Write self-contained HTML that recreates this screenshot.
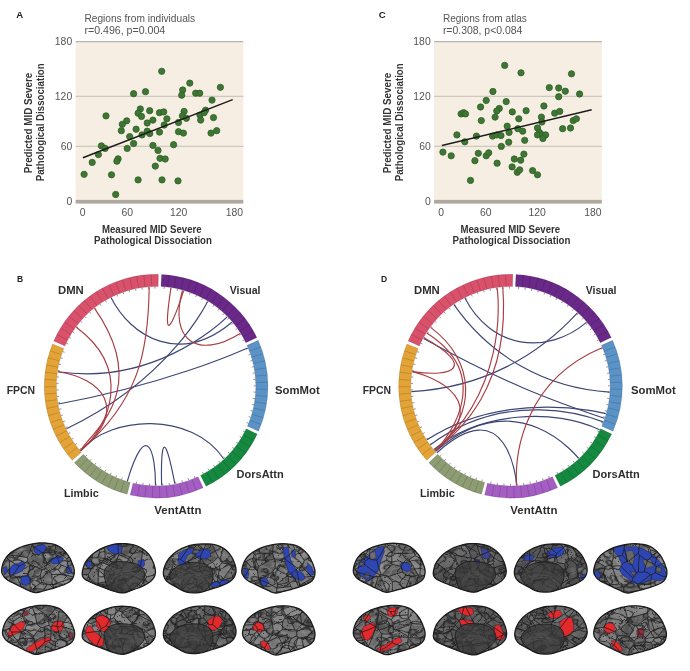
<!DOCTYPE html>
<html><head><meta charset="utf-8"><style>
html,body{margin:0;padding:0;background:#fff;}
svg{display:block;will-change:transform;}
</style></head><body>
<svg width="690" height="671" viewBox="0 0 690 671" font-family='"Liberation Sans", Arial, sans-serif'>
<rect width="690" height="671" fill="#ffffff"/>
<rect x="75.6" y="41.6" width="167.7" height="158.4" fill="#f6eee3"/>
<line x1="75.6" y1="41.6" x2="243.3" y2="41.6" stroke="#b9b3aa" stroke-width="1.2"/>
<line x1="75.6" y1="96.3" x2="243.3" y2="96.3" stroke="#c6bfb4" stroke-width="1"/>
<line x1="75.6" y1="146.3" x2="243.3" y2="146.3" stroke="#c6bfb4" stroke-width="1"/>
<rect x="75.6" y="199.9" width="167.7" height="3.7" fill="#aea89f"/>
<circle cx="161.7" cy="71.3" r="3.15" fill="#3e7733" stroke="#2f5f28" stroke-width="0.8"/>
<circle cx="189.8" cy="83.1" r="3.15" fill="#3e7733" stroke="#2f5f28" stroke-width="0.8"/>
<circle cx="220.4" cy="87.3" r="3.15" fill="#3e7733" stroke="#2f5f28" stroke-width="0.8"/>
<circle cx="182.7" cy="90.0" r="3.15" fill="#3e7733" stroke="#2f5f28" stroke-width="0.8"/>
<circle cx="181.7" cy="95.2" r="3.15" fill="#3e7733" stroke="#2f5f28" stroke-width="0.8"/>
<circle cx="195.7" cy="93.2" r="3.15" fill="#3e7733" stroke="#2f5f28" stroke-width="0.8"/>
<circle cx="199.7" cy="93.2" r="3.15" fill="#3e7733" stroke="#2f5f28" stroke-width="0.8"/>
<circle cx="133.6" cy="93.7" r="3.15" fill="#3e7733" stroke="#2f5f28" stroke-width="0.8"/>
<circle cx="145.5" cy="91.7" r="3.15" fill="#3e7733" stroke="#2f5f28" stroke-width="0.8"/>
<circle cx="212.0" cy="100.1" r="3.15" fill="#3e7733" stroke="#2f5f28" stroke-width="0.8"/>
<circle cx="106.0" cy="115.9" r="3.15" fill="#3e7733" stroke="#2f5f28" stroke-width="0.8"/>
<circle cx="140.3" cy="109.0" r="3.15" fill="#3e7733" stroke="#2f5f28" stroke-width="0.8"/>
<circle cx="138.1" cy="113.2" r="3.15" fill="#3e7733" stroke="#2f5f28" stroke-width="0.8"/>
<circle cx="141.5" cy="116.4" r="3.15" fill="#3e7733" stroke="#2f5f28" stroke-width="0.8"/>
<circle cx="149.7" cy="110.7" r="3.15" fill="#3e7733" stroke="#2f5f28" stroke-width="0.8"/>
<circle cx="159.5" cy="112.7" r="3.15" fill="#3e7733" stroke="#2f5f28" stroke-width="0.8"/>
<circle cx="163.7" cy="111.9" r="3.15" fill="#3e7733" stroke="#2f5f28" stroke-width="0.8"/>
<circle cx="166.9" cy="118.8" r="3.15" fill="#3e7733" stroke="#2f5f28" stroke-width="0.8"/>
<circle cx="152.9" cy="120.1" r="3.15" fill="#3e7733" stroke="#2f5f28" stroke-width="0.8"/>
<circle cx="147.2" cy="123.0" r="3.15" fill="#3e7733" stroke="#2f5f28" stroke-width="0.8"/>
<circle cx="126.7" cy="120.8" r="3.15" fill="#3e7733" stroke="#2f5f28" stroke-width="0.8"/>
<circle cx="122.3" cy="124.3" r="3.15" fill="#3e7733" stroke="#2f5f28" stroke-width="0.8"/>
<circle cx="121.3" cy="130.7" r="3.15" fill="#3e7733" stroke="#2f5f28" stroke-width="0.8"/>
<circle cx="136.1" cy="129.2" r="3.15" fill="#3e7733" stroke="#2f5f28" stroke-width="0.8"/>
<circle cx="129.7" cy="136.6" r="3.15" fill="#3e7733" stroke="#2f5f28" stroke-width="0.8"/>
<circle cx="133.6" cy="143.5" r="3.15" fill="#3e7733" stroke="#2f5f28" stroke-width="0.8"/>
<circle cx="142.0" cy="134.9" r="3.15" fill="#3e7733" stroke="#2f5f28" stroke-width="0.8"/>
<circle cx="147.2" cy="131.2" r="3.15" fill="#3e7733" stroke="#2f5f28" stroke-width="0.8"/>
<circle cx="149.7" cy="133.6" r="3.15" fill="#3e7733" stroke="#2f5f28" stroke-width="0.8"/>
<circle cx="159.5" cy="132.1" r="3.15" fill="#3e7733" stroke="#2f5f28" stroke-width="0.8"/>
<circle cx="164.2" cy="125.0" r="3.15" fill="#3e7733" stroke="#2f5f28" stroke-width="0.8"/>
<circle cx="184.1" cy="111.4" r="3.15" fill="#3e7733" stroke="#2f5f28" stroke-width="0.8"/>
<circle cx="182.4" cy="115.9" r="3.15" fill="#3e7733" stroke="#2f5f28" stroke-width="0.8"/>
<circle cx="186.4" cy="118.3" r="3.15" fill="#3e7733" stroke="#2f5f28" stroke-width="0.8"/>
<circle cx="178.5" cy="122.5" r="3.15" fill="#3e7733" stroke="#2f5f28" stroke-width="0.8"/>
<circle cx="178.5" cy="131.7" r="3.15" fill="#3e7733" stroke="#2f5f28" stroke-width="0.8"/>
<circle cx="183.4" cy="133.1" r="3.15" fill="#3e7733" stroke="#2f5f28" stroke-width="0.8"/>
<circle cx="199.9" cy="115.1" r="3.15" fill="#3e7733" stroke="#2f5f28" stroke-width="0.8"/>
<circle cx="200.7" cy="120.1" r="3.15" fill="#3e7733" stroke="#2f5f28" stroke-width="0.8"/>
<circle cx="205.6" cy="110.2" r="3.15" fill="#3e7733" stroke="#2f5f28" stroke-width="0.8"/>
<circle cx="204.1" cy="112.7" r="3.15" fill="#3e7733" stroke="#2f5f28" stroke-width="0.8"/>
<circle cx="213.5" cy="117.6" r="3.15" fill="#3e7733" stroke="#2f5f28" stroke-width="0.8"/>
<circle cx="211.0" cy="133.1" r="3.15" fill="#3e7733" stroke="#2f5f28" stroke-width="0.8"/>
<circle cx="216.7" cy="130.7" r="3.15" fill="#3e7733" stroke="#2f5f28" stroke-width="0.8"/>
<circle cx="101.4" cy="145.9" r="3.15" fill="#3e7733" stroke="#2f5f28" stroke-width="0.8"/>
<circle cx="105.1" cy="148.4" r="3.15" fill="#3e7733" stroke="#2f5f28" stroke-width="0.8"/>
<circle cx="98.4" cy="154.6" r="3.15" fill="#3e7733" stroke="#2f5f28" stroke-width="0.8"/>
<circle cx="92.2" cy="162.4" r="3.15" fill="#3e7733" stroke="#2f5f28" stroke-width="0.8"/>
<circle cx="84.1" cy="174.3" r="3.15" fill="#3e7733" stroke="#2f5f28" stroke-width="0.8"/>
<circle cx="111.5" cy="174.8" r="3.15" fill="#3e7733" stroke="#2f5f28" stroke-width="0.8"/>
<circle cx="118.1" cy="158.8" r="3.15" fill="#3e7733" stroke="#2f5f28" stroke-width="0.8"/>
<circle cx="116.9" cy="161.2" r="3.15" fill="#3e7733" stroke="#2f5f28" stroke-width="0.8"/>
<circle cx="127.2" cy="148.4" r="3.15" fill="#3e7733" stroke="#2f5f28" stroke-width="0.8"/>
<circle cx="152.9" cy="145.4" r="3.15" fill="#3e7733" stroke="#2f5f28" stroke-width="0.8"/>
<circle cx="158.0" cy="150.4" r="3.15" fill="#3e7733" stroke="#2f5f28" stroke-width="0.8"/>
<circle cx="173.6" cy="144.7" r="3.15" fill="#3e7733" stroke="#2f5f28" stroke-width="0.8"/>
<circle cx="160.0" cy="158.3" r="3.15" fill="#3e7733" stroke="#2f5f28" stroke-width="0.8"/>
<circle cx="165.2" cy="159.0" r="3.15" fill="#3e7733" stroke="#2f5f28" stroke-width="0.8"/>
<circle cx="155.3" cy="166.1" r="3.15" fill="#3e7733" stroke="#2f5f28" stroke-width="0.8"/>
<circle cx="138.1" cy="179.9" r="3.15" fill="#3e7733" stroke="#2f5f28" stroke-width="0.8"/>
<circle cx="162.0" cy="179.9" r="3.15" fill="#3e7733" stroke="#2f5f28" stroke-width="0.8"/>
<circle cx="178.0" cy="180.9" r="3.15" fill="#3e7733" stroke="#2f5f28" stroke-width="0.8"/>
<circle cx="115.7" cy="194.5" r="3.15" fill="#3e7733" stroke="#2f5f28" stroke-width="0.8"/>
<line x1="82.9" y1="157.8" x2="232.7" y2="99.6" stroke="#1c1c1c" stroke-width="1.5"/>
<text x="72.2" y="45.4" text-anchor="end" font-size="10.4" fill="#555">180</text>
<text x="72.2" y="99.8" text-anchor="end" font-size="10.4" fill="#555">120</text>
<text x="72.2" y="150.1" text-anchor="end" font-size="10.4" fill="#555">60</text>
<text x="72.2" y="205.2" text-anchor="end" font-size="10.4" fill="#555">0</text>
<text x="82.6" y="215.6" text-anchor="middle" font-size="10.4" fill="#555">0</text>
<text x="127.3" y="215.6" text-anchor="middle" font-size="10.4" fill="#555">60</text>
<text x="178.7" y="215.6" text-anchor="middle" font-size="10.4" fill="#555">120</text>
<text x="234.3" y="215.6" text-anchor="middle" font-size="10.4" fill="#555">180</text>
<text transform="translate(151.8,233.3) scale(1,1.1)" text-anchor="middle" font-size="9.7" font-weight="bold" fill="#333" textLength="99.7" lengthAdjust="spacingAndGlyphs">Measured MID Severe</text>
<text transform="translate(153.0,244.1) scale(1,1.1)" text-anchor="middle" font-size="9.7" font-weight="bold" fill="#333" textLength="117.9" lengthAdjust="spacingAndGlyphs">Pathological Dissociation</text>
<text transform="translate(32.2,123) rotate(-90) scale(1,1.1)" text-anchor="middle" font-size="9.7" font-weight="bold" fill="#333" textLength="100.5" lengthAdjust="spacingAndGlyphs">Predicted MID Severe</text>
<text transform="translate(44.1,122.3) rotate(-90) scale(1,1.1)" text-anchor="middle" font-size="9.7" font-weight="bold" fill="#333" textLength="118" lengthAdjust="spacingAndGlyphs">Pathological Dissociation</text>
<text x="84.4" y="21.6" font-size="10.1" textLength="110.8" lengthAdjust="spacingAndGlyphs" fill="#555">Regions from individuals</text>
<text x="84.4" y="34.2" font-size="10.1" textLength="80.9" lengthAdjust="spacingAndGlyphs" fill="#555">r=0.496, p=0.004</text>
<rect x="434.1" y="41.6" width="167.7" height="158.4" fill="#f6eee3"/>
<line x1="434.1" y1="41.6" x2="601.8" y2="41.6" stroke="#b9b3aa" stroke-width="1.2"/>
<line x1="434.1" y1="96.3" x2="601.8" y2="96.3" stroke="#c6bfb4" stroke-width="1"/>
<line x1="434.1" y1="146.3" x2="601.8" y2="146.3" stroke="#c6bfb4" stroke-width="1"/>
<rect x="434.1" y="199.9" width="167.7" height="3.7" fill="#aea89f"/>
<circle cx="504.7" cy="65.4" r="3.15" fill="#3e7733" stroke="#2f5f28" stroke-width="0.8"/>
<circle cx="521.0" cy="72.8" r="3.15" fill="#3e7733" stroke="#2f5f28" stroke-width="0.8"/>
<circle cx="571.5" cy="73.8" r="3.15" fill="#3e7733" stroke="#2f5f28" stroke-width="0.8"/>
<circle cx="549.3" cy="87.6" r="3.15" fill="#3e7733" stroke="#2f5f28" stroke-width="0.8"/>
<circle cx="558.7" cy="88.0" r="3.15" fill="#3e7733" stroke="#2f5f28" stroke-width="0.8"/>
<circle cx="565.3" cy="91.2" r="3.15" fill="#3e7733" stroke="#2f5f28" stroke-width="0.8"/>
<circle cx="558.7" cy="96.7" r="3.15" fill="#3e7733" stroke="#2f5f28" stroke-width="0.8"/>
<circle cx="579.6" cy="94.0" r="3.15" fill="#3e7733" stroke="#2f5f28" stroke-width="0.8"/>
<circle cx="492.9" cy="91.5" r="3.15" fill="#3e7733" stroke="#2f5f28" stroke-width="0.8"/>
<circle cx="486.2" cy="100.4" r="3.15" fill="#3e7733" stroke="#2f5f28" stroke-width="0.8"/>
<circle cx="506.2" cy="101.6" r="3.15" fill="#3e7733" stroke="#2f5f28" stroke-width="0.8"/>
<circle cx="480.6" cy="107.0" r="3.15" fill="#3e7733" stroke="#2f5f28" stroke-width="0.8"/>
<circle cx="461.1" cy="113.9" r="3.15" fill="#3e7733" stroke="#2f5f28" stroke-width="0.8"/>
<circle cx="463.6" cy="112.7" r="3.15" fill="#3e7733" stroke="#2f5f28" stroke-width="0.8"/>
<circle cx="465.5" cy="113.9" r="3.15" fill="#3e7733" stroke="#2f5f28" stroke-width="0.8"/>
<circle cx="499.3" cy="108.5" r="3.15" fill="#3e7733" stroke="#2f5f28" stroke-width="0.8"/>
<circle cx="496.8" cy="111.0" r="3.15" fill="#3e7733" stroke="#2f5f28" stroke-width="0.8"/>
<circle cx="495.1" cy="117.1" r="3.15" fill="#3e7733" stroke="#2f5f28" stroke-width="0.8"/>
<circle cx="512.3" cy="111.9" r="3.15" fill="#3e7733" stroke="#2f5f28" stroke-width="0.8"/>
<circle cx="526.1" cy="110.7" r="3.15" fill="#3e7733" stroke="#2f5f28" stroke-width="0.8"/>
<circle cx="518.8" cy="118.8" r="3.15" fill="#3e7733" stroke="#2f5f28" stroke-width="0.8"/>
<circle cx="543.9" cy="106.0" r="3.15" fill="#3e7733" stroke="#2f5f28" stroke-width="0.8"/>
<circle cx="554.7" cy="113.2" r="3.15" fill="#3e7733" stroke="#2f5f28" stroke-width="0.8"/>
<circle cx="559.7" cy="111.4" r="3.15" fill="#3e7733" stroke="#2f5f28" stroke-width="0.8"/>
<circle cx="541.4" cy="117.1" r="3.15" fill="#3e7733" stroke="#2f5f28" stroke-width="0.8"/>
<circle cx="541.9" cy="122.0" r="3.15" fill="#3e7733" stroke="#2f5f28" stroke-width="0.8"/>
<circle cx="481.3" cy="120.6" r="3.15" fill="#3e7733" stroke="#2f5f28" stroke-width="0.8"/>
<circle cx="507.2" cy="126.2" r="3.15" fill="#3e7733" stroke="#2f5f28" stroke-width="0.8"/>
<circle cx="509.1" cy="132.4" r="3.15" fill="#3e7733" stroke="#2f5f28" stroke-width="0.8"/>
<circle cx="517.8" cy="128.7" r="3.15" fill="#3e7733" stroke="#2f5f28" stroke-width="0.8"/>
<circle cx="522.7" cy="131.2" r="3.15" fill="#3e7733" stroke="#2f5f28" stroke-width="0.8"/>
<circle cx="537.5" cy="128.0" r="3.15" fill="#3e7733" stroke="#2f5f28" stroke-width="0.8"/>
<circle cx="539.4" cy="132.4" r="3.15" fill="#3e7733" stroke="#2f5f28" stroke-width="0.8"/>
<circle cx="537.5" cy="134.9" r="3.15" fill="#3e7733" stroke="#2f5f28" stroke-width="0.8"/>
<circle cx="542.4" cy="134.9" r="3.15" fill="#3e7733" stroke="#2f5f28" stroke-width="0.8"/>
<circle cx="545.6" cy="134.9" r="3.15" fill="#3e7733" stroke="#2f5f28" stroke-width="0.8"/>
<circle cx="542.9" cy="138.6" r="3.15" fill="#3e7733" stroke="#2f5f28" stroke-width="0.8"/>
<circle cx="562.6" cy="128.7" r="3.15" fill="#3e7733" stroke="#2f5f28" stroke-width="0.8"/>
<circle cx="570.5" cy="128.0" r="3.15" fill="#3e7733" stroke="#2f5f28" stroke-width="0.8"/>
<circle cx="573.2" cy="120.6" r="3.15" fill="#3e7733" stroke="#2f5f28" stroke-width="0.8"/>
<circle cx="576.4" cy="118.8" r="3.15" fill="#3e7733" stroke="#2f5f28" stroke-width="0.8"/>
<circle cx="456.9" cy="134.9" r="3.15" fill="#3e7733" stroke="#2f5f28" stroke-width="0.8"/>
<circle cx="464.8" cy="141.8" r="3.15" fill="#3e7733" stroke="#2f5f28" stroke-width="0.8"/>
<circle cx="476.4" cy="136.1" r="3.15" fill="#3e7733" stroke="#2f5f28" stroke-width="0.8"/>
<circle cx="492.6" cy="136.1" r="3.15" fill="#3e7733" stroke="#2f5f28" stroke-width="0.8"/>
<circle cx="496.8" cy="134.9" r="3.15" fill="#3e7733" stroke="#2f5f28" stroke-width="0.8"/>
<circle cx="501.0" cy="135.6" r="3.15" fill="#3e7733" stroke="#2f5f28" stroke-width="0.8"/>
<circle cx="524.7" cy="140.3" r="3.15" fill="#3e7733" stroke="#2f5f28" stroke-width="0.8"/>
<circle cx="508.7" cy="142.2" r="3.15" fill="#3e7733" stroke="#2f5f28" stroke-width="0.8"/>
<circle cx="501.3" cy="146.4" r="3.15" fill="#3e7733" stroke="#2f5f28" stroke-width="0.8"/>
<circle cx="442.9" cy="152.1" r="3.15" fill="#3e7733" stroke="#2f5f28" stroke-width="0.8"/>
<circle cx="451.2" cy="155.8" r="3.15" fill="#3e7733" stroke="#2f5f28" stroke-width="0.8"/>
<circle cx="478.3" cy="153.3" r="3.15" fill="#3e7733" stroke="#2f5f28" stroke-width="0.8"/>
<circle cx="486.2" cy="155.8" r="3.15" fill="#3e7733" stroke="#2f5f28" stroke-width="0.8"/>
<circle cx="488.7" cy="152.8" r="3.15" fill="#3e7733" stroke="#2f5f28" stroke-width="0.8"/>
<circle cx="474.9" cy="160.7" r="3.15" fill="#3e7733" stroke="#2f5f28" stroke-width="0.8"/>
<circle cx="497.1" cy="163.2" r="3.15" fill="#3e7733" stroke="#2f5f28" stroke-width="0.8"/>
<circle cx="514.3" cy="159.0" r="3.15" fill="#3e7733" stroke="#2f5f28" stroke-width="0.8"/>
<circle cx="520.7" cy="160.2" r="3.15" fill="#3e7733" stroke="#2f5f28" stroke-width="0.8"/>
<circle cx="523.9" cy="154.1" r="3.15" fill="#3e7733" stroke="#2f5f28" stroke-width="0.8"/>
<circle cx="512.1" cy="166.9" r="3.15" fill="#3e7733" stroke="#2f5f28" stroke-width="0.8"/>
<circle cx="517.3" cy="172.3" r="3.15" fill="#3e7733" stroke="#2f5f28" stroke-width="0.8"/>
<circle cx="519.7" cy="169.8" r="3.15" fill="#3e7733" stroke="#2f5f28" stroke-width="0.8"/>
<circle cx="532.6" cy="170.6" r="3.15" fill="#3e7733" stroke="#2f5f28" stroke-width="0.8"/>
<circle cx="537.5" cy="174.8" r="3.15" fill="#3e7733" stroke="#2f5f28" stroke-width="0.8"/>
<circle cx="470.5" cy="180.4" r="3.15" fill="#3e7733" stroke="#2f5f28" stroke-width="0.8"/>
<line x1="441.9" y1="145.4" x2="591.7" y2="109.7" stroke="#1c1c1c" stroke-width="1.5"/>
<text x="430.7" y="45.4" text-anchor="end" font-size="10.4" fill="#555">180</text>
<text x="430.7" y="99.8" text-anchor="end" font-size="10.4" fill="#555">120</text>
<text x="430.7" y="150.1" text-anchor="end" font-size="10.4" fill="#555">60</text>
<text x="430.7" y="205.2" text-anchor="end" font-size="10.4" fill="#555">0</text>
<text x="441.1" y="215.6" text-anchor="middle" font-size="10.4" fill="#555">0</text>
<text x="485.8" y="215.6" text-anchor="middle" font-size="10.4" fill="#555">60</text>
<text x="537.2" y="215.6" text-anchor="middle" font-size="10.4" fill="#555">120</text>
<text x="592.8" y="215.6" text-anchor="middle" font-size="10.4" fill="#555">180</text>
<text transform="translate(510.3,233.3) scale(1,1.1)" text-anchor="middle" font-size="9.7" font-weight="bold" fill="#333" textLength="99.7" lengthAdjust="spacingAndGlyphs">Measured MID Severe</text>
<text transform="translate(511.5,244.1) scale(1,1.1)" text-anchor="middle" font-size="9.7" font-weight="bold" fill="#333" textLength="117.9" lengthAdjust="spacingAndGlyphs">Pathological Dissociation</text>
<text transform="translate(390.7,123) rotate(-90) scale(1,1.1)" text-anchor="middle" font-size="9.7" font-weight="bold" fill="#333" textLength="100.5" lengthAdjust="spacingAndGlyphs">Predicted MID Severe</text>
<text transform="translate(402.6,122.3) rotate(-90) scale(1,1.1)" text-anchor="middle" font-size="9.7" font-weight="bold" fill="#333" textLength="118" lengthAdjust="spacingAndGlyphs">Pathological Dissociation</text>
<text x="442.9" y="21.6" font-size="10.1" textLength="83.9" lengthAdjust="spacingAndGlyphs" fill="#555">Regions from atlas</text>
<text x="442.9" y="34.2" font-size="10.1" textLength="79.5" lengthAdjust="spacingAndGlyphs" fill="#555">r=0.308, p&lt;0.084</text>
<text x="16.3" y="17.6" font-size="9.6" font-weight="bold" fill="#222">A</text>
<text x="378.8" y="17.7" font-size="9.6" font-weight="bold" fill="#222">C</text>
<path d="M161.57,274.43 A111.9,111.9 0 0 1 256.85,337.50 L245.86,342.81 A99.7,99.7 0 0 0 160.97,286.62 Z" fill="#6a2989" stroke="#000" stroke-opacity="0.18" stroke-width="0.6"/>
<line x1="167.66" y1="286.87" x2="169.00" y2="275.35" stroke="#000" stroke-opacity="0.24" stroke-width="0.6"/>
<line x1="174.28" y1="287.87" x2="176.39" y2="276.46" stroke="#000" stroke-opacity="0.24" stroke-width="0.6"/>
<line x1="180.82" y1="289.30" x2="183.69" y2="278.06" stroke="#000" stroke-opacity="0.24" stroke-width="0.6"/>
<line x1="187.25" y1="291.18" x2="190.86" y2="280.15" stroke="#000" stroke-opacity="0.24" stroke-width="0.6"/>
<line x1="193.54" y1="293.47" x2="197.88" y2="282.72" stroke="#000" stroke-opacity="0.24" stroke-width="0.6"/>
<line x1="199.66" y1="296.19" x2="204.72" y2="285.75" stroke="#000" stroke-opacity="0.24" stroke-width="0.6"/>
<line x1="205.59" y1="299.30" x2="211.33" y2="289.22" stroke="#000" stroke-opacity="0.24" stroke-width="0.6"/>
<line x1="211.29" y1="302.81" x2="217.70" y2="293.14" stroke="#000" stroke-opacity="0.24" stroke-width="0.6"/>
<line x1="216.75" y1="306.69" x2="223.79" y2="297.47" stroke="#000" stroke-opacity="0.24" stroke-width="0.6"/>
<line x1="221.94" y1="310.93" x2="229.57" y2="302.20" stroke="#000" stroke-opacity="0.24" stroke-width="0.6"/>
<line x1="226.83" y1="315.50" x2="235.03" y2="307.30" stroke="#000" stroke-opacity="0.24" stroke-width="0.6"/>
<line x1="231.40" y1="320.40" x2="240.13" y2="312.76" stroke="#000" stroke-opacity="0.24" stroke-width="0.6"/>
<line x1="235.63" y1="325.58" x2="244.86" y2="318.55" stroke="#000" stroke-opacity="0.24" stroke-width="0.6"/>
<line x1="239.51" y1="331.04" x2="249.19" y2="324.64" stroke="#000" stroke-opacity="0.24" stroke-width="0.6"/>
<line x1="243.02" y1="336.75" x2="253.10" y2="331.01" stroke="#000" stroke-opacity="0.24" stroke-width="0.6"/>
<line x1="164.1" y1="289.0" x2="164.3" y2="286.8" stroke="#6a6a6a" stroke-width="0.7"/>
<line x1="170.6" y1="289.8" x2="170.9" y2="287.6" stroke="#6a6a6a" stroke-width="0.7"/>
<line x1="177.0" y1="291.0" x2="177.5" y2="288.8" stroke="#6a6a6a" stroke-width="0.7"/>
<line x1="183.4" y1="292.6" x2="184.0" y2="290.5" stroke="#6a6a6a" stroke-width="0.7"/>
<line x1="189.6" y1="294.6" x2="190.3" y2="292.6" stroke="#6a6a6a" stroke-width="0.7"/>
<line x1="195.6" y1="297.1" x2="196.5" y2="295.1" stroke="#6a6a6a" stroke-width="0.7"/>
<line x1="201.5" y1="299.9" x2="202.5" y2="298.0" stroke="#6a6a6a" stroke-width="0.7"/>
<line x1="207.2" y1="303.1" x2="208.3" y2="301.3" stroke="#6a6a6a" stroke-width="0.7"/>
<line x1="212.6" y1="306.7" x2="213.9" y2="305.0" stroke="#6a6a6a" stroke-width="0.7"/>
<line x1="217.8" y1="310.7" x2="219.2" y2="309.0" stroke="#6a6a6a" stroke-width="0.7"/>
<line x1="222.7" y1="315.0" x2="224.2" y2="313.4" stroke="#6a6a6a" stroke-width="0.7"/>
<line x1="227.3" y1="319.6" x2="228.9" y2="318.1" stroke="#6a6a6a" stroke-width="0.7"/>
<line x1="231.6" y1="324.5" x2="233.3" y2="323.1" stroke="#6a6a6a" stroke-width="0.7"/>
<line x1="235.6" y1="329.7" x2="237.4" y2="328.5" stroke="#6a6a6a" stroke-width="0.7"/>
<line x1="239.2" y1="335.2" x2="241.1" y2="334.0" stroke="#6a6a6a" stroke-width="0.7"/>
<line x1="242.4" y1="340.8" x2="244.4" y2="339.8" stroke="#6a6a6a" stroke-width="0.7"/>
<path d="M258.17,340.33 A111.9,111.9 0 0 1 258.56,431.18 L247.39,426.27 A99.7,99.7 0 0 0 247.04,345.33 Z" fill="#5b93c7" stroke="#000" stroke-opacity="0.18" stroke-width="0.6"/>
<line x1="249.76" y1="351.15" x2="260.62" y2="347.09" stroke="#000" stroke-opacity="0.24" stroke-width="0.6"/>
<line x1="251.82" y1="357.25" x2="262.92" y2="353.89" stroke="#000" stroke-opacity="0.24" stroke-width="0.6"/>
<line x1="253.48" y1="363.46" x2="264.78" y2="360.82" stroke="#000" stroke-opacity="0.24" stroke-width="0.6"/>
<line x1="254.74" y1="369.76" x2="266.18" y2="367.85" stroke="#000" stroke-opacity="0.24" stroke-width="0.6"/>
<line x1="255.59" y1="376.13" x2="267.13" y2="374.97" stroke="#000" stroke-opacity="0.24" stroke-width="0.6"/>
<line x1="256.03" y1="382.55" x2="267.63" y2="382.13" stroke="#000" stroke-opacity="0.24" stroke-width="0.6"/>
<line x1="256.06" y1="388.98" x2="267.66" y2="389.30" stroke="#000" stroke-opacity="0.24" stroke-width="0.6"/>
<line x1="255.68" y1="395.40" x2="267.23" y2="396.46" stroke="#000" stroke-opacity="0.24" stroke-width="0.6"/>
<line x1="254.88" y1="401.78" x2="266.34" y2="403.58" stroke="#000" stroke-opacity="0.24" stroke-width="0.6"/>
<line x1="253.67" y1="408.09" x2="264.99" y2="410.63" stroke="#000" stroke-opacity="0.24" stroke-width="0.6"/>
<line x1="252.07" y1="414.32" x2="263.20" y2="417.58" stroke="#000" stroke-opacity="0.24" stroke-width="0.6"/>
<line x1="250.06" y1="420.43" x2="260.96" y2="424.40" stroke="#000" stroke-opacity="0.24" stroke-width="0.6"/>
<line x1="246.3" y1="349.1" x2="248.3" y2="348.3" stroke="#6a6a6a" stroke-width="0.7"/>
<line x1="248.5" y1="355.0" x2="250.6" y2="354.3" stroke="#6a6a6a" stroke-width="0.7"/>
<line x1="250.3" y1="361.0" x2="252.4" y2="360.4" stroke="#6a6a6a" stroke-width="0.7"/>
<line x1="251.7" y1="367.1" x2="253.9" y2="366.7" stroke="#6a6a6a" stroke-width="0.7"/>
<line x1="252.7" y1="373.3" x2="254.9" y2="373.0" stroke="#6a6a6a" stroke-width="0.7"/>
<line x1="253.4" y1="379.5" x2="255.6" y2="379.4" stroke="#6a6a6a" stroke-width="0.7"/>
<line x1="253.6" y1="385.8" x2="255.8" y2="385.8" stroke="#6a6a6a" stroke-width="0.7"/>
<line x1="253.4" y1="392.0" x2="255.6" y2="392.2" stroke="#6a6a6a" stroke-width="0.7"/>
<line x1="252.8" y1="398.3" x2="255.0" y2="398.6" stroke="#6a6a6a" stroke-width="0.7"/>
<line x1="251.9" y1="404.5" x2="254.0" y2="404.9" stroke="#6a6a6a" stroke-width="0.7"/>
<line x1="250.5" y1="410.6" x2="252.6" y2="411.1" stroke="#6a6a6a" stroke-width="0.7"/>
<line x1="248.7" y1="416.6" x2="250.8" y2="417.3" stroke="#6a6a6a" stroke-width="0.7"/>
<line x1="246.6" y1="422.5" x2="248.6" y2="423.3" stroke="#6a6a6a" stroke-width="0.7"/>
<path d="M257.27,434.02 A111.9,111.9 0 0 1 206.03,486.34 L200.59,475.42 A99.7,99.7 0 0 0 246.24,428.81 Z" fill="#15893f" stroke="#000" stroke-opacity="0.18" stroke-width="0.6"/>
<line x1="243.46" y1="434.86" x2="253.59" y2="440.51" stroke="#000" stroke-opacity="0.24" stroke-width="0.6"/>
<line x1="240.02" y1="440.58" x2="249.76" y2="446.88" stroke="#000" stroke-opacity="0.24" stroke-width="0.6"/>
<line x1="236.21" y1="446.05" x2="245.51" y2="452.99" stroke="#000" stroke-opacity="0.24" stroke-width="0.6"/>
<line x1="232.05" y1="451.25" x2="240.86" y2="458.80" stroke="#000" stroke-opacity="0.24" stroke-width="0.6"/>
<line x1="227.55" y1="456.17" x2="235.84" y2="464.28" stroke="#000" stroke-opacity="0.24" stroke-width="0.6"/>
<line x1="222.73" y1="460.77" x2="230.46" y2="469.42" stroke="#000" stroke-opacity="0.24" stroke-width="0.6"/>
<line x1="217.61" y1="465.04" x2="224.75" y2="474.19" stroke="#000" stroke-opacity="0.24" stroke-width="0.6"/>
<line x1="212.22" y1="468.97" x2="218.73" y2="478.57" stroke="#000" stroke-opacity="0.24" stroke-width="0.6"/>
<line x1="206.58" y1="472.52" x2="212.44" y2="482.54" stroke="#000" stroke-opacity="0.24" stroke-width="0.6"/>
<line x1="242.8" y1="430.8" x2="244.8" y2="431.8" stroke="#6a6a6a" stroke-width="0.7"/>
<line x1="239.6" y1="436.5" x2="241.5" y2="437.6" stroke="#6a6a6a" stroke-width="0.7"/>
<line x1="236.1" y1="441.9" x2="237.9" y2="443.2" stroke="#6a6a6a" stroke-width="0.7"/>
<line x1="232.2" y1="447.1" x2="233.9" y2="448.5" stroke="#6a6a6a" stroke-width="0.7"/>
<line x1="228.0" y1="452.1" x2="229.6" y2="453.5" stroke="#6a6a6a" stroke-width="0.7"/>
<line x1="223.4" y1="456.7" x2="225.0" y2="458.3" stroke="#6a6a6a" stroke-width="0.7"/>
<line x1="218.6" y1="461.0" x2="220.0" y2="462.7" stroke="#6a6a6a" stroke-width="0.7"/>
<line x1="213.5" y1="465.0" x2="214.8" y2="466.8" stroke="#6a6a6a" stroke-width="0.7"/>
<line x1="208.1" y1="468.7" x2="209.3" y2="470.5" stroke="#6a6a6a" stroke-width="0.7"/>
<line x1="202.5" y1="472.0" x2="203.5" y2="473.9" stroke="#6a6a6a" stroke-width="0.7"/>
<path d="M203.21,487.70 A111.9,111.9 0 0 1 130.17,495.05 L132.99,483.19 A99.7,99.7 0 0 0 198.08,476.63 Z" fill="#a35dc3" stroke="#000" stroke-opacity="0.18" stroke-width="0.6"/>
<line x1="192.05" y1="479.51" x2="196.22" y2="490.34" stroke="#000" stroke-opacity="0.24" stroke-width="0.6"/>
<line x1="185.74" y1="481.71" x2="189.18" y2="492.79" stroke="#000" stroke-opacity="0.24" stroke-width="0.6"/>
<line x1="179.29" y1="483.47" x2="181.98" y2="494.76" stroke="#000" stroke-opacity="0.24" stroke-width="0.6"/>
<line x1="172.74" y1="484.81" x2="174.67" y2="496.24" stroke="#000" stroke-opacity="0.24" stroke-width="0.6"/>
<line x1="166.12" y1="485.70" x2="167.28" y2="497.24" stroke="#000" stroke-opacity="0.24" stroke-width="0.6"/>
<line x1="159.45" y1="486.14" x2="159.84" y2="497.74" stroke="#000" stroke-opacity="0.24" stroke-width="0.6"/>
<line x1="152.77" y1="486.14" x2="152.38" y2="497.74" stroke="#000" stroke-opacity="0.24" stroke-width="0.6"/>
<line x1="146.10" y1="485.70" x2="144.94" y2="497.24" stroke="#000" stroke-opacity="0.24" stroke-width="0.6"/>
<line x1="139.47" y1="484.81" x2="137.55" y2="496.25" stroke="#000" stroke-opacity="0.24" stroke-width="0.6"/>
<line x1="194.2" y1="476.0" x2="195.0" y2="478.0" stroke="#6a6a6a" stroke-width="0.7"/>
<line x1="188.1" y1="478.3" x2="188.8" y2="480.4" stroke="#6a6a6a" stroke-width="0.7"/>
<line x1="181.9" y1="480.2" x2="182.5" y2="482.4" stroke="#6a6a6a" stroke-width="0.7"/>
<line x1="175.5" y1="481.7" x2="176.0" y2="483.9" stroke="#6a6a6a" stroke-width="0.7"/>
<line x1="169.1" y1="482.8" x2="169.4" y2="485.0" stroke="#6a6a6a" stroke-width="0.7"/>
<line x1="162.6" y1="483.5" x2="162.8" y2="485.7" stroke="#6a6a6a" stroke-width="0.7"/>
<line x1="156.1" y1="483.7" x2="156.1" y2="485.9" stroke="#6a6a6a" stroke-width="0.7"/>
<line x1="149.6" y1="483.5" x2="149.4" y2="485.7" stroke="#6a6a6a" stroke-width="0.7"/>
<line x1="143.1" y1="482.8" x2="142.8" y2="485.0" stroke="#6a6a6a" stroke-width="0.7"/>
<line x1="136.7" y1="481.7" x2="136.2" y2="483.9" stroke="#6a6a6a" stroke-width="0.7"/>
<path d="M127.14,494.29 A111.9,111.9 0 0 1 74.39,462.66 L83.30,454.32 A99.7,99.7 0 0 0 130.30,482.50 Z" fill="#8d9c72" stroke="#000" stroke-opacity="0.18" stroke-width="0.6"/>
<line x1="124.30" y1="481.01" x2="120.61" y2="492.01" stroke="#000" stroke-opacity="0.24" stroke-width="0.6"/>
<line x1="118.50" y1="478.86" x2="114.13" y2="489.61" stroke="#000" stroke-opacity="0.24" stroke-width="0.6"/>
<line x1="112.84" y1="476.36" x2="107.82" y2="486.82" stroke="#000" stroke-opacity="0.24" stroke-width="0.6"/>
<line x1="107.35" y1="473.51" x2="101.69" y2="483.64" stroke="#000" stroke-opacity="0.24" stroke-width="0.6"/>
<line x1="102.04" y1="470.33" x2="95.77" y2="480.09" stroke="#000" stroke-opacity="0.24" stroke-width="0.6"/>
<line x1="96.95" y1="466.83" x2="90.08" y2="476.18" stroke="#000" stroke-opacity="0.24" stroke-width="0.6"/>
<line x1="92.07" y1="463.02" x2="84.65" y2="471.93" stroke="#000" stroke-opacity="0.24" stroke-width="0.6"/>
<line x1="87.45" y1="458.91" x2="79.48" y2="467.35" stroke="#000" stroke-opacity="0.24" stroke-width="0.6"/>
<line x1="128.0" y1="479.6" x2="127.3" y2="481.7" stroke="#6a6a6a" stroke-width="0.7"/>
<line x1="122.2" y1="477.6" x2="121.5" y2="479.7" stroke="#6a6a6a" stroke-width="0.7"/>
<line x1="116.7" y1="475.4" x2="115.8" y2="477.4" stroke="#6a6a6a" stroke-width="0.7"/>
<line x1="111.2" y1="472.8" x2="110.2" y2="474.7" stroke="#6a6a6a" stroke-width="0.7"/>
<line x1="106.0" y1="469.8" x2="104.8" y2="471.7" stroke="#6a6a6a" stroke-width="0.7"/>
<line x1="100.9" y1="466.6" x2="99.6" y2="468.4" stroke="#6a6a6a" stroke-width="0.7"/>
<line x1="96.0" y1="463.0" x2="94.7" y2="464.7" stroke="#6a6a6a" stroke-width="0.7"/>
<line x1="91.4" y1="459.1" x2="89.9" y2="460.8" stroke="#6a6a6a" stroke-width="0.7"/>
<line x1="87.0" y1="455.0" x2="85.4" y2="456.5" stroke="#6a6a6a" stroke-width="0.7"/>
<path d="M72.29,460.35 A111.9,111.9 0 0 1 52.50,343.92 L63.79,348.53 A99.7,99.7 0 0 0 81.43,452.26 Z" fill="#e3a337" stroke="#000" stroke-opacity="0.18" stroke-width="0.6"/>
<line x1="77.03" y1="447.43" x2="67.86" y2="454.53" stroke="#000" stroke-opacity="0.24" stroke-width="0.6"/>
<line x1="73.20" y1="442.13" x2="63.59" y2="448.62" stroke="#000" stroke-opacity="0.24" stroke-width="0.6"/>
<line x1="69.72" y1="436.59" x2="59.70" y2="442.44" stroke="#000" stroke-opacity="0.24" stroke-width="0.6"/>
<line x1="66.62" y1="430.84" x2="56.24" y2="436.02" stroke="#000" stroke-opacity="0.24" stroke-width="0.6"/>
<line x1="63.89" y1="424.89" x2="53.19" y2="429.38" stroke="#000" stroke-opacity="0.24" stroke-width="0.6"/>
<line x1="61.56" y1="418.79" x2="50.59" y2="422.57" stroke="#000" stroke-opacity="0.24" stroke-width="0.6"/>
<line x1="59.63" y1="412.54" x2="48.44" y2="415.59" stroke="#000" stroke-opacity="0.24" stroke-width="0.6"/>
<line x1="58.12" y1="406.18" x2="46.75" y2="408.49" stroke="#000" stroke-opacity="0.24" stroke-width="0.6"/>
<line x1="57.02" y1="399.73" x2="45.53" y2="401.30" stroke="#000" stroke-opacity="0.24" stroke-width="0.6"/>
<line x1="56.35" y1="393.23" x2="44.78" y2="394.04" stroke="#000" stroke-opacity="0.24" stroke-width="0.6"/>
<line x1="56.10" y1="386.69" x2="44.50" y2="386.75" stroke="#000" stroke-opacity="0.24" stroke-width="0.6"/>
<line x1="56.28" y1="380.16" x2="44.70" y2="379.46" stroke="#000" stroke-opacity="0.24" stroke-width="0.6"/>
<line x1="56.89" y1="373.65" x2="45.38" y2="372.19" stroke="#000" stroke-opacity="0.24" stroke-width="0.6"/>
<line x1="57.92" y1="367.19" x2="46.54" y2="364.98" stroke="#000" stroke-opacity="0.24" stroke-width="0.6"/>
<line x1="59.38" y1="360.81" x2="48.16" y2="357.87" stroke="#000" stroke-opacity="0.24" stroke-width="0.6"/>
<line x1="61.24" y1="354.55" x2="50.24" y2="350.88" stroke="#000" stroke-opacity="0.24" stroke-width="0.6"/>
<line x1="81.0" y1="448.4" x2="79.3" y2="449.8" stroke="#6a6a6a" stroke-width="0.7"/>
<line x1="77.1" y1="443.3" x2="75.3" y2="444.6" stroke="#6a6a6a" stroke-width="0.7"/>
<line x1="73.5" y1="438.1" x2="71.7" y2="439.2" stroke="#6a6a6a" stroke-width="0.7"/>
<line x1="70.3" y1="432.6" x2="68.4" y2="433.6" stroke="#6a6a6a" stroke-width="0.7"/>
<line x1="67.5" y1="426.8" x2="65.5" y2="427.8" stroke="#6a6a6a" stroke-width="0.7"/>
<line x1="65.0" y1="421.0" x2="63.0" y2="421.8" stroke="#6a6a6a" stroke-width="0.7"/>
<line x1="62.9" y1="414.9" x2="60.8" y2="415.6" stroke="#6a6a6a" stroke-width="0.7"/>
<line x1="61.3" y1="408.8" x2="59.1" y2="409.3" stroke="#6a6a6a" stroke-width="0.7"/>
<line x1="60.0" y1="402.5" x2="57.8" y2="402.9" stroke="#6a6a6a" stroke-width="0.7"/>
<line x1="59.1" y1="396.2" x2="56.9" y2="396.5" stroke="#6a6a6a" stroke-width="0.7"/>
<line x1="58.7" y1="389.9" x2="56.5" y2="390.0" stroke="#6a6a6a" stroke-width="0.7"/>
<line x1="58.6" y1="383.5" x2="56.4" y2="383.4" stroke="#6a6a6a" stroke-width="0.7"/>
<line x1="59.0" y1="377.1" x2="56.8" y2="376.9" stroke="#6a6a6a" stroke-width="0.7"/>
<line x1="59.8" y1="370.8" x2="57.7" y2="370.5" stroke="#6a6a6a" stroke-width="0.7"/>
<line x1="61.0" y1="364.5" x2="58.9" y2="364.1" stroke="#6a6a6a" stroke-width="0.7"/>
<line x1="62.7" y1="358.4" x2="60.5" y2="357.8" stroke="#6a6a6a" stroke-width="0.7"/>
<line x1="64.7" y1="352.3" x2="62.6" y2="351.6" stroke="#6a6a6a" stroke-width="0.7"/>
<path d="M53.72,341.04 A111.9,111.9 0 0 1 158.44,274.32 L158.19,286.52 A99.7,99.7 0 0 0 64.88,345.97 Z" fill="#d9516b" stroke="#000" stroke-opacity="0.18" stroke-width="0.6"/>
<line x1="67.43" y1="339.96" x2="57.15" y2="334.59" stroke="#000" stroke-opacity="0.24" stroke-width="0.6"/>
<line x1="70.64" y1="334.26" x2="60.73" y2="328.24" stroke="#000" stroke-opacity="0.24" stroke-width="0.6"/>
<line x1="74.22" y1="328.79" x2="64.72" y2="322.14" stroke="#000" stroke-opacity="0.24" stroke-width="0.6"/>
<line x1="78.14" y1="323.57" x2="69.10" y2="316.30" stroke="#000" stroke-opacity="0.24" stroke-width="0.6"/>
<line x1="82.40" y1="318.61" x2="73.85" y2="310.77" stroke="#000" stroke-opacity="0.24" stroke-width="0.6"/>
<line x1="86.97" y1="313.94" x2="78.95" y2="305.56" stroke="#000" stroke-opacity="0.24" stroke-width="0.6"/>
<line x1="91.84" y1="309.58" x2="84.38" y2="300.70" stroke="#000" stroke-opacity="0.24" stroke-width="0.6"/>
<line x1="96.98" y1="305.55" x2="90.12" y2="296.19" stroke="#000" stroke-opacity="0.24" stroke-width="0.6"/>
<line x1="102.37" y1="301.86" x2="96.14" y2="292.08" stroke="#000" stroke-opacity="0.24" stroke-width="0.6"/>
<line x1="107.99" y1="298.53" x2="102.41" y2="288.36" stroke="#000" stroke-opacity="0.24" stroke-width="0.6"/>
<line x1="113.82" y1="295.58" x2="108.92" y2="285.07" stroke="#000" stroke-opacity="0.24" stroke-width="0.6"/>
<line x1="119.83" y1="293.01" x2="115.62" y2="282.20" stroke="#000" stroke-opacity="0.24" stroke-width="0.6"/>
<line x1="125.99" y1="290.84" x2="122.50" y2="279.78" stroke="#000" stroke-opacity="0.24" stroke-width="0.6"/>
<line x1="132.28" y1="289.08" x2="129.52" y2="277.81" stroke="#000" stroke-opacity="0.24" stroke-width="0.6"/>
<line x1="138.68" y1="287.73" x2="136.66" y2="276.31" stroke="#000" stroke-opacity="0.24" stroke-width="0.6"/>
<line x1="145.15" y1="286.80" x2="143.88" y2="275.27" stroke="#000" stroke-opacity="0.24" stroke-width="0.6"/>
<line x1="151.66" y1="286.30" x2="151.15" y2="274.71" stroke="#000" stroke-opacity="0.24" stroke-width="0.6"/>
<line x1="68.2" y1="344.0" x2="66.2" y2="343.0" stroke="#6a6a6a" stroke-width="0.7"/>
<line x1="71.2" y1="338.3" x2="69.3" y2="337.2" stroke="#6a6a6a" stroke-width="0.7"/>
<line x1="74.5" y1="332.9" x2="72.6" y2="331.7" stroke="#6a6a6a" stroke-width="0.7"/>
<line x1="78.1" y1="327.7" x2="76.4" y2="326.3" stroke="#6a6a6a" stroke-width="0.7"/>
<line x1="82.1" y1="322.7" x2="80.5" y2="321.3" stroke="#6a6a6a" stroke-width="0.7"/>
<line x1="86.4" y1="318.0" x2="84.9" y2="316.5" stroke="#6a6a6a" stroke-width="0.7"/>
<line x1="91.0" y1="313.6" x2="89.6" y2="311.9" stroke="#6a6a6a" stroke-width="0.7"/>
<line x1="95.9" y1="309.5" x2="94.6" y2="307.8" stroke="#6a6a6a" stroke-width="0.7"/>
<line x1="101.1" y1="305.7" x2="99.8" y2="303.9" stroke="#6a6a6a" stroke-width="0.7"/>
<line x1="106.4" y1="302.3" x2="105.3" y2="300.4" stroke="#6a6a6a" stroke-width="0.7"/>
<line x1="112.0" y1="299.2" x2="111.0" y2="297.3" stroke="#6a6a6a" stroke-width="0.7"/>
<line x1="117.8" y1="296.5" x2="116.9" y2="294.5" stroke="#6a6a6a" stroke-width="0.7"/>
<line x1="123.7" y1="294.2" x2="123.0" y2="292.2" stroke="#6a6a6a" stroke-width="0.7"/>
<line x1="129.8" y1="292.3" x2="129.2" y2="290.2" stroke="#6a6a6a" stroke-width="0.7"/>
<line x1="136.0" y1="290.8" x2="135.5" y2="288.6" stroke="#6a6a6a" stroke-width="0.7"/>
<line x1="142.3" y1="289.7" x2="141.9" y2="287.5" stroke="#6a6a6a" stroke-width="0.7"/>
<line x1="148.6" y1="289.0" x2="148.4" y2="286.8" stroke="#6a6a6a" stroke-width="0.7"/>
<line x1="155.0" y1="288.7" x2="154.9" y2="286.5" stroke="#6a6a6a" stroke-width="0.7"/>
<path d="M111.1,297.8 C131.3,337.6 180.7,365.4 231.9,322.2" fill="none" stroke="#3d4675" stroke-width="1.15"/>
<path d="M207.5,301.4 C208.4,300.0 171.8,378.5 66.5,428.8" fill="none" stroke="#3d4675" stroke-width="1.15"/>
<path d="M227.1,316.9 C216.5,327.3 151.2,385.5 58.0,371.7" fill="none" stroke="#3d4675" stroke-width="1.15"/>
<path d="M247.6,348.0 C243.1,349.9 168.3,384.0 58.5,404.0" fill="none" stroke="#3d4675" stroke-width="1.15"/>
<path d="M80.6,450.6 C110.8,415.1 191.8,411.5 223.7,458.8" fill="none" stroke="#3d4675" stroke-width="1.15"/>
<path d="M127.3,481.1 C146.7,417.0 155.7,453.2 155.5,485.4" fill="none" stroke="#3d4675" stroke-width="1.15"/>
<path d="M161.7,485.2 C161.4,480.3 159.4,403.2 174.8,483.6" fill="none" stroke="#3d4675" stroke-width="1.15"/>
<path d="M170.9,288.1 C158.7,369.0 182.8,293.2 183.5,290.9" fill="none" stroke="#a83c42" stroke-width="1.15"/>
<path d="M182.4,290.5 C168.6,340.8 198.1,359.8 240.1,333.4" fill="none" stroke="#a83c42" stroke-width="1.15"/>
<path d="M94.6,308.3 C153.9,393.1 87.5,435.5 80.7,450.6" fill="none" stroke="#a83c42" stroke-width="1.15"/>
<path d="M76.3,327.3 C132.2,368.5 110.8,424.9 80.7,450.6" fill="none" stroke="#a83c42" stroke-width="1.15"/>
<path d="M149.2,287.2 C148.3,352.8 138.8,400.2 80.7,450.6" fill="none" stroke="#a83c42" stroke-width="1.15"/>
<path d="M58.0,371.7 C102.1,378.2 129.7,408.8 80.7,450.6" fill="none" stroke="#a83c42" stroke-width="1.15"/>
<text x="58.0" y="293.8" font-size="11" font-weight="bold" fill="#2e2e2e" textLength="25.8" lengthAdjust="spacingAndGlyphs">DMN</text>
<text x="229.7" y="293.6" font-size="11" font-weight="bold" fill="#2e2e2e" textLength="30.8" lengthAdjust="spacingAndGlyphs">Visual</text>
<text x="6.7" y="393.6" font-size="11" font-weight="bold" fill="#2e2e2e" textLength="28.3" lengthAdjust="spacingAndGlyphs">FPCN</text>
<text x="275.0" y="393.6" font-size="11" font-weight="bold" fill="#2e2e2e" textLength="44.7" lengthAdjust="spacingAndGlyphs">SomMot</text>
<text x="63.9" y="497.2" font-size="11" font-weight="bold" fill="#2e2e2e" textLength="34.8" lengthAdjust="spacingAndGlyphs">Limbic</text>
<text x="236.5" y="477.9" font-size="11" font-weight="bold" fill="#2e2e2e" textLength="47.2" lengthAdjust="spacingAndGlyphs">DorsAttn</text>
<text x="154.3" y="514.4" font-size="11" font-weight="bold" fill="#2e2e2e" textLength="47.1" lengthAdjust="spacingAndGlyphs">VentAttn</text>
<path d="M515.97,274.43 A111.9,111.9 0 0 1 611.25,337.50 L600.26,342.81 A99.7,99.7 0 0 0 515.37,286.62 Z" fill="#6a2989" stroke="#000" stroke-opacity="0.18" stroke-width="0.6"/>
<line x1="522.06" y1="286.87" x2="523.40" y2="275.35" stroke="#000" stroke-opacity="0.24" stroke-width="0.6"/>
<line x1="528.68" y1="287.87" x2="530.79" y2="276.46" stroke="#000" stroke-opacity="0.24" stroke-width="0.6"/>
<line x1="535.22" y1="289.30" x2="538.09" y2="278.06" stroke="#000" stroke-opacity="0.24" stroke-width="0.6"/>
<line x1="541.65" y1="291.18" x2="545.26" y2="280.15" stroke="#000" stroke-opacity="0.24" stroke-width="0.6"/>
<line x1="547.94" y1="293.47" x2="552.28" y2="282.72" stroke="#000" stroke-opacity="0.24" stroke-width="0.6"/>
<line x1="554.06" y1="296.19" x2="559.12" y2="285.75" stroke="#000" stroke-opacity="0.24" stroke-width="0.6"/>
<line x1="559.99" y1="299.30" x2="565.73" y2="289.22" stroke="#000" stroke-opacity="0.24" stroke-width="0.6"/>
<line x1="565.69" y1="302.81" x2="572.10" y2="293.14" stroke="#000" stroke-opacity="0.24" stroke-width="0.6"/>
<line x1="571.15" y1="306.69" x2="578.19" y2="297.47" stroke="#000" stroke-opacity="0.24" stroke-width="0.6"/>
<line x1="576.34" y1="310.93" x2="583.97" y2="302.20" stroke="#000" stroke-opacity="0.24" stroke-width="0.6"/>
<line x1="581.23" y1="315.50" x2="589.43" y2="307.30" stroke="#000" stroke-opacity="0.24" stroke-width="0.6"/>
<line x1="585.80" y1="320.40" x2="594.53" y2="312.76" stroke="#000" stroke-opacity="0.24" stroke-width="0.6"/>
<line x1="590.03" y1="325.58" x2="599.26" y2="318.55" stroke="#000" stroke-opacity="0.24" stroke-width="0.6"/>
<line x1="593.91" y1="331.04" x2="603.59" y2="324.64" stroke="#000" stroke-opacity="0.24" stroke-width="0.6"/>
<line x1="597.42" y1="336.75" x2="607.50" y2="331.01" stroke="#000" stroke-opacity="0.24" stroke-width="0.6"/>
<line x1="518.5" y1="289.0" x2="518.7" y2="286.8" stroke="#6a6a6a" stroke-width="0.7"/>
<line x1="525.0" y1="289.8" x2="525.3" y2="287.6" stroke="#6a6a6a" stroke-width="0.7"/>
<line x1="531.4" y1="291.0" x2="531.9" y2="288.8" stroke="#6a6a6a" stroke-width="0.7"/>
<line x1="537.8" y1="292.6" x2="538.4" y2="290.5" stroke="#6a6a6a" stroke-width="0.7"/>
<line x1="544.0" y1="294.6" x2="544.7" y2="292.6" stroke="#6a6a6a" stroke-width="0.7"/>
<line x1="550.0" y1="297.1" x2="550.9" y2="295.1" stroke="#6a6a6a" stroke-width="0.7"/>
<line x1="555.9" y1="299.9" x2="556.9" y2="298.0" stroke="#6a6a6a" stroke-width="0.7"/>
<line x1="561.6" y1="303.1" x2="562.7" y2="301.3" stroke="#6a6a6a" stroke-width="0.7"/>
<line x1="567.0" y1="306.7" x2="568.3" y2="305.0" stroke="#6a6a6a" stroke-width="0.7"/>
<line x1="572.2" y1="310.7" x2="573.6" y2="309.0" stroke="#6a6a6a" stroke-width="0.7"/>
<line x1="577.1" y1="315.0" x2="578.6" y2="313.4" stroke="#6a6a6a" stroke-width="0.7"/>
<line x1="581.7" y1="319.6" x2="583.3" y2="318.1" stroke="#6a6a6a" stroke-width="0.7"/>
<line x1="586.0" y1="324.5" x2="587.7" y2="323.1" stroke="#6a6a6a" stroke-width="0.7"/>
<line x1="590.0" y1="329.7" x2="591.8" y2="328.5" stroke="#6a6a6a" stroke-width="0.7"/>
<line x1="593.6" y1="335.2" x2="595.5" y2="334.0" stroke="#6a6a6a" stroke-width="0.7"/>
<line x1="596.8" y1="340.8" x2="598.8" y2="339.8" stroke="#6a6a6a" stroke-width="0.7"/>
<path d="M612.57,340.33 A111.9,111.9 0 0 1 612.96,431.18 L601.79,426.27 A99.7,99.7 0 0 0 601.44,345.33 Z" fill="#5b93c7" stroke="#000" stroke-opacity="0.18" stroke-width="0.6"/>
<line x1="604.16" y1="351.15" x2="615.02" y2="347.09" stroke="#000" stroke-opacity="0.24" stroke-width="0.6"/>
<line x1="606.22" y1="357.25" x2="617.32" y2="353.89" stroke="#000" stroke-opacity="0.24" stroke-width="0.6"/>
<line x1="607.88" y1="363.46" x2="619.18" y2="360.82" stroke="#000" stroke-opacity="0.24" stroke-width="0.6"/>
<line x1="609.14" y1="369.76" x2="620.58" y2="367.85" stroke="#000" stroke-opacity="0.24" stroke-width="0.6"/>
<line x1="609.99" y1="376.13" x2="621.53" y2="374.97" stroke="#000" stroke-opacity="0.24" stroke-width="0.6"/>
<line x1="610.43" y1="382.55" x2="622.03" y2="382.13" stroke="#000" stroke-opacity="0.24" stroke-width="0.6"/>
<line x1="610.46" y1="388.98" x2="622.06" y2="389.30" stroke="#000" stroke-opacity="0.24" stroke-width="0.6"/>
<line x1="610.08" y1="395.40" x2="621.63" y2="396.46" stroke="#000" stroke-opacity="0.24" stroke-width="0.6"/>
<line x1="609.28" y1="401.78" x2="620.74" y2="403.58" stroke="#000" stroke-opacity="0.24" stroke-width="0.6"/>
<line x1="608.07" y1="408.09" x2="619.39" y2="410.63" stroke="#000" stroke-opacity="0.24" stroke-width="0.6"/>
<line x1="606.47" y1="414.32" x2="617.60" y2="417.58" stroke="#000" stroke-opacity="0.24" stroke-width="0.6"/>
<line x1="604.46" y1="420.43" x2="615.36" y2="424.40" stroke="#000" stroke-opacity="0.24" stroke-width="0.6"/>
<line x1="600.7" y1="349.1" x2="602.7" y2="348.3" stroke="#6a6a6a" stroke-width="0.7"/>
<line x1="602.9" y1="355.0" x2="605.0" y2="354.3" stroke="#6a6a6a" stroke-width="0.7"/>
<line x1="604.7" y1="361.0" x2="606.8" y2="360.4" stroke="#6a6a6a" stroke-width="0.7"/>
<line x1="606.1" y1="367.1" x2="608.3" y2="366.7" stroke="#6a6a6a" stroke-width="0.7"/>
<line x1="607.1" y1="373.3" x2="609.3" y2="373.0" stroke="#6a6a6a" stroke-width="0.7"/>
<line x1="607.8" y1="379.5" x2="610.0" y2="379.4" stroke="#6a6a6a" stroke-width="0.7"/>
<line x1="608.0" y1="385.8" x2="610.2" y2="385.8" stroke="#6a6a6a" stroke-width="0.7"/>
<line x1="607.8" y1="392.0" x2="610.0" y2="392.2" stroke="#6a6a6a" stroke-width="0.7"/>
<line x1="607.2" y1="398.3" x2="609.4" y2="398.6" stroke="#6a6a6a" stroke-width="0.7"/>
<line x1="606.3" y1="404.5" x2="608.4" y2="404.9" stroke="#6a6a6a" stroke-width="0.7"/>
<line x1="604.9" y1="410.6" x2="607.0" y2="411.1" stroke="#6a6a6a" stroke-width="0.7"/>
<line x1="603.1" y1="416.6" x2="605.2" y2="417.3" stroke="#6a6a6a" stroke-width="0.7"/>
<line x1="601.0" y1="422.5" x2="603.0" y2="423.3" stroke="#6a6a6a" stroke-width="0.7"/>
<path d="M611.67,434.02 A111.9,111.9 0 0 1 560.43,486.34 L554.99,475.42 A99.7,99.7 0 0 0 600.64,428.81 Z" fill="#15893f" stroke="#000" stroke-opacity="0.18" stroke-width="0.6"/>
<line x1="597.86" y1="434.86" x2="607.99" y2="440.51" stroke="#000" stroke-opacity="0.24" stroke-width="0.6"/>
<line x1="594.42" y1="440.58" x2="604.16" y2="446.88" stroke="#000" stroke-opacity="0.24" stroke-width="0.6"/>
<line x1="590.61" y1="446.05" x2="599.91" y2="452.99" stroke="#000" stroke-opacity="0.24" stroke-width="0.6"/>
<line x1="586.45" y1="451.25" x2="595.26" y2="458.80" stroke="#000" stroke-opacity="0.24" stroke-width="0.6"/>
<line x1="581.95" y1="456.17" x2="590.24" y2="464.28" stroke="#000" stroke-opacity="0.24" stroke-width="0.6"/>
<line x1="577.13" y1="460.77" x2="584.86" y2="469.42" stroke="#000" stroke-opacity="0.24" stroke-width="0.6"/>
<line x1="572.01" y1="465.04" x2="579.15" y2="474.19" stroke="#000" stroke-opacity="0.24" stroke-width="0.6"/>
<line x1="566.62" y1="468.97" x2="573.13" y2="478.57" stroke="#000" stroke-opacity="0.24" stroke-width="0.6"/>
<line x1="560.98" y1="472.52" x2="566.84" y2="482.54" stroke="#000" stroke-opacity="0.24" stroke-width="0.6"/>
<line x1="597.2" y1="430.8" x2="599.2" y2="431.8" stroke="#6a6a6a" stroke-width="0.7"/>
<line x1="594.0" y1="436.5" x2="595.9" y2="437.6" stroke="#6a6a6a" stroke-width="0.7"/>
<line x1="590.5" y1="441.9" x2="592.3" y2="443.2" stroke="#6a6a6a" stroke-width="0.7"/>
<line x1="586.6" y1="447.1" x2="588.3" y2="448.5" stroke="#6a6a6a" stroke-width="0.7"/>
<line x1="582.4" y1="452.1" x2="584.0" y2="453.5" stroke="#6a6a6a" stroke-width="0.7"/>
<line x1="577.8" y1="456.7" x2="579.4" y2="458.3" stroke="#6a6a6a" stroke-width="0.7"/>
<line x1="573.0" y1="461.0" x2="574.4" y2="462.7" stroke="#6a6a6a" stroke-width="0.7"/>
<line x1="567.9" y1="465.0" x2="569.2" y2="466.8" stroke="#6a6a6a" stroke-width="0.7"/>
<line x1="562.5" y1="468.7" x2="563.7" y2="470.5" stroke="#6a6a6a" stroke-width="0.7"/>
<line x1="556.9" y1="472.0" x2="557.9" y2="473.9" stroke="#6a6a6a" stroke-width="0.7"/>
<path d="M557.61,487.70 A111.9,111.9 0 0 1 484.57,495.05 L487.39,483.19 A99.7,99.7 0 0 0 552.48,476.63 Z" fill="#a35dc3" stroke="#000" stroke-opacity="0.18" stroke-width="0.6"/>
<line x1="546.45" y1="479.51" x2="550.62" y2="490.34" stroke="#000" stroke-opacity="0.24" stroke-width="0.6"/>
<line x1="540.14" y1="481.71" x2="543.58" y2="492.79" stroke="#000" stroke-opacity="0.24" stroke-width="0.6"/>
<line x1="533.69" y1="483.47" x2="536.38" y2="494.76" stroke="#000" stroke-opacity="0.24" stroke-width="0.6"/>
<line x1="527.14" y1="484.81" x2="529.07" y2="496.24" stroke="#000" stroke-opacity="0.24" stroke-width="0.6"/>
<line x1="520.52" y1="485.70" x2="521.68" y2="497.24" stroke="#000" stroke-opacity="0.24" stroke-width="0.6"/>
<line x1="513.85" y1="486.14" x2="514.24" y2="497.74" stroke="#000" stroke-opacity="0.24" stroke-width="0.6"/>
<line x1="507.17" y1="486.14" x2="506.78" y2="497.74" stroke="#000" stroke-opacity="0.24" stroke-width="0.6"/>
<line x1="500.50" y1="485.70" x2="499.34" y2="497.24" stroke="#000" stroke-opacity="0.24" stroke-width="0.6"/>
<line x1="493.87" y1="484.81" x2="491.95" y2="496.25" stroke="#000" stroke-opacity="0.24" stroke-width="0.6"/>
<line x1="548.6" y1="476.0" x2="549.4" y2="478.0" stroke="#6a6a6a" stroke-width="0.7"/>
<line x1="542.5" y1="478.3" x2="543.2" y2="480.4" stroke="#6a6a6a" stroke-width="0.7"/>
<line x1="536.3" y1="480.2" x2="536.9" y2="482.4" stroke="#6a6a6a" stroke-width="0.7"/>
<line x1="529.9" y1="481.7" x2="530.4" y2="483.9" stroke="#6a6a6a" stroke-width="0.7"/>
<line x1="523.5" y1="482.8" x2="523.8" y2="485.0" stroke="#6a6a6a" stroke-width="0.7"/>
<line x1="517.0" y1="483.5" x2="517.2" y2="485.7" stroke="#6a6a6a" stroke-width="0.7"/>
<line x1="510.5" y1="483.7" x2="510.5" y2="485.9" stroke="#6a6a6a" stroke-width="0.7"/>
<line x1="504.0" y1="483.5" x2="503.8" y2="485.7" stroke="#6a6a6a" stroke-width="0.7"/>
<line x1="497.5" y1="482.8" x2="497.2" y2="485.0" stroke="#6a6a6a" stroke-width="0.7"/>
<line x1="491.1" y1="481.7" x2="490.6" y2="483.9" stroke="#6a6a6a" stroke-width="0.7"/>
<path d="M481.54,494.29 A111.9,111.9 0 0 1 428.79,462.66 L437.70,454.32 A99.7,99.7 0 0 0 484.70,482.50 Z" fill="#8d9c72" stroke="#000" stroke-opacity="0.18" stroke-width="0.6"/>
<line x1="478.70" y1="481.01" x2="475.01" y2="492.01" stroke="#000" stroke-opacity="0.24" stroke-width="0.6"/>
<line x1="472.90" y1="478.86" x2="468.53" y2="489.61" stroke="#000" stroke-opacity="0.24" stroke-width="0.6"/>
<line x1="467.24" y1="476.36" x2="462.22" y2="486.82" stroke="#000" stroke-opacity="0.24" stroke-width="0.6"/>
<line x1="461.75" y1="473.51" x2="456.09" y2="483.64" stroke="#000" stroke-opacity="0.24" stroke-width="0.6"/>
<line x1="456.44" y1="470.33" x2="450.17" y2="480.09" stroke="#000" stroke-opacity="0.24" stroke-width="0.6"/>
<line x1="451.35" y1="466.83" x2="444.48" y2="476.18" stroke="#000" stroke-opacity="0.24" stroke-width="0.6"/>
<line x1="446.47" y1="463.02" x2="439.05" y2="471.93" stroke="#000" stroke-opacity="0.24" stroke-width="0.6"/>
<line x1="441.85" y1="458.91" x2="433.88" y2="467.35" stroke="#000" stroke-opacity="0.24" stroke-width="0.6"/>
<line x1="482.4" y1="479.6" x2="481.7" y2="481.7" stroke="#6a6a6a" stroke-width="0.7"/>
<line x1="476.6" y1="477.6" x2="475.9" y2="479.7" stroke="#6a6a6a" stroke-width="0.7"/>
<line x1="471.1" y1="475.4" x2="470.2" y2="477.4" stroke="#6a6a6a" stroke-width="0.7"/>
<line x1="465.6" y1="472.8" x2="464.6" y2="474.7" stroke="#6a6a6a" stroke-width="0.7"/>
<line x1="460.4" y1="469.8" x2="459.2" y2="471.7" stroke="#6a6a6a" stroke-width="0.7"/>
<line x1="455.3" y1="466.6" x2="454.0" y2="468.4" stroke="#6a6a6a" stroke-width="0.7"/>
<line x1="450.4" y1="463.0" x2="449.1" y2="464.7" stroke="#6a6a6a" stroke-width="0.7"/>
<line x1="445.8" y1="459.1" x2="444.3" y2="460.8" stroke="#6a6a6a" stroke-width="0.7"/>
<line x1="441.4" y1="455.0" x2="439.8" y2="456.5" stroke="#6a6a6a" stroke-width="0.7"/>
<path d="M426.69,460.35 A111.9,111.9 0 0 1 406.90,343.92 L418.19,348.53 A99.7,99.7 0 0 0 435.83,452.26 Z" fill="#e3a337" stroke="#000" stroke-opacity="0.18" stroke-width="0.6"/>
<line x1="431.43" y1="447.43" x2="422.26" y2="454.53" stroke="#000" stroke-opacity="0.24" stroke-width="0.6"/>
<line x1="427.60" y1="442.13" x2="417.99" y2="448.62" stroke="#000" stroke-opacity="0.24" stroke-width="0.6"/>
<line x1="424.12" y1="436.59" x2="414.10" y2="442.44" stroke="#000" stroke-opacity="0.24" stroke-width="0.6"/>
<line x1="421.02" y1="430.84" x2="410.64" y2="436.02" stroke="#000" stroke-opacity="0.24" stroke-width="0.6"/>
<line x1="418.29" y1="424.89" x2="407.59" y2="429.38" stroke="#000" stroke-opacity="0.24" stroke-width="0.6"/>
<line x1="415.96" y1="418.79" x2="404.99" y2="422.57" stroke="#000" stroke-opacity="0.24" stroke-width="0.6"/>
<line x1="414.03" y1="412.54" x2="402.84" y2="415.59" stroke="#000" stroke-opacity="0.24" stroke-width="0.6"/>
<line x1="412.52" y1="406.18" x2="401.15" y2="408.49" stroke="#000" stroke-opacity="0.24" stroke-width="0.6"/>
<line x1="411.42" y1="399.73" x2="399.93" y2="401.30" stroke="#000" stroke-opacity="0.24" stroke-width="0.6"/>
<line x1="410.75" y1="393.23" x2="399.18" y2="394.04" stroke="#000" stroke-opacity="0.24" stroke-width="0.6"/>
<line x1="410.50" y1="386.69" x2="398.90" y2="386.75" stroke="#000" stroke-opacity="0.24" stroke-width="0.6"/>
<line x1="410.68" y1="380.16" x2="399.10" y2="379.46" stroke="#000" stroke-opacity="0.24" stroke-width="0.6"/>
<line x1="411.29" y1="373.65" x2="399.78" y2="372.19" stroke="#000" stroke-opacity="0.24" stroke-width="0.6"/>
<line x1="412.32" y1="367.19" x2="400.94" y2="364.98" stroke="#000" stroke-opacity="0.24" stroke-width="0.6"/>
<line x1="413.78" y1="360.81" x2="402.56" y2="357.87" stroke="#000" stroke-opacity="0.24" stroke-width="0.6"/>
<line x1="415.64" y1="354.55" x2="404.64" y2="350.88" stroke="#000" stroke-opacity="0.24" stroke-width="0.6"/>
<line x1="435.4" y1="448.4" x2="433.7" y2="449.8" stroke="#6a6a6a" stroke-width="0.7"/>
<line x1="431.5" y1="443.3" x2="429.7" y2="444.6" stroke="#6a6a6a" stroke-width="0.7"/>
<line x1="427.9" y1="438.1" x2="426.1" y2="439.2" stroke="#6a6a6a" stroke-width="0.7"/>
<line x1="424.7" y1="432.6" x2="422.8" y2="433.6" stroke="#6a6a6a" stroke-width="0.7"/>
<line x1="421.9" y1="426.8" x2="419.9" y2="427.8" stroke="#6a6a6a" stroke-width="0.7"/>
<line x1="419.4" y1="421.0" x2="417.4" y2="421.8" stroke="#6a6a6a" stroke-width="0.7"/>
<line x1="417.3" y1="414.9" x2="415.2" y2="415.6" stroke="#6a6a6a" stroke-width="0.7"/>
<line x1="415.7" y1="408.8" x2="413.5" y2="409.3" stroke="#6a6a6a" stroke-width="0.7"/>
<line x1="414.4" y1="402.5" x2="412.2" y2="402.9" stroke="#6a6a6a" stroke-width="0.7"/>
<line x1="413.5" y1="396.2" x2="411.3" y2="396.5" stroke="#6a6a6a" stroke-width="0.7"/>
<line x1="413.1" y1="389.9" x2="410.9" y2="390.0" stroke="#6a6a6a" stroke-width="0.7"/>
<line x1="413.0" y1="383.5" x2="410.8" y2="383.4" stroke="#6a6a6a" stroke-width="0.7"/>
<line x1="413.4" y1="377.1" x2="411.2" y2="376.9" stroke="#6a6a6a" stroke-width="0.7"/>
<line x1="414.2" y1="370.8" x2="412.1" y2="370.5" stroke="#6a6a6a" stroke-width="0.7"/>
<line x1="415.4" y1="364.5" x2="413.3" y2="364.1" stroke="#6a6a6a" stroke-width="0.7"/>
<line x1="417.1" y1="358.4" x2="414.9" y2="357.8" stroke="#6a6a6a" stroke-width="0.7"/>
<line x1="419.1" y1="352.3" x2="417.0" y2="351.6" stroke="#6a6a6a" stroke-width="0.7"/>
<path d="M408.12,341.04 A111.9,111.9 0 0 1 512.84,274.32 L512.59,286.52 A99.7,99.7 0 0 0 419.28,345.97 Z" fill="#d9516b" stroke="#000" stroke-opacity="0.18" stroke-width="0.6"/>
<line x1="421.83" y1="339.96" x2="411.55" y2="334.59" stroke="#000" stroke-opacity="0.24" stroke-width="0.6"/>
<line x1="425.04" y1="334.26" x2="415.13" y2="328.24" stroke="#000" stroke-opacity="0.24" stroke-width="0.6"/>
<line x1="428.62" y1="328.79" x2="419.12" y2="322.14" stroke="#000" stroke-opacity="0.24" stroke-width="0.6"/>
<line x1="432.54" y1="323.57" x2="423.50" y2="316.30" stroke="#000" stroke-opacity="0.24" stroke-width="0.6"/>
<line x1="436.80" y1="318.61" x2="428.25" y2="310.77" stroke="#000" stroke-opacity="0.24" stroke-width="0.6"/>
<line x1="441.37" y1="313.94" x2="433.35" y2="305.56" stroke="#000" stroke-opacity="0.24" stroke-width="0.6"/>
<line x1="446.24" y1="309.58" x2="438.78" y2="300.70" stroke="#000" stroke-opacity="0.24" stroke-width="0.6"/>
<line x1="451.38" y1="305.55" x2="444.52" y2="296.19" stroke="#000" stroke-opacity="0.24" stroke-width="0.6"/>
<line x1="456.77" y1="301.86" x2="450.54" y2="292.08" stroke="#000" stroke-opacity="0.24" stroke-width="0.6"/>
<line x1="462.39" y1="298.53" x2="456.81" y2="288.36" stroke="#000" stroke-opacity="0.24" stroke-width="0.6"/>
<line x1="468.22" y1="295.58" x2="463.32" y2="285.07" stroke="#000" stroke-opacity="0.24" stroke-width="0.6"/>
<line x1="474.23" y1="293.01" x2="470.02" y2="282.20" stroke="#000" stroke-opacity="0.24" stroke-width="0.6"/>
<line x1="480.39" y1="290.84" x2="476.90" y2="279.78" stroke="#000" stroke-opacity="0.24" stroke-width="0.6"/>
<line x1="486.68" y1="289.08" x2="483.92" y2="277.81" stroke="#000" stroke-opacity="0.24" stroke-width="0.6"/>
<line x1="493.08" y1="287.73" x2="491.06" y2="276.31" stroke="#000" stroke-opacity="0.24" stroke-width="0.6"/>
<line x1="499.55" y1="286.80" x2="498.28" y2="275.27" stroke="#000" stroke-opacity="0.24" stroke-width="0.6"/>
<line x1="506.06" y1="286.30" x2="505.55" y2="274.71" stroke="#000" stroke-opacity="0.24" stroke-width="0.6"/>
<line x1="422.6" y1="344.0" x2="420.6" y2="343.0" stroke="#6a6a6a" stroke-width="0.7"/>
<line x1="425.6" y1="338.3" x2="423.7" y2="337.2" stroke="#6a6a6a" stroke-width="0.7"/>
<line x1="428.9" y1="332.9" x2="427.0" y2="331.7" stroke="#6a6a6a" stroke-width="0.7"/>
<line x1="432.5" y1="327.7" x2="430.8" y2="326.3" stroke="#6a6a6a" stroke-width="0.7"/>
<line x1="436.5" y1="322.7" x2="434.9" y2="321.3" stroke="#6a6a6a" stroke-width="0.7"/>
<line x1="440.8" y1="318.0" x2="439.3" y2="316.5" stroke="#6a6a6a" stroke-width="0.7"/>
<line x1="445.4" y1="313.6" x2="444.0" y2="311.9" stroke="#6a6a6a" stroke-width="0.7"/>
<line x1="450.3" y1="309.5" x2="449.0" y2="307.8" stroke="#6a6a6a" stroke-width="0.7"/>
<line x1="455.5" y1="305.7" x2="454.2" y2="303.9" stroke="#6a6a6a" stroke-width="0.7"/>
<line x1="460.8" y1="302.3" x2="459.7" y2="300.4" stroke="#6a6a6a" stroke-width="0.7"/>
<line x1="466.4" y1="299.2" x2="465.4" y2="297.3" stroke="#6a6a6a" stroke-width="0.7"/>
<line x1="472.2" y1="296.5" x2="471.3" y2="294.5" stroke="#6a6a6a" stroke-width="0.7"/>
<line x1="478.1" y1="294.2" x2="477.4" y2="292.2" stroke="#6a6a6a" stroke-width="0.7"/>
<line x1="484.2" y1="292.3" x2="483.6" y2="290.2" stroke="#6a6a6a" stroke-width="0.7"/>
<line x1="490.4" y1="290.8" x2="489.9" y2="288.6" stroke="#6a6a6a" stroke-width="0.7"/>
<line x1="496.7" y1="289.7" x2="496.3" y2="287.5" stroke="#6a6a6a" stroke-width="0.7"/>
<line x1="503.0" y1="289.0" x2="502.8" y2="286.8" stroke="#6a6a6a" stroke-width="0.7"/>
<line x1="509.4" y1="288.7" x2="509.3" y2="286.5" stroke="#6a6a6a" stroke-width="0.7"/>
<path d="M464.9,298.1 C491.1,348.8 546.6,355.9 586.5,322.4" fill="none" stroke="#3d4675" stroke-width="1.15"/>
<path d="M411.4,391.6 C483.3,387.7 538.9,355.1 577.4,312.9" fill="none" stroke="#3d4675" stroke-width="1.15"/>
<path d="M454.0,304.7 C489.3,355.6 545.2,388.3 609.5,392.1" fill="none" stroke="#3d4675" stroke-width="1.15"/>
<path d="M423.6,338.4 C504.8,383.3 551.3,400.3 604.4,418.3" fill="none" stroke="#3d4675" stroke-width="1.15"/>
<path d="M427.0,439.8 C508.4,387.5 605.8,413.6 605.8,413.6" fill="none" stroke="#3d4675" stroke-width="1.15"/>
<path d="M430.4,444.7 C508.5,387.7 589.2,416.5 603.1,421.9" fill="none" stroke="#3d4675" stroke-width="1.15"/>
<path d="M434.0,449.4 C479.9,411.5 555.1,408.0 599.6,429.8" fill="none" stroke="#3d4675" stroke-width="1.15"/>
<path d="M435.7,451.3 C518.0,379.7 578.5,458.4 578.5,458.4" fill="none" stroke="#3d4675" stroke-width="1.15"/>
<path d="M436.9,452.7 C506.8,389.5 516.2,477.8 516.6,485.2" fill="none" stroke="#3d4675" stroke-width="1.15"/>
<path d="M497.1,287.9 C499.4,305.1 504.8,391.0 435.1,450.7" fill="none" stroke="#a83c42" stroke-width="1.15"/>
<path d="M502.8,287.3 C511.1,393.6 452.1,436.2 435.1,450.7" fill="none" stroke="#a83c42" stroke-width="1.15"/>
<path d="M430.6,327.4 C476.5,361.2 476.6,415.2 435.1,450.7" fill="none" stroke="#a83c42" stroke-width="1.15"/>
<path d="M426.7,333.1 C500.0,379.6 440.8,445.9 435.1,450.7" fill="none" stroke="#a83c42" stroke-width="1.15"/>
<path d="M423.9,337.8 C475.9,366.8 454.1,377.8 412.4,371.6" fill="none" stroke="#a83c42" stroke-width="1.15"/>
<path d="M412.4,371.6 C412.4,371.6 503.0,392.7 435.1,450.7" fill="none" stroke="#a83c42" stroke-width="1.15"/>
<path d="M516.6,485.2 C514.6,453.0 524.2,380.4 602.0,347.8" fill="none" stroke="#a83c42" stroke-width="1.15"/>
<text x="414.0" y="293.8" font-size="11" font-weight="bold" fill="#2e2e2e" textLength="25.8" lengthAdjust="spacingAndGlyphs">DMN</text>
<text x="585.7" y="293.6" font-size="11" font-weight="bold" fill="#2e2e2e" textLength="30.8" lengthAdjust="spacingAndGlyphs">Visual</text>
<text x="362.7" y="393.6" font-size="11" font-weight="bold" fill="#2e2e2e" textLength="28.3" lengthAdjust="spacingAndGlyphs">FPCN</text>
<text x="631.0" y="393.6" font-size="11" font-weight="bold" fill="#2e2e2e" textLength="44.7" lengthAdjust="spacingAndGlyphs">SomMot</text>
<text x="419.9" y="497.2" font-size="11" font-weight="bold" fill="#2e2e2e" textLength="34.8" lengthAdjust="spacingAndGlyphs">Limbic</text>
<text x="592.5" y="477.9" font-size="11" font-weight="bold" fill="#2e2e2e" textLength="47.2" lengthAdjust="spacingAndGlyphs">DorsAttn</text>
<text x="510.3" y="514.4" font-size="11" font-weight="bold" fill="#2e2e2e" textLength="47.1" lengthAdjust="spacingAndGlyphs">VentAttn</text>
<text x="17" y="282" font-size="8.5" font-weight="bold" fill="#222">B</text>
<text x="381" y="282" font-size="8.5" font-weight="bold" fill="#222">D</text>
<defs><filter id="tx1" x="0" y="0" width="100%" height="100%" color-interpolation-filters="sRGB">
<feTurbulence type="fractalNoise" baseFrequency="0.13 0.19" numOctaves="2" seed="7"/>
<feColorMatrix type="matrix" values="0 0 0 0 0.62  0 0 0 0 0.62  0 0 0 0 0.62  3.2 0 0 0 -1.4"/>
</filter>
<filter id="tx2" x="0" y="0" width="100%" height="100%" color-interpolation-filters="sRGB">
<feTurbulence type="turbulence" baseFrequency="0.09 0.13" numOctaves="1" seed="21"/>
<feColorMatrix type="matrix" values="0 0 0 0 0.13  0 0 0 0 0.13  0 0 0 0 0.13  -9 0 0 0 1.05"/>
</filter></defs>
<clipPath id="bc0"><path id="bo0" d="M1.6,570.4L1.8,568.3L2.3,566.0L3.0,563.5L3.9,561.3L5.0,559.3L6.2,557.5L7.6,555.7L9.1,554.1L10.9,552.6L12.8,551.3L14.9,550.0L17.0,548.9L19.1,547.9L21.2,547.0L23.5,546.1L26.1,545.4L29.1,544.6L32.5,543.9L35.9,543.4L39.1,543.0L42.2,542.9L45.2,543.0L48.1,543.3L50.9,543.7L53.4,544.2L55.7,544.9L57.9,545.8L60.0,547.0L62.1,548.6L64.2,550.6L66.1,552.7L67.8,554.8L69.2,557.0L70.5,559.3L71.5,561.7L72.4,563.9L73.2,565.9L73.8,567.9L74.2,569.8L74.3,571.7L74.2,573.6L73.8,575.5L73.2,577.3L72.4,578.9L71.3,580.3L70.0,581.4L68.4,582.5L66.5,583.5L64.2,584.6L61.7,585.5L58.9,586.5L56.1,587.4L53.2,588.3L50.1,589.1L47.1,589.9L44.3,590.6L41.8,591.3L39.6,592.0L37.4,592.5L35.2,592.6L32.9,592.2L30.6,591.3L28.4,590.3L26.1,589.3L23.8,588.2L21.6,587.1L19.3,586.0L17.0,584.8L14.6,583.7L12.1,582.5L9.8,581.3L7.8,580.2L6.3,579.1L5.1,578.0L4.1,576.9L3.3,575.7L2.6,574.5L2.0,573.3L1.7,572.0Z"/></clipPath>
<g clip-path="url(#bc0)">
<rect x="0.3" y="542.0" width="75.0" height="51.6" fill="#585858"/>
<path d="M19.0,566.1L13.2,575.2L9.7,575.9L9.5,560.5Z" fill="#838383"/>
<path d="M62.5,574.7L73.9,577.5L52.8,584.8L52.0,584.1L51.5,574.4Z" fill="#838383"/>
<path d="M52.7,569.4L59.5,563.6L57.1,557.4L56.4,557.0L47.0,563.1L45.4,568.5L49.4,571.0Z" fill="#707070"/>
<path d="M58.2,569.6L61.4,565.1L68.7,568.5L76.8,577.4L73.9,577.5L62.5,574.7Z" fill="#797979"/>
<path d="M9.5,560.5L7.8,558.0L-2.5,576.6L6.0,577.4L9.7,575.9Z" fill="#707070"/>
<path d="M-279.2,608.6L-16.4,871.5L10.8,588.8L6.0,577.4L-2.5,576.6Z" fill="#797979"/>
<path d="M68.7,568.5L66.7,558.5L84.8,549.4L304.5,480.1L395.8,567.8L299.2,656.0L76.8,577.4Z" fill="#676767"/>
<path d="M27.7,575.9L30.2,579.8L30.5,590.3L29.2,592.6L21.1,586.4L17.4,577.6Z" fill="#5e5e5e"/>
<path d="M31.9,544.6L7.1,246.1L-123.5,379.3L7.2,554.9L27.4,557.6Z" fill="#555555"/>
<path d="M19.0,566.1L27.5,560.9L27.4,557.6L7.2,554.9L7.8,558.0L9.5,560.5Z" fill="#838383"/>
<path d="M52.0,584.1L47.2,584.6L44.3,589.4L59.8,905.3L120.1,839.9L52.8,584.8Z" fill="#797979"/>
<path d="M21.1,586.4L29.2,592.6L21.3,911.0L-16.4,871.5L10.8,588.8Z" fill="#676767"/>
<path d="M47.2,584.6L41.8,582.3L32.8,589.1L44.3,589.4Z" fill="#5e5e5e"/>
<path d="M57.1,557.4L62.9,555.8L64.7,552.5L58.1,527.9L54.5,552.1L56.4,557.0Z" fill="#555555"/>
<path d="M41.8,552.6L54.5,552.1L58.1,527.9L60.0,235.0L37.8,211.3L7.1,246.1L31.9,544.6Z" fill="#676767"/>
<path d="M7.8,558.0L-2.5,576.6L-279.2,608.6L-324.0,567.8L-123.5,379.3L7.2,554.9Z" fill="#838383"/>
<path d="M58.2,569.6L52.7,569.4L49.4,571.0L51.5,574.4L62.5,574.7Z" fill="#838383"/>
<path d="M13.2,575.2L17.4,577.6L21.1,586.4L10.8,588.8L6.0,577.4L9.7,575.9Z" fill="#555555"/>
<path d="M62.9,555.8L66.7,558.5L84.8,549.4L64.7,552.5Z" fill="#838383"/>
<path d="M30.0,564.6L42.3,569.5L40.2,575.6L30.2,579.8L27.7,575.9Z" fill="#555555"/>
<path d="M64.7,552.5L84.8,549.4L304.5,480.1L60.0,235.0L58.1,527.9Z" fill="#797979"/>
<path d="M44.3,589.4L59.8,905.3L37.8,929.5L21.3,911.0L29.2,592.6L30.5,590.3L32.8,589.1Z" fill="#5e5e5e"/>
<path d="M49.4,571.0L45.4,568.5L42.3,569.5L40.2,575.6L41.8,582.3L47.2,584.6L52.0,584.1L51.5,574.4Z" fill="#676767"/>
<path d="M58.2,569.6L61.4,565.1L59.5,563.6L52.7,569.4Z" fill="#797979"/>
<path d="M19.0,566.1L27.5,560.9L30.0,564.6L27.7,575.9L17.4,577.6L13.2,575.2Z" fill="#797979"/>
<path d="M47.0,563.1L41.8,552.6L31.9,544.6L27.4,557.6L27.5,560.9L30.0,564.6L42.3,569.5L45.4,568.5Z" fill="#5e5e5e"/>
<path d="M57.1,557.4L62.9,555.8L66.7,558.5L68.7,568.5L61.4,565.1L59.5,563.6Z" fill="#838383"/>
<path d="M41.8,582.3L40.2,575.6L30.2,579.8L30.5,590.3L32.8,589.1Z" fill="#838383"/>
<path d="M52.8,584.8L120.1,839.9L299.2,656.0L76.8,577.4L73.9,577.5Z" fill="#838383"/>
<path d="M56.4,557.0L54.5,552.1L41.8,552.6L47.0,563.1Z" fill="#797979"/>
<rect x="0.3" y="542.0" width="75.0" height="51.6" filter="url(#tx1)" opacity="0.60"/>
<rect x="0.3" y="542.0" width="75.0" height="51.6" filter="url(#tx2)" opacity="0.75"/>
<path d="M25.6,572.3Q27.3,566.9 31.2,561.0M7.3,581.6Q8.4,577.2 8.3,574.9M64.9,573.2Q68.1,574.7 74.0,576.3M47.9,589.0Q53.5,588.5 61.2,590.9M15.2,555.5Q17.5,550.6 22.5,546.2M29.5,577.7Q34.9,578.0 39.6,576.3M27.5,587.7Q31.7,584.1 37.2,577.6M57.3,583.2Q59.9,581.9 64.1,583.4M64.6,546.4Q68.6,546.5 70.7,547.8M29.4,578.5Q31.8,575.9 33.4,571.8M4.6,557.0Q5.1,551.5 8.3,544.4M58.6,550.7Q65.4,551.6 70.1,550.4M40.1,556.6Q40.8,553.5 42.6,551.0M30.1,582.2Q31.2,578.7 29.8,574.6M37.3,589.2Q42.6,587.9 48.3,584.5M35.3,577.2Q36.9,575.4 40.9,572.9M6.3,588.3Q6.8,582.9 9.7,575.0M28.5,574.6Q32.9,570.8 36.1,568.2M42.7,568.6Q49.3,569.9 55.6,573.2M61.4,562.6Q67.3,563.1 71.9,562.2M40.9,568.7Q47.3,568.9 53.9,567.0M13.3,581.7Q19.0,581.4 26.4,578.6M13.8,554.5Q20.4,551.4 25.7,549.2M30.7,572.1Q36.8,568.2 41.9,564.4M22.6,576.4Q20.8,574.4 21.0,569.7M45.7,566.6Q50.3,566.5 57.2,567.3" fill="none" stroke="#8c8c8c" stroke-width="1.5" stroke-linecap="round" opacity="0.45"/>
<path d="M35.2,546.2L43.6,544.6L46.8,547.3L43.6,552.6L38.3,554.7L34.1,551.5Z" fill="#2e46b4" stroke="#1c1c3a" stroke-width="0.6" stroke-opacity="0.7"/>
<path d="M51.0,559.0L58.5,555.8L63.7,557.9L60.6,563.2L54.2,564.3L51.0,562.7Z" fill="#2e46b4" stroke="#1c1c3a" stroke-width="0.6" stroke-opacity="0.7"/>
<path d="M11.9,565.3L18.2,563.2L23.5,561.1L25.6,565.3L22.5,570.7L16.1,573.9L10.8,574.9L8.7,570.7Z" fill="#2e46b4" stroke="#1c1c3a" stroke-width="0.6" stroke-opacity="0.7"/>
<path d="M21.4,577.1L27.7,574.9L30.9,578.1L29.8,583.4L24.6,585.6L20.4,582.4Z" fill="#2e46b4" stroke="#1c1c3a" stroke-width="0.6" stroke-opacity="0.7"/>
<path d="M3.4,567.5L6.6,566.4L7.7,571.8L4.4,574.9Z" fill="#2e46b4" stroke="#1c1c3a" stroke-width="0.6" stroke-opacity="0.7"/>
<path d="M66.9,564.3L71.2,567.5L72.2,572.8L67.9,573.9Z" fill="#2e46b4" stroke="#1c1c3a" stroke-width="0.6" stroke-opacity="0.7"/>
<path d="M29.2,592.6Q24.8,752.1 21.3,911.0M-16.4,871.5Q-3.7,729.7 10.8,588.8M29.2,592.6Q26.0,589.3 21.1,586.4M10.8,588.8Q16.3,587.2 21.1,586.4M6.0,577.4Q7.6,583.3 10.8,588.8M6.0,577.4Q2.1,576.2 -2.5,576.6M-2.5,576.6Q1.9,567.1 7.8,558.0M-123.5,379.3Q-59.1,467.3 7.2,554.9M7.2,554.9Q7.1,555.6 7.8,558.0M84.8,549.4Q73.9,552.0 64.7,552.5M58.1,527.9Q62.4,539.5 64.7,552.5M84.8,549.4Q75.8,553.9 66.7,558.5M66.7,558.5Q65.0,557.5 62.9,555.8M64.7,552.5Q64.6,554.0 62.9,555.8M66.7,558.5Q67.3,562.5 68.7,568.5M76.8,577.4Q71.7,574.1 68.7,568.5M7.1,246.1Q18.7,395.2 31.9,544.6M7.2,554.9Q16.6,555.7 27.4,557.6M27.4,557.6Q30.8,550.9 31.9,544.6M58.1,527.9Q57.3,539.8 54.5,552.1M54.5,552.1Q47.7,552.9 41.8,552.6M31.9,544.6Q36.2,548.6 41.8,552.6M32.8,589.1Q36.2,585.5 41.8,582.3M32.8,589.1Q39.1,588.4 44.3,589.4M41.8,582.3Q45.2,583.4 47.2,584.6M44.3,589.4Q45.1,587.4 47.2,584.6M30.2,579.8Q29.7,586.1 30.5,590.3M30.2,579.8Q35.1,577.4 40.2,575.6M30.5,590.3Q31.1,589.9 32.8,589.1M40.2,575.6Q39.9,577.9 41.8,582.3M29.2,592.6Q28.7,591.8 30.5,590.3M59.8,905.3Q52.7,747.3 44.3,589.4M21.1,586.4Q19.5,582.8 17.4,577.6M30.2,579.8Q29.1,577.6 27.7,575.9M17.4,577.6Q21.7,575.9 27.7,575.9M42.3,569.5Q35.4,567.0 30.0,564.6M40.2,575.6Q41.0,572.3 42.3,569.5M27.7,575.9Q29.5,570.9 30.0,564.6M120.1,839.9Q86.5,711.5 52.8,584.8M76.8,577.4Q74.7,576.3 73.9,577.5M73.9,577.5Q64.0,580.6 52.8,584.8M47.2,584.6Q49.5,585.4 52.0,584.1M52.8,584.8Q53.4,584.2 52.0,584.1M9.7,575.9Q10.3,575.0 13.2,575.2M9.7,575.9Q9.2,567.8 9.5,560.5M13.2,575.2Q16.6,569.6 19.0,566.1M9.5,560.5Q13.7,563.6 19.0,566.1M6.0,577.4Q7.0,576.2 9.7,575.9M17.4,577.6Q14.6,576.3 13.2,575.2M7.8,558.0Q7.4,558.7 9.5,560.5M30.0,564.6Q27.8,563.3 27.5,560.9M27.5,560.9Q24.4,564.4 19.0,566.1M27.4,557.6Q28.2,558.7 27.5,560.9M42.3,569.5Q43.7,570.0 45.4,568.5M41.8,552.6Q44.5,558.4 47.0,563.1M45.4,568.5Q46.5,566.2 47.0,563.1M54.5,552.1Q56.4,554.6 56.4,557.0M47.0,563.1Q52.0,559.6 56.4,557.0M62.9,555.8Q59.0,557.2 57.1,557.4M61.4,565.1Q60.7,565.3 59.5,563.6M68.7,568.5Q64.3,565.8 61.4,565.1M59.5,563.6Q58.6,559.6 57.1,557.4M56.4,557.0Q56.5,556.1 57.1,557.4M51.5,574.4Q56.6,574.3 62.5,574.7M51.5,574.4Q51.2,572.5 49.4,571.0M49.4,571.0Q50.4,570.6 52.7,569.4M52.7,569.4Q55.7,568.5 58.2,569.6M62.5,574.7Q60.0,573.1 58.2,569.6M73.9,577.5Q67.7,574.9 62.5,574.7M52.0,584.1Q52.5,579.5 51.5,574.4M45.4,568.5Q48.1,570.4 49.4,571.0M59.5,563.6Q56.1,567.0 52.7,569.4M61.4,565.1Q60.6,566.5 58.2,569.6" fill="none" stroke="#1e1e1e" stroke-width="0.8"/>
</g>
<use href="#bo0" fill="none" stroke="#1b1b1b" stroke-width="1.3"/>
<clipPath id="bc1"><path id="bo1" d="M82.2,573.0L82.5,570.8L83.1,568.2L84.0,565.4L85.1,562.9L86.7,560.5L88.5,558.2L90.6,556.0L92.8,554.0L95.1,552.2L97.6,550.6L100.2,549.1L102.9,547.8L105.9,546.6L109.1,545.5L112.3,544.6L115.6,544.0L118.8,543.7L122.1,543.6L125.3,543.7L128.3,544.0L131.1,544.4L133.6,544.8L136.0,545.5L138.4,546.5L140.8,547.8L143.2,549.3L145.4,551.0L147.3,552.8L148.9,554.5L150.2,556.4L151.4,558.3L152.4,560.4L153.4,562.8L154.3,565.5L155.0,568.2L155.4,570.6L155.4,572.7L155.1,574.6L154.5,576.4L153.6,578.1L152.2,579.8L150.5,581.5L148.4,583.0L146.0,584.5L143.2,585.9L139.9,587.3L136.5,588.5L133.4,589.6L130.7,590.7L128.2,591.7L125.7,592.5L123.3,592.9L120.7,592.8L118.2,592.4L115.6,591.7L113.0,590.9L110.5,590.1L108.0,589.2L105.5,588.2L102.8,587.1L99.6,585.9L96.1,584.6L92.8,583.2L90.0,582.0L87.9,581.0L86.3,580.1L85.0,579.2L83.9,578.2L83.0,577.1L82.5,576.0L82.2,574.7Z"/></clipPath>
<g clip-path="url(#bc1)">
<rect x="81.2" y="542.3" width="75.2" height="51.7" fill="#585858"/>
<path d="M118.3,553.8L116.5,520.3L117.5,515.8L177.9,278.4L234.5,338.8L144.4,538.7L128.5,559.2L118.8,554.8Z" fill="#555555"/>
<path d="M146.7,576.8L416.6,514.6L477.8,568.1L138.7,905.9L129.2,682.1L135.2,596.0Z" fill="#797979"/>
<path d="M114.4,582.2L124.2,580.1L124.2,573.1L121.5,569.2L117.5,568.0L116.8,568.4L113.8,570.7Z" fill="#676767"/>
<path d="M97.2,566.2L94.5,565.6L91.5,561.9L92.9,551.6L104.5,547.9L105.0,558.0L101.4,562.4Z" fill="#797979"/>
<path d="M98.1,583.3L98.6,570.2L107.9,579.6L108.1,581.4Z" fill="#838383"/>
<path d="M97.9,584.0L-59.2,743.1L118.8,929.5L138.7,905.9L129.2,682.1L111.5,603.6Z" fill="#707070"/>
<path d="M91.4,549.7L92.9,551.6L91.5,561.9L77.2,556.9L88.3,547.3Z" fill="#555555"/>
<path d="M92.5,581.1L88.4,576.7L80.8,588.1Z" fill="#838383"/>
<path d="M110.0,571.8L98.0,567.4L97.2,566.2L101.4,562.4L116.8,568.4L113.8,570.7Z" fill="#838383"/>
<path d="M107.9,579.6L98.6,570.2L98.0,567.4L110.0,571.8Z" fill="#797979"/>
<path d="M118.3,553.8L116.5,520.3L104.5,547.9L105.0,558.0L107.0,558.3Z" fill="#797979"/>
<path d="M118.3,553.8L107.0,558.3L116.3,564.2L118.8,554.8Z" fill="#707070"/>
<path d="M98.0,583.4L92.5,581.1L80.8,588.1L-59.5,742.9L-59.2,743.1L97.9,584.0Z" fill="#838383"/>
<path d="M139.9,570.3L125.9,582.4L124.2,580.1L124.2,573.1L138.6,570.0Z" fill="#5e5e5e"/>
<path d="M140.0,570.3L144.4,538.7L234.5,338.8L416.6,514.6L146.7,576.8Z" fill="#838383"/>
<path d="M101.4,562.4L105.0,558.0L107.0,558.3L116.3,564.2L117.5,568.0L116.8,568.4Z" fill="#5e5e5e"/>
<path d="M108.1,581.4L107.9,579.6L110.0,571.8L113.8,570.7L114.4,582.2L111.9,583.9Z" fill="#5e5e5e"/>
<path d="M94.5,565.6L91.5,561.9L77.2,556.9L-231.8,557.6L-243.2,568.1L-227.9,582.2L91.5,568.5Z" fill="#838383"/>
<path d="M117.5,568.0L116.3,564.2L118.8,554.8L128.5,559.2L128.5,559.9L121.5,569.2Z" fill="#797979"/>
<path d="M80.8,588.1L-59.5,742.9L-196.7,611.4L88.1,574.2L88.4,576.7Z" fill="#707070"/>
<path d="M91.5,568.5L-227.9,582.2L-196.7,611.4L88.1,574.2Z" fill="#5e5e5e"/>
<path d="M91.4,549.7L117.5,515.8L177.9,278.4L118.8,207.5L31.4,297.6L88.3,547.3Z" fill="#555555"/>
<path d="M91.4,549.7L117.5,515.8L116.5,520.3L104.5,547.9L92.9,551.6Z" fill="#5e5e5e"/>
<path d="M98.1,583.3L98.6,570.2L98.0,567.4L97.2,566.2L94.5,565.6L91.5,568.5L88.1,574.2L88.4,576.7L92.5,581.1L98.0,583.4Z" fill="#676767"/>
<path d="M139.9,570.3L140.0,570.3L144.4,538.7L128.5,559.2L128.5,559.9L138.6,570.0Z" fill="#676767"/>
<path d="M138.6,570.0L128.5,559.9L121.5,569.2L124.2,573.1Z" fill="#707070"/>
<path d="M111.5,603.6L129.2,682.1L135.2,596.0L125.9,582.4L124.2,580.1L114.4,582.2L111.9,583.9Z" fill="#555555"/>
<path d="M98.1,583.3L108.1,581.4L111.9,583.9L111.5,603.6L97.9,584.0L98.0,583.4Z" fill="#555555"/>
<path d="M139.9,570.3L140.0,570.3L146.7,576.8L135.2,596.0L125.9,582.4Z" fill="#797979"/>
<path d="M88.3,547.3L31.4,297.6L-231.8,557.6L77.2,556.9Z" fill="#797979"/>
<rect x="81.2" y="542.3" width="75.2" height="51.7" filter="url(#tx1)" opacity="0.42"/>
<rect x="81.2" y="542.3" width="75.2" height="51.7" filter="url(#tx2)" opacity="0.75"/>
<path d="M126.0,559.0Q130.0,563.7 136.5,565.9M99.8,558.5Q103.8,557.3 104.8,553.7M106.7,554.5Q107.3,552.5 107.1,548.4M117.2,578.0Q115.3,571.2 114.9,565.8M122.8,572.8Q128.7,571.7 135.9,569.6M141.6,564.3Q143.9,563.3 148.0,564.9M93.7,556.9Q96.1,553.0 97.5,548.1M126.5,559.8Q131.3,561.9 135.8,566.2M120.6,564.8Q121.6,560.9 123.0,557.3M105.6,552.2Q106.9,549.7 105.2,545.8M111.1,581.8Q115.6,576.0 118.5,570.4M148.9,584.5Q150.4,587.0 152.5,589.8M98.0,576.3Q102.6,574.5 109.9,571.5M97.8,576.3Q104.8,575.8 109.0,573.4M103.9,580.8Q107.5,578.1 112.4,576.9M96.9,582.6Q99.3,580.8 103.4,580.8M96.0,585.4Q96.1,577.5 96.5,572.2M96.7,575.2Q99.6,569.6 100.0,564.0M94.9,576.1Q102.0,573.1 106.7,569.8M115.9,555.9Q116.2,553.2 119.2,549.8M130.6,594.3Q131.7,588.9 135.0,586.2M106.8,576.9Q104.2,569.4 102.9,563.6M127.1,564.5Q134.8,564.8 139.9,563.6M144.4,561.4Q146.9,562.8 150.6,562.0M113.2,559.1Q118.1,557.1 120.3,552.8M132.4,578.4Q136.6,579.1 139.2,581.6" fill="none" stroke="#8c8c8c" stroke-width="1.5" stroke-linecap="round" opacity="0.34"/>
<path d="M106.6,545.4L117.2,544.3L122.5,547.6L121.4,552.9L114.0,554.0L108.7,550.8Z" fill="#2e46b4" stroke="#1c1c3a" stroke-width="0.6" stroke-opacity="0.7"/>
<path d="M138.4,560.3L143.8,559.3L144.8,564.6L141.6,568.9L137.4,566.8Z" fill="#2e46b4" stroke="#1c1c3a" stroke-width="0.6" stroke-opacity="0.7"/>
<path d="M87.5,560.3L90.7,559.3L91.7,564.6L88.6,567.9L86.4,565.7Z" fill="#2e46b4" stroke="#1c1c3a" stroke-width="0.6" stroke-opacity="0.7"/>
<path d="M477.8,568.1Q308.3,735.9 138.7,905.9M92.9,551.6Q93.1,549.8 91.4,549.7M92.9,551.6Q92.4,557.2 91.5,561.9M77.2,556.9Q83.1,552.6 88.3,547.3M77.2,556.9Q84.1,560.1 91.5,561.9M88.3,547.3Q90.9,548.8 91.4,549.7M104.5,547.9Q99.9,550.6 92.9,551.6M104.5,547.9Q109.5,534.5 116.5,520.3M117.5,515.8Q103.5,533.2 91.4,549.7M31.4,297.6Q59.5,423.3 88.3,547.3M116.3,564.2Q110.5,562.3 107.0,558.3M116.3,564.2Q116.4,558.4 118.8,554.8M107.0,558.3Q111.5,555.2 118.3,553.8M118.8,554.8Q119.7,555.1 118.3,553.8M116.5,520.3Q118.4,536.3 118.3,553.8M105.0,558.0Q106.5,558.9 107.0,558.3M104.5,547.9Q105.3,552.4 105.0,558.0M144.4,538.7Q137.6,549.5 128.5,559.2M128.5,559.2Q124.1,556.5 118.8,554.8M-227.9,582.2Q-68.5,576.0 91.5,568.5M-196.7,611.4Q-54.2,592.8 88.1,574.2M88.1,574.2Q90.8,571.2 91.5,568.5M91.5,561.9Q93.8,562.7 94.5,565.6M91.5,568.5Q93.0,567.6 94.5,565.6M416.6,514.6Q280.4,546.2 146.7,576.8M135.2,596.0Q140.4,586.7 146.7,576.8M144.4,538.7Q142.5,553.6 140.0,570.3M146.7,576.8Q144.4,572.9 140.0,570.3M128.5,559.9Q127.6,559.4 128.5,559.2M128.5,559.9Q124.0,563.6 121.5,569.2M116.3,564.2Q117.5,565.1 117.5,568.0M121.5,569.2Q119.6,569.5 117.5,568.0M125.9,582.4Q132.8,577.1 139.9,570.3M125.9,582.4Q125.9,580.4 124.2,580.1M124.2,580.1Q123.2,577.3 124.2,573.1M124.2,573.1Q132.3,572.4 138.6,570.0M138.6,570.0Q139.8,570.2 139.9,570.3M135.2,596.0Q131.7,589.8 125.9,582.4M140.0,570.3Q140.6,571.3 139.9,570.3M121.5,569.2Q121.8,571.7 124.2,573.1M128.5,559.9Q133.8,563.8 138.6,570.0M88.4,576.7Q89.9,579.4 92.5,581.1M88.4,576.7Q84.7,582.6 80.8,588.1M80.8,588.1Q86.2,584.8 92.5,581.1M88.1,574.2Q89.2,576.6 88.4,576.7M-59.5,742.9Q10.8,666.0 80.8,588.1M117.5,568.0Q116.2,567.3 116.8,568.4M105.0,558.0Q103.3,561.0 101.4,562.4M116.8,568.4Q108.2,564.5 101.4,562.4M94.5,565.6Q95.8,565.4 97.2,566.2M101.4,562.4Q98.4,563.5 97.2,566.2M116.8,568.4Q115.1,570.2 113.8,570.7M98.0,567.4Q103.3,570.3 110.0,571.8M97.2,566.2Q96.6,566.2 98.0,567.4M113.8,570.7Q112.3,570.0 110.0,571.8M124.2,580.1Q118.9,580.3 114.4,582.2M113.8,570.7Q113.5,577.4 114.4,582.2M98.0,567.4Q97.5,569.3 98.6,570.2M98.6,570.2Q104.2,574.3 107.9,579.6M110.0,571.8Q109.8,575.2 107.9,579.6M111.9,583.9Q110.7,582.8 108.1,581.4M111.9,583.9Q111.3,594.7 111.5,603.6M108.1,581.4Q103.6,581.9 98.1,583.3M111.5,603.6Q104.8,593.3 97.9,584.0M97.9,584.0Q97.4,584.8 98.0,583.4M98.0,583.4Q99.2,582.5 98.1,583.3M107.9,579.6Q109.0,581.0 108.1,581.4M114.4,582.2Q112.0,582.1 111.9,583.9M98.6,570.2Q98.2,577.7 98.1,583.3M-59.2,743.1Q20.2,663.0 97.9,584.0M92.5,581.1Q95.1,583.3 98.0,583.4" fill="none" stroke="#1e1e1e" stroke-width="0.8"/>
<path d="M105.6,568.1L107.7,566.1L110.5,564.0L113.7,562.4L117.1,561.7L120.9,561.6L124.7,561.7L128.5,562.1L132.3,562.7L135.6,563.7L138.3,564.9L140.5,566.3L142.2,568.1L143.6,570.4L144.6,573.0L144.8,575.6L144.2,577.9L142.8,580.2L140.8,582.6L137.9,585.1L134.4,587.8L130.5,590.0L126.2,591.9L121.5,593.5L117.3,594.0L113.9,593.2L110.9,591.4L108.6,589.0L106.8,585.9L105.7,582.3L104.9,579.1L104.3,576.8L104.1,574.9L104.2,573.1L104.2,571.4L104.6,569.8Z" fill="#383838" fill-opacity="0.72" stroke="#1f1f1f" stroke-width="0.9"/>
<path d="M115.6,581.5A8.2,4.6 0 0 1 132.0,581.5M105.6,578.0A15.0,9.0 0 0 1 135.5,578.0M116.3,583.2A7.4,7.4 0 0 1 131.1,583.2M113.6,578.2A12.4,7.5 0 0 1 138.3,578.2M111.8,582.2A15.2,8.9 0 0 1 142.2,582.2" fill="none" stroke="#575757" stroke-width="1.1" stroke-opacity="0.5"/>
</g>
<use href="#bo1" fill="none" stroke="#1b1b1b" stroke-width="1.3"/>
<clipPath id="bc2"><path id="bo2" d="M163.4,571.8L163.8,569.1L164.8,566.1L166.1,563.1L167.6,560.4L169.4,557.9L171.5,555.7L173.8,553.5L176.4,551.6L179.3,549.8L182.5,548.2L185.9,546.8L189.1,545.7L192.3,544.9L195.5,544.4L198.6,544.2L201.8,544.0L205.0,543.9L208.3,544.0L211.5,544.2L214.5,544.7L217.2,545.4L219.8,546.3L222.3,547.5L224.6,549.0L226.7,550.8L228.8,553.0L230.6,555.4L232.2,557.9L233.5,560.6L234.7,563.6L235.6,566.6L236.0,569.3L236.0,571.8L235.5,574.1L234.7,576.2L233.5,578.2L231.8,580.0L229.7,581.6L227.2,583.1L224.6,584.5L221.7,585.7L218.5,586.8L215.2,587.8L212.0,588.8L208.8,589.9L205.6,591.0L202.4,591.9L199.2,592.5L196.0,592.8L192.7,592.9L189.6,592.6L186.6,592.1L183.8,591.2L181.3,590.0L178.9,588.6L176.4,587.1L173.7,585.7L170.9,584.1L168.3,582.5L166.3,580.7L164.9,578.7L163.9,576.6L163.4,574.3Z"/></clipPath>
<g clip-path="url(#bc2)">
<rect x="162.0" y="542.8" width="75.2" height="52.0" fill="#585858"/>
<path d="M176.8,576.3L174.9,570.4L172.7,567.6L170.3,571.9L176.0,576.6Z" fill="#676767"/>
<path d="M176.8,576.3L181.4,578.4L182.3,587.1L169.5,579.1L176.0,576.6Z" fill="#797979"/>
<path d="M218.3,557.2L208.8,538.1L200.6,555.7L200.7,558.0L206.5,565.5Z" fill="#555555"/>
<path d="M203.2,575.7L202.3,574.9L201.6,572.0L203.6,570.6L206.5,570.8L211.3,572.0L210.3,574.4Z" fill="#707070"/>
<path d="M170.3,571.9L166.2,578.7L-47.8,673.6L-159.6,568.8L-13.0,432.6L172.7,558.8L172.7,567.6Z" fill="#555555"/>
<path d="M213.1,568.5L206.6,567.2L203.6,570.6L206.5,570.8Z" fill="#707070"/>
<path d="M324.0,794.2L532.7,588.4L261.0,568.7L222.3,580.7L219.1,583.3Z" fill="#5e5e5e"/>
<path d="M185.1,562.9L200.6,555.7L208.8,538.1L207.5,521.0L180.5,559.4Z" fill="#676767"/>
<path d="M116.3,837.7L-47.8,673.6L166.2,578.7L169.5,579.1L182.3,587.1L183.1,589.3L183.7,592.2Z" fill="#555555"/>
<path d="M215.3,581.5L217.4,581.8L219.8,565.7L214.0,568.6L211.3,572.0L210.3,574.4Z" fill="#797979"/>
<path d="M190.0,572.3L187.3,570.1L187.1,567.5L199.0,565.7L201.1,571.6Z" fill="#707070"/>
<path d="M172.7,567.6L172.7,558.8L180.5,559.4L185.1,562.9L187.1,567.5L187.3,570.1L183.9,573.7L174.9,570.4Z" fill="#838383"/>
<path d="M176.0,576.6L170.3,571.9L166.2,578.7L169.5,579.1Z" fill="#676767"/>
<path d="M206.4,583.1L203.2,575.7L210.3,574.4L215.3,581.5L208.0,583.4Z" fill="#707070"/>
<path d="M180.5,559.4L172.7,558.8L-13.0,432.6L199.6,210.7L228.9,244.9L207.5,521.0Z" fill="#838383"/>
<path d="M191.5,576.5L183.1,589.3L182.3,587.1L181.4,578.4L183.9,573.7L187.3,570.1L190.0,572.3Z" fill="#5e5e5e"/>
<path d="M206.4,583.1L201.6,587.0L195.9,585.3L196.0,579.7L202.3,574.9L203.2,575.7Z" fill="#5e5e5e"/>
<path d="M200.7,558.0L200.6,555.7L185.1,562.9L187.1,567.5L199.0,565.7Z" fill="#676767"/>
<path d="M222.0,562.8L232.8,565.6L261.0,568.7L532.7,588.4L554.5,568.8L228.9,244.9L207.5,521.0L208.8,538.1L218.3,557.2Z" fill="#707070"/>
<path d="M176.8,576.3L174.9,570.4L183.9,573.7L181.4,578.4Z" fill="#5e5e5e"/>
<path d="M213.1,568.5L206.6,567.2L206.5,565.5L218.3,557.2L222.0,562.8L219.8,565.7L214.0,568.6Z" fill="#838383"/>
<path d="M201.6,572.0L201.1,571.6L199.0,565.7L200.7,558.0L206.5,565.5L206.6,567.2L203.6,570.6Z" fill="#5e5e5e"/>
<path d="M208.0,583.4L276.3,844.7L324.0,794.2L219.1,583.3L217.4,581.8L215.3,581.5Z" fill="#5e5e5e"/>
<path d="M222.0,562.8L232.8,565.6L222.3,580.7L219.1,583.3L217.4,581.8L219.8,565.7Z" fill="#797979"/>
<path d="M250.4,872.8L199.6,929.7L116.3,837.7L183.7,592.2L195.9,585.3L201.6,587.0Z" fill="#707070"/>
<path d="M196.0,579.7L191.5,576.5L190.0,572.3L201.1,571.6L201.6,572.0L202.3,574.9Z" fill="#5e5e5e"/>
<path d="M222.3,580.7L261.0,568.7L232.8,565.6Z" fill="#5e5e5e"/>
<path d="M195.9,585.3L183.7,592.2L183.1,589.3L191.5,576.5L196.0,579.7Z" fill="#797979"/>
<path d="M206.4,583.1L201.6,587.0L250.4,872.8L276.3,844.7L208.0,583.4Z" fill="#707070"/>
<path d="M213.1,568.5L206.5,570.8L211.3,572.0L214.0,568.6Z" fill="#797979"/>
<rect x="162.0" y="542.8" width="75.2" height="52.0" filter="url(#tx1)" opacity="0.42"/>
<rect x="162.0" y="542.8" width="75.2" height="52.0" filter="url(#tx2)" opacity="0.75"/>
<path d="M180.3,554.4Q180.8,551.1 183.3,548.2M184.1,582.5Q186.8,578.5 191.1,576.4M181.6,584.3Q187.2,580.0 190.9,576.0M219.3,573.1Q221.0,574.8 225.1,578.4M214.5,559.6Q218.6,563.3 222.9,569.9M187.3,562.4Q185.5,558.6 182.5,552.3M206.9,590.6Q212.4,590.4 219.4,588.5M211.4,586.3Q213.7,586.9 217.7,584.8M174.7,573.8Q177.4,567.0 177.4,561.1M174.0,592.1Q174.8,586.5 177.1,583.0M163.8,578.9Q167.2,574.5 170.7,567.4M165.3,582.4Q172.4,579.4 176.9,579.1M199.2,576.0Q201.2,573.1 200.9,568.0M207.7,590.2Q211.6,590.1 218.0,588.9M171.9,583.7Q172.3,579.5 175.2,577.2M224.6,558.2Q230.0,557.2 237.6,557.2M193.5,565.9Q196.9,562.2 202.0,560.9M207.2,562.0Q212.7,561.3 217.1,563.1M166.9,581.2Q171.7,578.7 173.6,574.2M225.1,569.5Q230.5,570.7 238.6,572.2M218.2,566.2Q223.5,566.2 226.8,563.4M177.1,565.8Q182.6,562.8 186.6,557.8M208.2,585.3Q210.3,588.7 215.0,589.9M219.4,588.1Q223.9,587.9 226.9,585.1M176.1,552.7Q181.2,549.8 184.5,545.0M206.1,587.0Q211.9,591.6 218.1,593.7" fill="none" stroke="#8c8c8c" stroke-width="1.5" stroke-linecap="round" opacity="0.34"/>
<path d="M178.9,553.4L187.4,549.1L193.7,548.1L192.7,552.4L187.4,555.6L185.3,560.9L188.5,564.2L181.0,566.3L177.9,562.0Z" fill="#2e46b4" stroke="#1c1c3a" stroke-width="0.6" stroke-opacity="0.7"/>
<path d="M195.9,553.4L203.3,549.1L209.7,550.2L210.7,555.6L206.5,558.8L199.1,558.8L195.9,556.7Z" fill="#2e46b4" stroke="#1c1c3a" stroke-width="0.6" stroke-opacity="0.7"/>
<path d="M210.7,583.5L220.3,580.3L228.8,580.3L227.7,583.5L219.2,585.6L211.8,586.7Z" fill="#2e46b4" stroke="#1c1c3a" stroke-width="0.6" stroke-opacity="0.7"/>
<path d="M554.5,568.8Q392.2,406.2 228.9,244.9M207.5,521.0Q194.2,539.4 180.5,559.4M208.8,538.1Q204.5,547.7 200.6,555.7M200.6,555.7Q191.7,559.4 185.1,562.9M180.5,559.4Q182.6,560.6 185.1,562.9M172.7,558.8Q175.5,559.1 180.5,559.4M-13.0,432.6Q79.5,494.7 172.7,558.8M187.1,567.5Q185.9,565.6 185.1,562.9M187.1,567.5Q192.0,567.3 199.0,565.7M200.6,555.7Q199.7,556.8 200.7,558.0M199.0,565.7Q199.5,562.7 200.7,558.0M172.7,558.8Q173.7,563.8 172.7,567.6M183.9,573.7Q178.9,571.6 174.9,570.4M187.3,570.1Q186.4,571.9 183.9,573.7M187.1,567.5Q187.5,569.3 187.3,570.1M174.9,570.4Q173.1,568.7 172.7,567.6M-47.8,673.6Q60.3,625.7 166.2,578.7M166.2,578.7Q169.1,574.5 170.3,571.9M172.7,567.6Q170.3,569.8 170.3,571.9M169.5,579.1Q172.2,578.1 176.0,576.6M169.5,579.1Q176.5,582.0 182.3,587.1M182.3,587.1Q181.8,582.4 181.4,578.4M181.4,578.4Q180.0,578.2 176.8,576.3M176.0,576.6Q177.3,577.0 176.8,576.3M166.2,578.7Q167.5,579.2 169.5,579.1M170.3,571.9Q173.3,573.9 176.0,576.6M174.9,570.4Q175.3,573.7 176.8,576.3M183.9,573.7Q183.6,575.4 181.4,578.4M261.0,568.7Q241.3,573.9 222.3,580.7M261.0,568.7Q246.6,566.9 232.8,565.6M232.8,565.6Q226.6,573.5 222.3,580.7M222.3,580.7Q220.3,582.8 219.1,583.3M219.1,583.3Q271.0,689.3 324.0,794.2M219.1,583.3Q219.4,581.8 217.4,581.8M217.4,581.8Q218.3,574.9 219.8,565.7M232.8,565.6Q227.2,563.8 222.0,562.8M219.8,565.7Q220.1,565.1 222.0,562.8M200.7,558.0Q203.2,562.7 206.5,565.5M208.8,538.1Q213.7,546.9 218.3,557.2M206.5,565.5Q213.6,562.3 218.3,557.2M218.3,557.2Q220.7,560.2 222.0,562.8M187.3,570.1Q189.3,572.3 190.0,572.3M199.0,565.7Q199.3,568.0 201.1,571.6M201.1,571.6Q196.2,571.8 190.0,572.3M183.1,589.3Q188.5,583.7 191.5,576.5M183.1,589.3Q182.8,587.4 182.3,587.1M190.0,572.3Q191.0,574.7 191.5,576.5M183.1,589.3Q183.6,591.4 183.7,592.2M183.7,592.2Q150.0,715.9 116.3,837.7M206.5,565.5Q206.8,565.5 206.6,567.2M206.6,567.2Q205.9,568.1 203.6,570.6M201.1,571.6Q202.3,572.9 201.6,572.0M203.6,570.6Q201.9,570.6 201.6,572.0M201.6,572.0Q202.4,573.4 202.3,574.9M191.5,576.5Q193.4,578.7 196.0,579.7M202.3,574.9Q198.7,576.4 196.0,579.7M183.7,592.2Q189.9,589.7 195.9,585.3M196.0,579.7Q197.0,581.5 195.9,585.3M211.3,572.0Q209.5,571.0 206.5,570.8M211.3,572.0Q213.8,570.0 214.0,568.6M206.5,570.8Q208.9,569.2 213.1,568.5M214.0,568.6Q213.6,567.7 213.1,568.5M206.6,567.2Q210.5,567.4 213.1,568.5M203.6,570.6Q205.7,570.1 206.5,570.8M219.8,565.7Q216.9,567.5 214.0,568.6M195.9,585.3Q198.0,585.6 201.6,587.0M201.6,587.0Q226.8,729.6 250.4,872.8M210.3,574.4Q206.4,575.3 203.2,575.7M210.3,574.4Q213.3,578.9 215.3,581.5M203.2,575.7Q205.0,580.3 206.4,583.1M215.3,581.5Q212.6,583.5 208.0,583.4M208.0,583.4Q208.2,583.8 206.4,583.1M202.3,574.9Q203.2,575.0 203.2,575.7M211.3,572.0Q209.9,574.2 210.3,574.4M217.4,581.8Q216.2,581.3 215.3,581.5M201.6,587.0Q204.1,585.7 206.4,583.1M276.3,844.7Q243.0,713.2 208.0,583.4" fill="none" stroke="#1e1e1e" stroke-width="0.8"/>
<path d="M169.6,576.8L170.2,574.0L171.8,571.2L174.0,568.8L176.5,566.8L179.4,565.1L182.8,563.8L186.6,562.9L190.8,562.4L194.8,562.3L198.7,562.6L202.3,563.2L205.5,564.3L208.0,565.7L210.1,567.6L211.7,569.8L212.6,572.6L213.0,575.7L212.8,578.8L212.2,581.5L211.1,584.2L209.1,586.8L206.1,589.9L202.2,593.0L198.1,594.8L193.8,594.6L189.2,593.1L185.0,591.3L181.1,589.6L177.6,587.6L174.7,585.3L172.3,582.6L170.4,579.7Z" fill="#383838" fill-opacity="0.72" stroke="#1f1f1f" stroke-width="0.9"/>
<path d="M180.1,584.1A15.0,9.4 0 0 1 210.1,584.1M179.3,583.5A12.7,9.1 0 0 1 204.7,583.5M171.0,582.8A17.2,6.2 0 0 1 205.5,582.8M174.3,580.7A16.7,9.2 0 0 1 207.6,580.7M181.6,578.4A7.9,8.9 0 0 1 197.3,578.4" fill="none" stroke="#575757" stroke-width="1.1" stroke-opacity="0.5"/>
</g>
<use href="#bo2" fill="none" stroke="#1b1b1b" stroke-width="1.3"/>
<clipPath id="bc3"><path id="bo3" d="M241.8,571.0L242.0,568.9L242.5,566.6L243.3,564.2L244.1,562.0L245.2,560.0L246.4,558.1L247.8,556.4L249.4,554.8L251.1,553.4L253.1,552.0L255.2,550.8L257.3,549.7L259.4,548.6L261.6,547.7L263.9,546.9L266.5,546.2L269.5,545.4L272.9,544.7L276.3,544.1L279.6,543.8L282.7,543.7L285.7,543.8L288.7,544.1L291.4,544.5L293.9,545.0L296.2,545.7L298.5,546.6L300.6,547.8L302.7,549.4L304.8,551.3L306.8,553.4L308.5,555.5L309.9,557.7L311.1,560.0L312.2,562.3L313.1,564.5L313.8,566.6L314.5,568.5L314.9,570.4L315.0,572.3L314.9,574.2L314.5,576.1L313.9,577.8L313.1,579.4L312.0,580.8L310.6,581.9L309.0,583.0L307.1,584.0L304.9,585.0L302.3,586.0L299.5,586.9L296.7,587.8L293.8,588.7L290.7,589.5L287.6,590.3L284.8,591.0L282.3,591.7L280.0,592.4L277.8,592.9L275.6,593.0L273.3,592.6L271.0,591.8L268.8,590.7L266.5,589.7L264.2,588.7L261.9,587.6L259.6,586.4L257.3,585.3L254.9,584.1L252.4,583.0L250.0,581.8L248.0,580.7L246.5,579.6L245.3,578.5L244.3,577.4L243.5,576.2L242.8,575.0L242.2,573.9L241.9,572.6Z"/></clipPath>
<g clip-path="url(#bc3)">
<rect x="240.5" y="542.8" width="75.5" height="51.2" fill="#585858"/>
<path d="M310.0,557.7L561.0,495.6L634.4,564.1L316.8,579.2L312.9,577.9L301.8,566.5L304.2,560.4Z" fill="#797979"/>
<path d="M287.7,575.2L291.3,573.2L298.7,586.6L295.7,591.5L290.9,586.7L288.8,581.8Z" fill="#707070"/>
<path d="M261.3,227.5L122.0,372.2L252.4,551.1L258.9,547.7L274.7,506.9L276.3,485.8Z" fill="#797979"/>
<path d="M276.3,485.8L274.7,506.9L272.8,553.4L274.3,558.3L275.0,559.2L284.7,558.6L294.6,549.4Z" fill="#797979"/>
<path d="M277.0,588.0L259.5,579.7L259.5,579.7L272.4,612.8L277.0,588.1Z" fill="#707070"/>
<path d="M306.3,545.7L310.0,557.7L304.2,560.4L297.9,551.6Z" fill="#707070"/>
<path d="M254.2,554.4L253.4,557.6L252.5,558.4L246.4,561.3L-69.7,575.3L-77.3,568.4L122.0,372.2L252.4,551.1Z" fill="#838383"/>
<path d="M306.3,545.7L411.8,345.7L278.2,207.1L261.3,227.5L276.3,485.8L294.6,549.4L297.9,551.6Z" fill="#707070"/>
<path d="M254.2,554.4L259.8,553.2L258.9,547.7L252.4,551.1Z" fill="#676767"/>
<path d="M254.3,567.7L257.3,570.0L258.9,579.6L238.0,585.5L250.7,566.8Z" fill="#838383"/>
<path d="M254.3,567.7L257.3,570.0L258.8,566.4L256.0,559.7L253.4,557.6L252.5,558.4Z" fill="#555555"/>
<path d="M296.5,569.6L291.3,573.2L298.7,586.6L299.6,585.5Z" fill="#5e5e5e"/>
<path d="M277.6,584.5L277.0,588.0L259.5,579.7L272.4,572.2L277.5,583.6Z" fill="#707070"/>
<path d="M288.8,581.8L290.9,586.7L277.0,588.1L277.0,588.0L277.6,584.5Z" fill="#555555"/>
<path d="M256.0,559.7L258.8,566.4L268.8,560.1Z" fill="#676767"/>
<path d="M290.9,586.7L295.7,591.5L298.0,612.5L285.9,795.7L272.4,612.8L277.0,588.1Z" fill="#838383"/>
<path d="M287.7,575.2L291.3,573.2L296.5,569.6L297.6,568.1L284.7,558.6L275.0,559.2L275.1,568.0L287.7,575.2Z" fill="#676767"/>
<path d="M254.2,554.4L253.4,557.6L256.0,559.7L268.8,560.1L274.3,558.3L272.8,553.4L259.8,553.2Z" fill="#555555"/>
<path d="M272.4,612.8L285.9,795.7L285.9,921.4L278.2,930.5L25.6,665.1L238.0,585.5L258.9,579.6L259.5,579.7Z" fill="#797979"/>
<path d="M299.6,585.5L298.7,586.6L295.7,591.5L298.0,612.5L316.8,579.2L312.9,577.9Z" fill="#5e5e5e"/>
<path d="M287.7,575.2L275.1,568.0L272.4,572.2L277.5,583.6Z" fill="#797979"/>
<path d="M272.4,572.2L259.5,579.7L259.5,579.7L258.9,579.6L257.3,570.0L258.8,566.4L268.8,560.1L274.3,558.3L275.0,559.2L275.1,568.0Z" fill="#5e5e5e"/>
<path d="M254.3,567.7L252.5,558.4L246.4,561.3L250.7,566.8Z" fill="#797979"/>
<path d="M259.8,553.2L272.8,553.4L274.7,506.9L258.9,547.7Z" fill="#5e5e5e"/>
<path d="M306.3,545.7L411.8,345.7L561.0,495.6L310.0,557.7Z" fill="#5e5e5e"/>
<path d="M297.6,568.1L301.8,566.5L312.9,577.9L299.6,585.5L296.5,569.6Z" fill="#707070"/>
<path d="M250.7,566.8L238.0,585.5L25.6,665.1L-69.7,575.3L246.4,561.3Z" fill="#5e5e5e"/>
<path d="M316.8,579.2L634.4,564.1L639.3,568.4L285.9,921.4L285.9,795.7L298.0,612.5Z" fill="#797979"/>
<path d="M287.7,575.2L288.8,581.8L277.6,584.5L277.5,583.6L287.7,575.2Z" fill="#555555"/>
<path d="M297.9,551.6L294.6,549.4L284.7,558.6L297.6,568.1L301.8,566.5L304.2,560.4Z" fill="#838383"/>
<rect x="240.5" y="542.8" width="75.5" height="51.2" filter="url(#tx1)" opacity="0.60"/>
<rect x="240.5" y="542.8" width="75.5" height="51.2" filter="url(#tx2)" opacity="0.75"/>
<path d="M285.9,549.0Q288.1,548.3 293.1,548.9M284.8,556.8Q287.9,557.4 291.3,558.5M257.1,565.0Q257.6,559.7 257.2,553.4M285.2,568.3Q289.2,569.3 292.3,568.8M296.8,576.2Q302.0,575.2 305.3,572.5M294.0,568.8Q299.0,573.0 303.8,577.8M258.1,553.2Q263.7,548.1 267.6,545.2M274.4,573.6Q275.7,567.2 276.6,559.9M292.1,567.6Q294.4,573.3 298.7,578.4M290.0,561.0Q292.5,564.3 294.0,566.7M284.6,580.7Q283.5,576.7 284.6,573.6M291.6,549.7Q298.4,550.4 304.7,549.9M258.1,592.3Q262.8,589.4 265.8,587.6M268.2,590.8Q272.3,587.7 276.5,584.2M259.0,568.8Q260.5,560.7 261.9,555.1M270.7,566.7Q276.8,564.8 281.8,563.1M251.5,558.4Q253.4,555.8 256.6,552.3M265.5,556.0Q268.3,553.9 268.3,550.1M295.4,582.6Q300.5,586.7 304.3,592.1M278.1,585.3Q283.8,583.9 286.5,584.6M289.0,561.2Q293.8,561.4 298.4,562.9M288.1,569.6Q290.1,568.0 295.1,567.9M301.2,578.0Q305.6,580.0 307.2,584.5M266.7,584.0Q268.7,580.0 270.4,573.1M286.1,581.5Q289.2,582.4 293.3,585.7M266.2,552.3Q269.1,547.0 272.9,543.7" fill="none" stroke="#8c8c8c" stroke-width="1.5" stroke-linecap="round" opacity="0.45"/>
<path d="M283.0,548.0L288.4,546.9L289.4,554.4L291.6,562.8L296.9,570.2L303.3,573.4L305.4,578.6L301.2,580.7L293.7,577.6L289.4,573.4L286.3,564.9L284.1,556.5Z" fill="#2e46b4" stroke="#1c1c3a" stroke-width="0.6" stroke-opacity="0.7"/>
<path d="M243.6,570.2L246.8,568.1L248.9,573.3L247.9,578.6L244.7,577.6Z" fill="#2e46b4" stroke="#1c1c3a" stroke-width="0.6" stroke-opacity="0.7"/>
<path d="M260.7,578.6L266.0,577.6L269.2,582.9L264.9,586.0L260.7,583.9Z" fill="#2e46b4" stroke="#1c1c3a" stroke-width="0.6" stroke-opacity="0.7"/>
<path d="M307.6,562.8L311.8,567.0L313.9,574.4L309.7,575.5L306.5,569.1Z" fill="#2e46b4" stroke="#1c1c3a" stroke-width="0.6" stroke-opacity="0.7"/>
<path d="M291.6,550.1L295.8,551.2L294.8,557.5L291.6,556.5Z" fill="#2e46b4" stroke="#1c1c3a" stroke-width="0.6" stroke-opacity="0.7"/>
<path d="M639.3,568.4Q462.5,744.7 285.9,921.4M258.8,566.4Q256.7,563.5 256.0,559.7M258.8,566.4Q264.0,563.9 268.8,560.1M268.8,560.1Q263.6,560.5 256.0,559.7M634.4,564.1Q476.4,572.4 316.8,579.2M298.0,612.5Q307.0,594.8 316.8,579.2M246.4,561.3Q248.6,559.7 252.5,558.4M246.4,561.3Q248.2,563.3 250.7,566.8M252.5,558.4Q253.8,563.7 254.3,567.7M250.7,566.8Q253.4,566.8 254.3,567.7M-69.7,575.3Q89.1,568.9 246.4,561.3M238.0,585.5Q244.8,577.4 250.7,566.8M253.4,557.6Q253.9,558.1 256.0,559.7M258.8,566.4Q258.3,568.5 257.3,570.0M257.3,570.0Q256.1,569.5 254.3,567.7M253.4,557.6Q253.6,558.2 252.5,558.4M257.3,570.0Q257.7,574.1 258.9,579.6M238.0,585.5Q248.9,581.4 258.9,579.6M258.9,579.6Q259.3,579.4 259.5,579.7M259.5,579.7Q266.4,595.5 272.4,612.8M274.3,558.3Q272.7,560.1 268.8,560.1M259.5,579.7Q260.5,580.7 259.5,579.7M259.5,579.7Q265.8,575.1 272.4,572.2M275.0,559.2Q273.6,559.3 274.3,558.3M275.0,559.2Q275.6,563.4 275.1,568.0M275.1,568.0Q274.6,569.2 272.4,572.2M258.9,547.7Q259.8,550.3 259.8,553.2M258.9,547.7Q255.9,549.7 252.4,551.1M259.8,553.2Q257.3,554.7 254.2,554.4M252.4,551.1Q252.2,552.5 254.2,554.4M274.7,506.9Q274.1,530.3 272.8,553.4M274.7,506.9Q266.7,527.7 258.9,547.7M272.8,553.4Q265.4,553.2 259.8,553.2M274.3,558.3Q272.7,555.7 272.8,553.4M253.4,557.6Q253.2,556.5 254.2,554.4M122.0,372.2Q186.7,462.2 252.4,551.1M312.9,577.9Q305.4,581.9 299.6,585.5M312.9,577.9Q308.1,573.3 301.8,566.5M299.6,585.5Q298.5,576.4 296.5,569.6M301.8,566.5Q300.4,567.8 297.6,568.1M296.5,569.6Q297.1,567.7 297.6,568.1M298.0,612.5Q296.9,600.9 295.7,591.5M295.7,591.5Q297.8,589.3 298.7,586.6M298.7,586.6Q299.9,586.5 299.6,585.5M316.8,579.2Q313.8,578.2 312.9,577.9M298.7,586.6Q295.0,579.4 291.3,573.2M291.3,573.2Q294.7,571.1 296.5,569.6M284.7,558.6Q289.7,555.1 294.6,549.4M275.0,559.2Q279.9,559.1 284.7,558.6M294.6,549.4Q284.5,518.2 276.3,485.8M304.2,560.4Q300.9,555.1 297.9,551.6M304.2,560.4Q306.8,559.0 310.0,557.7M310.0,557.7Q308.1,550.6 306.3,545.7M297.9,551.6Q301.6,548.3 306.3,545.7M284.7,558.6Q290.3,563.7 297.6,568.1M294.6,549.4Q295.5,550.9 297.9,551.6M301.8,566.5Q303.5,564.4 304.2,560.4M561.0,495.6Q436.2,527.1 310.0,557.7M411.8,345.7Q359.5,446.8 306.3,545.7M259.5,579.7Q268.1,582.7 277.0,588.0M272.4,612.8Q275.6,600.8 277.0,588.1M277.0,588.1Q276.6,588.2 277.0,588.0M295.7,591.5Q294.2,590.1 290.9,586.7M277.0,588.1Q285.1,587.0 290.9,586.7M277.5,583.6Q282.9,579.7 287.7,575.2M277.5,583.6Q278.6,583.8 277.6,584.5M277.6,584.5Q284.1,583.9 288.8,581.8M288.8,581.8Q288.8,577.5 287.7,575.2M287.7,575.2Q288.2,576.2 287.7,575.2M275.1,568.0Q281.1,572.5 287.7,575.2M272.4,572.2Q275.4,578.7 277.5,583.6M277.0,588.0Q277.6,586.0 277.6,584.5M290.9,586.7Q290.9,585.2 288.8,581.8M291.3,573.2Q290.3,574.5 287.7,575.2" fill="none" stroke="#1e1e1e" stroke-width="0.8"/>
</g>
<use href="#bo3" fill="none" stroke="#1b1b1b" stroke-width="1.3"/>
<clipPath id="bc4"><path id="bo4" d="M2.5,632.4L2.7,630.4L3.2,628.1L3.9,625.7L4.8,623.5L5.8,621.5L7.0,619.7L8.4,618.0L9.9,616.4L11.7,614.9L13.6,613.6L15.7,612.4L17.8,611.2L19.9,610.2L22.0,609.3L24.3,608.5L26.8,607.8L29.8,607.0L33.1,606.3L36.5,605.7L39.7,605.4L42.8,605.3L45.8,605.4L48.7,605.7L51.4,606.1L53.8,606.6L56.1,607.3L58.3,608.2L60.4,609.4L62.5,611.0L64.6,612.9L66.5,614.9L68.2,617.1L69.6,619.2L70.8,621.5L71.8,623.8L72.7,626.0L73.5,628.1L74.1,630.0L74.5,631.9L74.6,633.8L74.5,635.7L74.1,637.5L73.6,639.3L72.7,640.9L71.6,642.2L70.3,643.4L68.7,644.4L66.9,645.4L64.6,646.5L62.1,647.4L59.3,648.4L56.6,649.3L53.7,650.1L50.6,651.0L47.6,651.7L44.8,652.4L42.4,653.1L40.1,653.8L38.0,654.3L35.8,654.4L33.5,654.0L31.3,653.2L29.1,652.1L26.8,651.1L24.6,650.1L22.3,649.0L20.0,647.8L17.8,646.7L15.4,645.6L12.9,644.4L10.6,643.3L8.6,642.1L7.1,641.0L5.9,640.0L5.0,638.9L4.2,637.7L3.4,636.5L2.9,635.4L2.6,634.0Z"/></clipPath>
<g clip-path="url(#bc4)">
<rect x="1.2" y="604.4" width="74.4" height="51.0" fill="#585858"/>
<path d="M82.0,634.1L67.0,641.6L65.7,648.8L266.2,758.7L373.5,652.6L92.6,633.0Z" fill="#797979"/>
<path d="M50.8,626.2L56.9,626.5L58.8,611.9L54.5,609.6L48.0,616.7L49.0,625.5Z" fill="#707070"/>
<path d="M18.1,640.8L19.4,638.8L34.0,638.5L37.0,650.1L34.4,663.8L17.9,641.8Z" fill="#797979"/>
<path d="M58.8,611.9L59.4,611.8L162.4,398.2L39.4,269.8L37.4,542.1L54.5,609.6Z" fill="#5e5e5e"/>
<path d="M4.5,645.8L-195.1,747.3L13.1,960.2L37.7,691.0L34.4,663.8L17.9,641.8Z" fill="#838383"/>
<path d="M9.2,636.5L12.6,635.0L18.1,640.8L17.9,641.8L4.5,645.8Z" fill="#707070"/>
<path d="M34.0,638.5L33.9,635.9L25.4,630.3L21.7,632.2L19.4,638.8Z" fill="#676767"/>
<path d="M57.5,626.8L61.1,626.0L82.0,634.1L67.0,641.6L60.3,639.2Z" fill="#555555"/>
<path d="M31.1,603.9L30.8,603.6L24.6,610.6L22.1,616.0L26.5,625.6L37.0,623.6Z" fill="#838383"/>
<path d="M50.8,626.2L50.6,639.9L44.8,642.1L44.1,627.1L49.0,625.5Z" fill="#555555"/>
<path d="M41.0,627.3L37.0,623.6L26.5,625.6L25.4,630.3L33.9,635.9Z" fill="#838383"/>
<path d="M49.0,625.5L48.0,616.7L31.1,603.9L37.0,623.6L41.0,627.3L44.1,627.1Z" fill="#707070"/>
<path d="M12.6,635.0L11.9,632.2L21.5,632.1L21.7,632.2L19.4,638.8L18.1,640.8Z" fill="#797979"/>
<path d="M9.2,636.5L5.5,630.0L9.5,628.4L11.9,632.2L12.6,635.0Z" fill="#838383"/>
<path d="M55.8,642.0L53.7,660.6L65.7,648.8L67.0,641.6L60.3,639.2Z" fill="#797979"/>
<path d="M21.5,632.1L12.9,623.5L13.1,621.6L22.1,616.0L26.5,625.6L25.4,630.3L21.7,632.2Z" fill="#838383"/>
<path d="M82.0,634.1L61.1,626.0L67.5,616.2L92.6,633.0Z" fill="#838383"/>
<path d="M92.6,633.0L373.5,652.6L399.1,629.9L195.9,432.8L67.1,613.4L67.5,616.2Z" fill="#555555"/>
<path d="M162.4,398.2L59.4,611.8L67.1,613.4L195.9,432.8Z" fill="#797979"/>
<path d="M50.6,639.9L55.8,642.0L53.7,660.6L37.7,691.0L34.4,663.8L37.0,650.1L44.8,642.1Z" fill="#555555"/>
<path d="M44.1,627.1L41.0,627.3L33.9,635.9L34.0,638.5L37.0,650.1L44.8,642.1Z" fill="#676767"/>
<path d="M65.7,648.8L266.2,758.7L38.4,991.1L13.1,960.2L37.7,691.0L53.7,660.6Z" fill="#555555"/>
<path d="M11.9,632.2L9.5,628.4L12.9,623.5L21.5,632.1Z" fill="#5e5e5e"/>
<path d="M9.5,628.4L12.9,623.5L13.1,621.6L-6.1,607.9L-202.5,518.1L-320.1,629.9L-262.3,682.9L5.5,630.0Z" fill="#707070"/>
<path d="M22.1,616.0L13.1,621.6L-6.1,607.9L24.6,610.6Z" fill="#707070"/>
<path d="M48.0,616.7L31.1,603.9L30.8,603.6L37.4,542.1L54.5,609.6Z" fill="#555555"/>
<path d="M24.6,610.6L30.8,603.6L37.4,542.1L39.4,269.8L38.4,268.6L-202.5,518.1L-6.1,607.9Z" fill="#555555"/>
<path d="M56.9,626.5L58.8,611.9L59.4,611.8L67.1,613.4L67.5,616.2L61.1,626.0L57.5,626.8Z" fill="#5e5e5e"/>
<path d="M9.2,636.5L5.5,630.0L-262.3,682.9L-195.1,747.3L4.5,645.8Z" fill="#797979"/>
<path d="M50.8,626.2L56.9,626.5L57.5,626.8L60.3,639.2L55.8,642.0L50.6,639.9Z" fill="#5e5e5e"/>
<rect x="1.2" y="604.4" width="74.4" height="51.0" filter="url(#tx1)" opacity="0.60"/>
<rect x="1.2" y="604.4" width="74.4" height="51.0" filter="url(#tx2)" opacity="0.75"/>
<path d="M42.5,648.9Q45.7,644.4 46.1,639.0M55.1,610.2Q59.9,608.8 66.5,609.4M24.2,619.1Q26.6,617.8 30.6,614.7M8.8,620.0Q11.3,617.0 13.7,615.7M37.9,621.6Q41.6,619.6 42.9,617.3M25.2,635.1Q31.6,632.4 37.9,630.4M17.1,628.5Q21.1,624.4 22.8,622.6M29.1,649.1Q28.9,640.9 28.9,635.7M36.5,630.3Q41.0,626.6 48.3,624.7M13.8,646.4Q17.3,643.9 19.6,640.3M1.8,629.2Q6.2,628.9 11.4,626.8M57.1,609.8Q58.9,611.7 61.7,614.7M27.8,628.7Q34.9,626.7 41.3,626.4M40.1,620.7Q41.7,617.4 45.6,611.6M22.9,650.4Q26.6,648.4 28.3,644.5M51.3,632.0Q53.6,632.4 57.5,635.7M62.4,614.0Q66.8,613.8 70.5,615.6M7.8,650.8Q8.9,648.1 12.9,644.2M66.1,629.0Q69.5,632.3 74.4,636.1M48.1,635.4Q55.5,637.4 60.2,639.3M64.0,617.8Q69.7,614.1 75.5,610.8M60.7,629.0Q63.8,628.7 67.1,629.7M43.2,640.3Q49.5,645.0 53.9,647.9M26.6,654.5Q32.1,650.1 35.7,645.5M44.5,614.0Q47.6,616.3 50.7,615.8M39.5,647.6Q44.7,642.2 47.1,638.3" fill="none" stroke="#8c8c8c" stroke-width="1.5" stroke-linecap="round" opacity="0.45"/>
<path d="M12.7,625.4L17.9,623.3L21.1,621.2L25.3,623.3L23.2,628.5L21.1,631.7L15.8,633.8L10.6,637.0L7.4,634.8L9.5,630.6Z" fill="#e2292b" stroke="#1c1c3a" stroke-width="0.6" stroke-opacity="0.7"/>
<path d="M51.5,625.4L55.7,621.2L62.0,621.2L64.1,625.4L62.0,630.6L55.7,631.7L51.5,629.6Z" fill="#e2292b" stroke="#1c1c3a" stroke-width="0.6" stroke-opacity="0.7"/>
<path d="M26.3,648.5L33.7,643.3L42.1,639.1L49.4,637.0L51.5,640.1L47.3,643.3L38.9,647.4L31.6,651.7L27.4,651.7Z" fill="#e2292b" stroke="#1c1c3a" stroke-width="0.6" stroke-opacity="0.7"/>
<path d="M23.2,611.7L27.4,610.6L28.4,614.9L24.2,615.9Z" fill="#8f2f38" stroke="#1c1c3a" stroke-width="0.6" stroke-opacity="0.7"/>
<path d="M69.4,631.7L72.5,633.8L72.5,639.1L69.4,638.0Z" fill="#8f2f38" stroke="#1c1c3a" stroke-width="0.6" stroke-opacity="0.7"/>
<path d="M-6.1,607.9Q3.5,615.8 13.1,621.6M-6.1,607.9Q8.8,609.7 24.6,610.6M13.1,621.6Q17.4,618.0 22.1,616.0M24.6,610.6Q22.6,613.0 22.1,616.0M30.8,603.6Q33.0,573.7 37.4,542.1M30.8,603.6Q27.4,606.4 24.6,610.6M26.5,625.6Q25.0,619.6 22.1,616.0M30.8,603.6Q31.6,603.6 31.1,603.9M26.5,625.6Q30.7,624.4 37.0,623.6M37.0,623.6Q35.2,612.7 31.1,603.9M-262.3,682.9Q-128.9,655.7 5.5,630.0M12.9,623.5Q11.4,625.2 9.5,628.4M12.9,623.5Q13.9,622.2 13.1,621.6M5.5,630.0Q8.6,628.3 9.5,628.4M25.4,630.3Q22.9,630.1 21.7,632.2M25.4,630.3Q24.8,627.2 26.5,625.6M12.9,623.5Q17.4,627.9 21.5,632.1M21.7,632.2Q22.1,631.5 21.5,632.1M9.5,628.4Q10.9,631.5 11.9,632.2M21.5,632.1Q16.3,631.5 11.9,632.2M37.0,623.6Q38.2,626.6 41.0,627.3M25.4,630.3Q30.0,633.1 33.9,635.9M33.9,635.9Q37.4,630.6 41.0,627.3M266.2,758.7Q165.3,704.2 65.7,648.8M53.7,660.6Q59.1,654.7 65.7,648.8M67.1,613.4Q64.2,611.8 59.4,611.8M67.1,613.4Q131.4,523.7 195.9,432.8M59.4,611.8Q111.5,505.8 162.4,398.2M67.5,616.2Q65.3,621.3 61.1,626.0M67.5,616.2Q79.4,624.6 92.6,633.0M61.1,626.0Q72.6,629.3 82.0,634.1M67.1,613.4Q66.8,614.0 67.5,616.2M67.0,641.6Q67.2,644.2 65.7,648.8M67.0,641.6Q73.7,638.1 82.0,634.1M37.4,542.1Q46.5,575.7 54.5,609.6M59.4,611.8Q59.7,612.4 58.8,611.9M54.5,609.6Q56.4,609.7 58.8,611.9M31.1,603.9Q40.0,610.6 48.0,616.7M54.5,609.6Q52.3,613.6 48.0,616.7M33.9,635.9Q32.9,636.5 34.0,638.5M21.7,632.2Q20.1,636.0 19.4,638.8M19.4,638.8Q26.2,638.1 34.0,638.5M67.0,641.6Q62.9,639.8 60.3,639.2M53.7,660.6Q54.7,651.8 55.8,642.0M60.3,639.2Q58.9,639.6 55.8,642.0M61.1,626.0Q59.4,627.5 57.5,626.8M60.3,639.2Q58.7,632.1 57.5,626.8M58.8,611.9Q58.2,620.0 56.9,626.5M57.5,626.8Q56.1,625.7 56.9,626.5M17.9,641.8Q17.5,640.9 18.1,640.8M17.9,641.8Q10.3,642.8 4.5,645.8M18.1,640.8Q15.2,639.0 12.6,635.0M12.6,635.0Q11.0,635.2 9.2,636.5M4.5,645.8Q7.9,640.6 9.2,636.5M34.0,638.5Q34.6,643.4 37.0,650.1M34.4,663.8Q34.6,658.0 37.0,650.1M19.4,638.8Q18.8,641.0 18.1,640.8M34.4,663.8Q26.3,651.8 17.9,641.8M-195.1,747.3Q-95.6,696.2 4.5,645.8M11.9,632.2Q11.4,632.6 12.6,635.0M5.5,630.0Q7.8,634.2 9.2,636.5M44.8,642.1Q45.5,634.0 44.1,627.1M44.8,642.1Q48.0,640.4 50.6,639.9M50.6,639.9Q51.5,634.0 50.8,626.2M44.1,627.1Q45.4,625.5 49.0,625.5M49.0,625.5Q50.8,627.0 50.8,626.2M37.0,650.1Q41.7,645.1 44.8,642.1M41.0,627.3Q42.8,627.8 44.1,627.1M55.8,642.0Q53.4,641.0 50.6,639.9M56.9,626.5Q54.5,625.3 50.8,626.2M48.0,616.7Q48.7,622.2 49.0,625.5" fill="none" stroke="#1e1e1e" stroke-width="0.8"/>
</g>
<use href="#bo4" fill="none" stroke="#1b1b1b" stroke-width="1.3"/>
<clipPath id="bc5"><path id="bo5" d="M82.2,634.9L82.5,632.7L83.1,630.2L84.0,627.5L85.1,625.0L86.7,622.7L88.5,620.4L90.6,618.3L92.8,616.3L95.1,614.6L97.6,613.0L100.2,611.6L102.9,610.3L105.9,609.1L109.1,608.0L112.3,607.2L115.6,606.6L118.8,606.3L122.1,606.2L125.3,606.3L128.3,606.6L131.1,606.9L133.6,607.4L136.0,608.1L138.4,609.0L140.8,610.3L143.2,611.8L145.4,613.4L147.3,615.2L148.9,616.9L150.2,618.6L151.4,620.5L152.4,622.6L153.4,625.0L154.3,627.6L155.0,630.2L155.4,632.5L155.4,634.6L155.1,636.4L154.5,638.2L153.6,639.9L152.2,641.6L150.5,643.2L148.4,644.7L146.0,646.1L143.2,647.5L139.9,648.8L136.5,650.0L133.4,651.1L130.7,652.1L128.2,653.1L125.7,653.9L123.3,654.3L120.7,654.2L118.2,653.8L115.6,653.1L113.0,652.4L110.5,651.6L108.0,650.7L105.5,649.7L102.8,648.6L99.6,647.4L96.1,646.2L92.8,644.9L90.0,643.7L87.9,642.7L86.3,641.8L85.0,640.9L83.9,639.9L83.0,638.9L82.5,637.8L82.2,636.5Z"/></clipPath>
<g clip-path="url(#bc5)">
<rect x="81.2" y="604.9" width="75.2" height="50.5" fill="#585858"/>
<path d="M142.8,632.6L134.2,630.9L132.4,626.8L132.9,624.3L138.6,614.9L157.5,624.8L146.4,631.8Z" fill="#5e5e5e"/>
<path d="M141.4,663.2L143.5,648.1L135.6,646.0L125.9,665.2L98.7,857.8L135.1,697.6Z" fill="#5e5e5e"/>
<path d="M104.1,635.4L108.6,649.7L4.3,856.3L101.8,634.3Z" fill="#555555"/>
<path d="M110.7,597.7L106.6,617.3L99.2,612.2L104.3,581.7Z" fill="#797979"/>
<path d="M104.1,635.4L113.3,638.2L112.3,644.9L108.6,649.7Z" fill="#5e5e5e"/>
<path d="M101.8,634.3L100.6,630.8L-187.7,673.1L2.6,860.0L4.3,856.3Z" fill="#676767"/>
<path d="M110.7,597.7L116.2,610.0L113.8,617.7L109.5,620.1L106.6,617.3Z" fill="#838383"/>
<path d="M106.1,625.8L116.5,629.8L121.9,626.4L113.8,617.7L109.5,620.1Z" fill="#707070"/>
<path d="M108.6,649.7L112.3,644.9L121.0,647.6L122.2,648.3L125.9,665.2L98.7,857.8L83.6,948.3L2.6,860.0L4.3,856.3Z" fill="#707070"/>
<path d="M138.6,614.9L157.5,624.8L402.7,559.9L229.7,389.8L142.6,598.8Z" fill="#797979"/>
<path d="M146.4,631.8L157.5,624.8L402.7,559.9L479.6,630.1L428.1,678.8L153.2,638.5Z" fill="#797979"/>
<path d="M148.1,643.9L147.5,644.1L146.8,647.0L148.3,648.4L149.7,649.5L291.3,685.1L173.4,649.7Z" fill="#5e5e5e"/>
<path d="M132.9,624.3L132.4,626.8L121.9,626.4L113.8,617.7L116.2,610.0L121.8,612.0Z" fill="#838383"/>
<path d="M149.7,649.5L291.3,685.1L393.4,712.2L118.8,991.5L83.6,948.3L98.7,857.8L135.1,697.6Z" fill="#555555"/>
<path d="M132.9,624.3L138.6,614.9L142.6,598.8L121.8,612.0Z" fill="#555555"/>
<path d="M133.1,633.8L134.2,630.9L142.8,632.6L147.5,644.1L146.8,647.0L143.5,648.1L135.6,646.0Z" fill="#838383"/>
<path d="M148.3,648.4L141.4,663.2L135.1,697.6L149.7,649.5Z" fill="#838383"/>
<path d="M151.1,642.3L153.2,638.5L428.1,678.8L393.4,712.2L291.3,685.1L173.4,649.7Z" fill="#555555"/>
<path d="M104.1,635.4L113.3,638.2L113.9,637.9L116.5,629.8L106.1,625.8L101.2,628.6L100.6,630.8L101.8,634.3Z" fill="#676767"/>
<path d="M115.1,638.2L125.4,639.2L122.2,648.3L121.0,647.6Z" fill="#797979"/>
<path d="M125.4,639.2L122.2,648.3L125.9,665.2L135.6,646.0L133.1,633.8Z" fill="#676767"/>
<path d="M115.1,638.2L125.4,639.2L133.1,633.8L134.2,630.9L132.4,626.8L121.9,626.4L116.5,629.8L113.9,637.9Z" fill="#676767"/>
<path d="M148.1,643.9L173.4,649.7L151.1,642.3Z" fill="#838383"/>
<path d="M148.1,643.9L147.5,644.1L142.8,632.6L146.4,631.8L153.2,638.5L151.1,642.3Z" fill="#5e5e5e"/>
<path d="M95.1,618.8L-217.1,614.5L-233.3,630.1L-187.7,673.1L100.6,630.8L101.2,628.6Z" fill="#838383"/>
<path d="M106.6,617.3L109.5,620.1L106.1,625.8L101.2,628.6L95.1,618.8L99.2,612.2Z" fill="#676767"/>
<path d="M104.3,581.7L68.5,325.2L-217.1,614.5L95.1,618.8L99.2,612.2Z" fill="#707070"/>
<path d="M115.1,638.2L121.0,647.6L112.3,644.9L113.3,638.2L113.9,637.9Z" fill="#676767"/>
<path d="M148.3,648.4L146.8,647.0L143.5,648.1L141.4,663.2Z" fill="#555555"/>
<path d="M110.7,597.7L116.2,610.0L121.8,612.0L142.6,598.8L229.7,389.8L118.8,267.9L68.5,325.2L104.3,581.7Z" fill="#555555"/>
<rect x="81.2" y="604.9" width="75.2" height="50.5" filter="url(#tx1)" opacity="0.42"/>
<rect x="81.2" y="604.9" width="75.2" height="50.5" filter="url(#tx2)" opacity="0.75"/>
<path d="M143.1,627.7Q145.6,629.2 149.7,633.3M142.2,616.7Q143.5,620.3 145.6,622.8M145.1,619.3Q151.5,619.2 158.0,618.1M136.2,632.7Q139.6,631.3 145.9,632.0M125.5,641.5Q132.5,643.0 137.4,642.2M130.9,637.2Q134.9,636.8 139.7,638.3M124.4,622.8Q127.0,623.4 132.1,625.4M130.5,645.5Q135.7,645.1 143.7,643.7M118.7,625.4Q123.9,624.4 127.1,623.7M115.0,634.4Q115.4,630.9 118.7,625.4M103.1,630.7Q104.4,627.9 108.5,626.9M139.6,634.4Q142.5,638.4 147.9,642.7M129.8,641.2Q135.7,642.4 138.9,641.2M121.1,623.3Q126.5,624.5 131.5,626.1M138.3,629.1Q140.8,633.6 145.8,638.0M145.8,633.6Q150.2,636.9 154.8,640.6M145.8,621.7Q151.3,622.2 155.9,621.5M146.6,619.9Q149.9,620.4 154.0,621.8M146.4,623.2Q145.9,618.3 145.6,614.0M101.8,626.7Q105.7,622.0 112.5,619.9M134.4,641.8Q138.3,640.1 143.7,638.8M105.8,637.3Q109.6,633.4 112.8,632.1M147.6,611.3Q152.4,610.2 154.4,609.4M95.5,626.4Q98.2,625.1 100.7,620.9M143.3,619.2Q148.3,618.1 155.4,619.7M93.7,651.3Q92.5,647.9 94.0,644.8" fill="none" stroke="#8c8c8c" stroke-width="1.5" stroke-linecap="round" opacity="0.34"/>
<path d="M96.0,617.3L102.3,615.3L107.7,617.3L110.8,622.5L108.7,628.8L104.5,631.9L99.2,629.9L96.0,624.6Z" fill="#e2292b" stroke="#1c1c3a" stroke-width="0.6" stroke-opacity="0.7"/>
<path d="M86.4,626.7L90.7,625.7L94.9,631.9L100.2,636.1L103.4,639.2L103.4,645.4L98.1,646.5L92.8,643.4L88.6,639.2L85.3,634.0Z" fill="#e2292b" stroke="#1c1c3a" stroke-width="0.6" stroke-opacity="0.7"/>
<path d="M142.6,598.8Q139.5,606.1 138.6,614.9M142.6,598.8Q133.3,604.6 121.8,612.0M138.6,614.9Q136.4,620.5 132.9,624.3M121.8,612.0Q127.2,618.0 132.9,624.3M157.5,624.8Q147.3,619.5 138.6,614.9M132.4,626.8Q132.7,625.8 132.9,624.3M132.4,626.8Q127.2,626.3 121.9,626.4M116.2,610.0Q115.9,613.8 113.8,617.7M121.9,626.4Q117.6,622.0 113.8,617.7M116.2,610.0Q119.8,611.2 121.8,612.0M116.5,629.8Q111.9,628.6 106.1,625.8M116.5,629.8Q118.8,628.6 121.9,626.4M113.8,617.7Q110.7,618.9 109.5,620.1M109.5,620.1Q107.7,622.7 106.1,625.8M100.6,630.8Q100.1,630.4 101.2,628.6M100.6,630.8Q-43.9,651.7 -187.7,673.1M-217.1,614.5Q-61.9,617.5 95.1,618.8M101.2,628.6Q99.0,622.9 95.1,618.8M428.1,678.8Q290.4,658.1 153.2,638.5M157.5,624.8Q151.2,629.1 146.4,631.8M153.2,638.5Q150.1,636.1 146.4,631.8M134.2,630.9Q133.7,628.5 132.4,626.8M134.2,630.9Q139.2,630.8 142.8,632.6M146.4,631.8Q144.8,632.2 142.8,632.6M99.2,612.2Q101.9,614.2 106.6,617.3M99.2,612.2Q101.8,596.1 104.3,581.7M106.6,617.3Q107.7,607.7 110.7,597.7M109.5,620.1Q109.2,618.9 106.6,617.3M101.2,628.6Q104.9,627.1 106.1,625.8M95.1,618.8Q96.2,614.7 99.2,612.2M116.2,610.0Q113.4,604.7 110.7,597.7M135.6,646.0Q135.1,641.1 133.1,633.8M135.6,646.0Q130.9,656.2 125.9,665.2M125.9,665.2Q124.2,655.9 122.2,648.3M122.2,648.3Q123.9,643.2 125.4,639.2M133.1,633.8Q130.0,637.3 125.4,639.2M142.8,632.6Q144.5,637.5 147.5,644.1M146.8,647.0Q146.6,644.4 147.5,644.1M143.5,648.1Q144.4,648.7 146.8,647.0M143.5,648.1Q140.5,646.9 135.6,646.0M134.2,630.9Q134.5,631.6 133.1,633.8M135.1,697.6Q143.6,673.7 149.7,649.5M141.4,663.2Q145.1,655.3 148.3,648.4M149.7,649.5Q147.8,649.1 148.3,648.4M143.5,648.1Q142.7,656.2 141.4,663.2M291.3,685.1Q221.2,668.3 149.7,649.5M146.8,647.0Q146.4,648.2 148.3,648.4M173.4,649.7Q159.7,647.6 148.1,643.9M173.4,649.7Q162.3,644.8 151.1,642.3M151.1,642.3Q149.3,643.9 148.1,643.9M147.5,644.1Q148.7,645.0 148.1,643.9M153.2,638.5Q152.2,640.8 151.1,642.3M121.0,647.6Q118.5,642.9 115.1,638.2M121.0,647.6Q117.3,645.4 112.3,644.9M112.3,644.9Q112.2,641.8 113.3,638.2M113.3,638.2Q114.2,639.2 113.9,637.9M113.9,637.9Q113.5,639.3 115.1,638.2M125.4,639.2Q119.8,638.4 115.1,638.2M122.2,648.3Q122.1,649.1 121.0,647.6M116.5,629.8Q114.5,633.6 113.9,637.9M4.3,856.3Q57.4,753.8 108.6,649.7M4.3,856.3Q52.8,744.7 101.8,634.3M108.6,649.7Q107.0,641.8 104.1,635.4M101.8,634.3Q102.6,633.7 104.1,635.4M112.3,644.9Q109.7,647.2 108.6,649.7M100.6,630.8Q101.2,633.2 101.8,634.3M113.3,638.2Q109.0,636.2 104.1,635.4" fill="none" stroke="#1e1e1e" stroke-width="0.8"/>
<path d="M105.6,630.1L107.7,628.2L110.5,626.1L113.7,624.6L117.1,623.9L120.9,623.7L124.7,623.8L128.5,624.2L132.3,624.9L135.6,625.8L138.3,627.0L140.5,628.4L142.2,630.1L143.6,632.4L144.6,634.9L144.8,637.4L144.2,639.7L142.8,641.9L140.8,644.2L137.9,646.7L134.4,649.3L130.5,651.5L126.2,653.4L121.5,654.8L117.3,655.4L113.9,654.6L110.9,652.8L108.6,650.5L106.8,647.5L105.7,643.9L104.9,640.8L104.3,638.6L104.1,636.7L104.2,635.0L104.2,633.3L104.6,631.8Z" fill="#383838" fill-opacity="0.72" stroke="#1f1f1f" stroke-width="0.9"/>
<path d="M111.4,639.7A10.1,5.3 0 0 1 131.7,639.7M111.4,643.6A15.8,8.4 0 0 1 143.1,643.6M116.0,644.1A8.8,8.1 0 0 1 133.6,644.1M109.5,644.6A12.0,7.5 0 0 1 133.5,644.6M109.3,643.2A13.3,7.1 0 0 1 135.8,643.2" fill="none" stroke="#575757" stroke-width="1.1" stroke-opacity="0.5"/>
</g>
<use href="#bo5" fill="none" stroke="#1b1b1b" stroke-width="1.3"/>
<clipPath id="bc6"><path id="bo6" d="M163.4,633.1L163.8,630.4L164.8,627.5L166.1,624.6L167.6,622.0L169.4,619.6L171.5,617.4L173.8,615.3L176.4,613.5L179.3,611.7L182.5,610.2L185.9,608.8L189.1,607.7L192.3,607.0L195.5,606.5L198.6,606.2L201.8,606.1L205.0,606.0L208.3,606.1L211.5,606.3L214.5,606.8L217.2,607.5L219.8,608.4L222.3,609.5L224.6,610.9L226.7,612.7L228.8,614.8L230.6,617.1L232.2,619.6L233.5,622.2L234.7,625.1L235.6,628.0L236.0,630.6L236.0,633.0L235.5,635.3L234.7,637.3L233.5,639.3L231.8,641.0L229.7,642.6L227.2,644.0L224.6,645.4L221.7,646.6L218.5,647.6L215.2,648.6L212.0,649.5L208.8,650.6L205.6,651.7L202.4,652.6L199.2,653.2L196.0,653.5L192.7,653.5L189.6,653.3L186.6,652.8L183.8,651.9L181.3,650.7L178.9,649.3L176.4,647.9L173.7,646.5L170.9,645.0L168.3,643.4L166.3,641.7L164.9,639.8L163.9,637.7L163.4,635.4Z"/></clipPath>
<g clip-path="url(#bc6)">
<rect x="162.0" y="604.9" width="75.2" height="50.5" fill="#585858"/>
<path d="M216.0,643.5L231.3,666.4L307.8,873.4L223.5,962.2L198.5,681.1Z" fill="#666666"/>
<path d="M139.2,927.9L-160.1,630.1L-120.0,595.1L160.3,636.3L170.5,652.0Z" fill="#4d4d4d"/>
<path d="M226.5,611.9L408.9,487.6L219.3,291.5L209.8,580.1L220.6,611.4Z" fill="#5a5a5a"/>
<path d="M215.9,643.2L220.9,633.1L226.3,637.8L231.3,666.4L216.0,643.5Z" fill="#666666"/>
<path d="M198.5,681.1L223.5,962.2L199.6,990.8L139.2,927.9L170.5,652.0L178.2,647.5L190.5,647.0L194.3,650.5Z" fill="#666666"/>
<path d="M194.0,628.5L188.3,635.1L185.2,624.7L188.9,619.6L189.8,619.9Z" fill="#4d4d4d"/>
<path d="M215.9,643.2L220.9,633.1L220.4,631.5L219.4,631.1L202.7,636.9L199.2,645.3Z" fill="#4d4d4d"/>
<path d="M215.0,615.4L215.2,615.2L218.3,615.0L223.8,620.8L225.3,625.9L220.4,631.5L219.4,631.1L212.5,624.6Z" fill="#666666"/>
<path d="M199.0,618.9L203.5,617.8L204.8,614.6L204.9,603.8L195.9,610.7L197.3,618.6Z" fill="#606060"/>
<path d="M188.3,635.1L187.1,639.9L173.0,632.2L175.2,627.4L185.2,624.7Z" fill="#606060"/>
<path d="M175.1,625.7L175.2,627.4L173.0,632.2L164.9,635.5L160.3,636.3L-120.0,595.1L-11.6,490.7L165.4,615.4Z" fill="#666666"/>
<path d="M223.8,620.8L218.3,615.0L220.6,611.4L226.5,611.9Z" fill="#535353"/>
<path d="M195.9,610.7L183.1,609.2L97.0,381.9L199.6,269.1L219.3,291.5L209.8,580.1L208.1,593.2L204.9,603.8Z" fill="#666666"/>
<path d="M218.3,615.0L215.2,615.2L208.1,593.2L209.8,580.1L220.6,611.4Z" fill="#4d4d4d"/>
<path d="M190.5,647.0L187.1,639.9L173.0,632.2L164.9,635.5L178.2,647.5Z" fill="#535353"/>
<path d="M194.0,628.5L188.3,635.1L187.1,639.9L190.5,647.0L194.3,650.5L199.2,645.3L202.7,636.9L201.4,631.1L198.5,628.9Z" fill="#4d4d4d"/>
<path d="M207.8,623.4L201.4,631.1L202.7,636.9L219.4,631.1L212.5,624.6Z" fill="#606060"/>
<path d="M189.8,619.9L188.9,619.6L183.3,610.6L183.1,609.2L195.9,610.7L197.3,618.6Z" fill="#4d4d4d"/>
<path d="M177.3,618.5L183.3,610.6L183.1,609.2L97.0,381.9L-11.6,490.7L165.4,615.4Z" fill="#5a5a5a"/>
<path d="M185.2,624.7L175.2,627.4L175.1,625.7L177.3,618.5L183.3,610.6L188.9,619.6Z" fill="#535353"/>
<path d="M223.8,620.8L225.3,625.9L477.8,555.9L408.9,487.6L226.5,611.9Z" fill="#5a5a5a"/>
<path d="M177.3,618.5L165.4,615.4L175.1,625.7Z" fill="#535353"/>
<path d="M170.5,652.0L160.3,636.3L164.9,635.5L178.2,647.5Z" fill="#535353"/>
<path d="M231.3,666.4L307.8,873.4L549.2,638.2L226.3,637.8Z" fill="#4d4d4d"/>
<path d="M220.4,631.5L225.3,625.9L477.8,555.9L557.8,630.1L549.2,638.2L226.3,637.8L220.9,633.1Z" fill="#4d4d4d"/>
<path d="M194.0,628.5L189.8,619.9L197.3,618.6L199.0,618.9L198.5,628.9Z" fill="#666666"/>
<path d="M203.5,617.8L207.8,623.4L212.5,624.6L215.0,615.4L204.8,614.6Z" fill="#5a5a5a"/>
<path d="M198.5,628.9L201.4,631.1L207.8,623.4L203.5,617.8L199.0,618.9Z" fill="#5a5a5a"/>
<path d="M215.9,643.2L199.2,645.3L194.3,650.5L198.5,681.1L216.0,643.5Z" fill="#4d4d4d"/>
<path d="M204.8,614.6L204.9,603.8L208.1,593.2L215.2,615.2L215.0,615.4Z" fill="#5a5a5a"/>
<rect x="162.0" y="604.9" width="75.2" height="50.5" filter="url(#tx1)" opacity="0.27"/>
<rect x="162.0" y="604.9" width="75.2" height="50.5" filter="url(#tx2)" opacity="0.75"/>
<path d="M216.1,610.4Q221.3,609.3 224.4,609.3M163.4,623.4Q165.4,618.3 170.2,614.3M196.8,642.1Q202.7,636.5 206.3,633.1M226.8,612.1Q232.2,612.5 234.8,610.3M169.9,646.5Q175.2,643.8 179.0,642.0M225.3,642.9Q230.4,642.4 235.0,642.9M185.9,649.3Q191.4,647.6 194.5,645.9M172.2,637.2Q175.7,632.6 180.8,626.9M211.7,648.3Q217.3,650.7 224.7,651.8M184.4,615.1Q183.1,611.5 183.9,607.8M194.4,631.0Q197.2,629.1 199.3,626.0M200.9,653.3Q205.2,648.9 209.6,646.9M200.0,629.8Q204.3,627.1 211.5,623.5M185.0,639.2Q182.2,634.1 182.0,630.3M195.4,616.5Q200.8,610.6 203.2,606.1M199.7,633.4Q202.7,628.5 204.2,624.8M221.8,640.6Q227.2,641.3 232.1,645.0M204.6,635.1Q208.8,634.6 212.9,632.0M169.0,623.5Q171.4,618.0 171.3,615.3M165.6,650.9Q167.5,647.1 170.4,641.2M199.4,637.0Q205.0,636.3 211.0,634.5M174.3,619.5Q177.9,615.3 180.0,612.0M218.2,645.1Q219.6,643.3 223.4,640.5M180.3,634.9Q183.6,633.2 185.2,629.4M223.5,610.8Q224.7,616.2 228.4,621.1M192.6,642.4Q195.0,638.9 195.0,635.2" fill="none" stroke="#8c8c8c" stroke-width="1.5" stroke-linecap="round" opacity="0.26"/>
<path d="M207.6,620.4L213.9,616.3L220.3,616.3L222.4,621.5L219.2,627.7L212.8,630.9L208.6,626.7Z" fill="#e2292b" stroke="#1c1c3a" stroke-width="0.6" stroke-opacity="0.7"/>
<path d="M549.2,638.2Q387.1,636.8 226.3,637.8M226.3,637.8Q228.7,651.2 231.3,666.4M97.0,381.9Q140.0,496.3 183.1,609.2M183.1,609.2Q188.9,611.0 195.9,610.7M204.9,603.8Q200.3,608.0 195.9,610.7M160.3,636.3Q162.1,636.9 164.9,635.5M160.3,636.3Q165.7,643.1 170.5,652.0M164.9,635.5Q172.1,642.6 178.2,647.5M178.2,647.5Q174.9,648.9 170.5,652.0M187.1,639.9Q179.9,636.5 173.0,632.2M173.0,632.2Q167.8,634.9 164.9,635.5M187.1,639.9Q188.0,643.0 190.5,647.0M178.2,647.5Q184.4,647.4 190.5,647.0M170.5,652.0Q155.7,790.7 139.2,927.9M477.8,555.9Q350.6,590.8 225.3,625.9M225.3,625.9Q221.8,628.7 220.4,631.5M226.3,637.8Q223.3,634.7 220.9,633.1M220.9,633.1Q221.3,632.8 220.4,631.5M165.4,615.4Q170.5,616.8 177.3,618.5M165.4,615.4Q170.6,620.1 175.1,625.7M175.1,625.7Q175.6,623.2 177.3,618.5M-11.6,490.7Q76.5,552.8 165.4,615.4M183.1,609.2Q183.3,610.4 183.3,610.6M183.3,610.6Q181.2,614.5 177.3,618.5M173.0,632.2Q174.0,630.5 175.2,627.4M175.2,627.4Q174.0,627.6 175.1,625.7M175.2,627.4Q181.1,626.5 185.2,624.7M183.3,610.6Q185.0,615.7 188.9,619.6M188.9,619.6Q186.7,621.6 185.2,624.7M187.1,639.9Q187.9,638.3 188.3,635.1M185.2,624.7Q186.2,630.3 188.3,635.1M194.3,650.5Q197.0,665.1 198.5,681.1M194.3,650.5Q196.8,647.8 199.2,645.3M198.5,681.1Q207.9,663.3 216.0,643.5M199.2,645.3Q207.4,643.7 215.9,643.2M216.0,643.5Q216.7,644.1 215.9,643.2M190.5,647.0Q191.8,647.7 194.3,650.5M231.3,666.4Q224.7,654.7 216.0,643.5M220.4,631.5Q220.5,630.6 219.4,631.1M202.7,636.9Q211.5,632.9 219.4,631.1M202.7,636.9Q200.3,642.0 199.2,645.3M220.9,633.1Q218.1,638.1 215.9,643.2M220.6,611.4Q218.7,613.4 218.3,615.0M220.6,611.4Q223.4,612.2 226.5,611.9M218.3,615.0Q221.1,617.9 223.8,620.8M226.5,611.9Q225.8,615.3 223.8,620.8M209.8,580.1Q214.9,595.1 220.6,611.4M208.1,593.2Q210.8,604.9 215.2,615.2M215.2,615.2Q216.1,614.6 218.3,615.0M408.9,487.6Q317.3,549.7 226.5,611.9M225.3,625.9Q224.3,623.6 223.8,620.8M212.5,624.6Q212.7,621.1 215.0,615.4M212.5,624.6Q209.1,625.2 207.8,623.4M207.8,623.4Q205.7,620.2 203.5,617.8M215.0,615.4Q209.3,615.6 204.8,614.6M204.8,614.6Q204.3,615.6 203.5,617.8M215.2,615.2Q214.4,615.8 215.0,615.4M219.4,631.1Q216.5,627.1 212.5,624.6M202.7,636.9Q202.3,633.3 201.4,631.1M201.4,631.1Q205.2,626.2 207.8,623.4M204.9,603.8Q204.4,608.9 204.8,614.6M197.3,618.6Q197.7,618.1 199.0,618.9M197.3,618.6Q194.1,618.4 189.8,619.9M199.0,618.9Q198.5,624.0 198.5,628.9M189.8,619.9Q191.0,623.4 194.0,628.5M198.5,628.9Q197.3,627.7 194.0,628.5M195.9,610.7Q197.1,615.2 197.3,618.6M203.5,617.8Q201.3,618.2 199.0,618.9M188.9,619.6Q189.5,620.8 189.8,619.9M201.4,631.1Q200.7,629.8 198.5,628.9M188.3,635.1Q192.3,632.6 194.0,628.5" fill="none" stroke="#1e1e1e" stroke-width="0.8"/>
<path d="M169.6,637.9L170.2,635.2L171.8,632.5L174.0,630.1L176.5,628.2L179.4,626.6L182.8,625.3L186.6,624.4L190.8,624.0L194.8,623.8L198.7,624.1L202.3,624.8L205.5,625.8L208.0,627.2L210.1,629.0L211.7,631.1L212.6,633.8L213.0,636.9L212.8,639.9L212.2,642.5L211.1,645.1L209.1,647.6L206.1,650.6L202.2,653.6L198.1,655.4L193.8,655.2L189.2,653.7L185.0,652.0L181.1,650.3L177.6,648.4L174.7,646.2L172.3,643.6L170.4,640.7Z" fill="#383838" fill-opacity="0.72" stroke="#1f1f1f" stroke-width="0.9"/>
<path d="M183.0,644.3A8.1,7.9 0 0 1 199.1,644.3M182.7,644.2A11.4,4.5 0 0 1 205.5,644.2M183.0,645.5A9.5,8.9 0 0 1 202.0,645.5M176.3,640.4A12.0,7.8 0 0 1 200.3,640.4M177.3,641.3A13.3,6.9 0 0 1 203.9,641.3" fill="none" stroke="#575757" stroke-width="1.1" stroke-opacity="0.5"/>
</g>
<use href="#bo6" fill="none" stroke="#1b1b1b" stroke-width="1.3"/>
<clipPath id="bc7"><path id="bo7" d="M242.5,633.0L242.7,631.0L243.2,628.6L243.9,626.2L244.8,624.0L245.9,622.1L247.1,620.2L248.4,618.5L250.0,616.9L251.7,615.4L253.7,614.1L255.7,612.9L257.9,611.7L259.9,610.7L262.1,609.8L264.4,609.0L267.0,608.3L269.9,607.5L273.3,606.8L276.7,606.2L279.9,605.9L283.0,605.8L286.0,605.9L288.9,606.2L291.6,606.6L294.1,607.1L296.4,607.8L298.6,608.7L300.7,609.9L302.8,611.5L304.9,613.4L306.8,615.5L308.5,617.6L310.0,619.8L311.2,622.1L312.2,624.4L313.1,626.6L313.9,628.6L314.5,630.6L314.9,632.5L315.0,634.3L314.9,636.2L314.5,638.1L314.0,639.9L313.1,641.4L312.0,642.8L310.7,643.9L309.1,645.0L307.2,646.0L305.0,647.0L302.4,648.0L299.7,648.9L296.9,649.8L294.0,650.7L290.9,651.6L287.9,652.3L285.1,653.0L282.6,653.7L280.4,654.4L278.2,654.9L276.0,655.0L273.7,654.6L271.5,653.8L269.2,652.7L267.0,651.7L264.7,650.7L262.4,649.6L260.1,648.4L257.9,647.3L255.5,646.2L253.0,645.0L250.6,643.9L248.7,642.7L247.2,641.6L246.0,640.5L245.0,639.4L244.2,638.3L243.5,637.1L242.9,635.9L242.6,634.6Z"/></clipPath>
<g clip-path="url(#bc7)">
<rect x="241.2" y="604.9" width="74.8" height="51.1" fill="#585858"/>
<path d="M252.5,643.3L264.5,647.9L271.8,635.4L264.9,630.4L262.5,630.5Z" fill="#838383"/>
<path d="M305.8,638.3L316.8,627.3L441.0,595.4L308.5,640.2Z" fill="#555555"/>
<path d="M285.8,615.4L282.8,608.7L272.1,616.2L270.8,618.8L272.7,624.2L282.7,621.9Z" fill="#838383"/>
<path d="M252.5,643.3L264.5,647.9L269.7,661.6L304.0,961.6L278.6,992.4L-71.7,630.4L-67.7,626.9L102.0,632.3L249.5,642.3Z" fill="#797979"/>
<path d="M292.5,616.5L300.5,614.4L301.4,623.5Z" fill="#676767"/>
<path d="M282.4,643.6L277.4,635.6L291.9,638.3L289.7,641.5Z" fill="#676767"/>
<path d="M316.8,627.3L302.8,624.5L421.8,423.8L564.3,563.2L441.0,595.4Z" fill="#555555"/>
<path d="M270.8,618.8L268.9,619.2L258.9,616.3L253.9,601.9L272.1,616.2Z" fill="#5e5e5e"/>
<path d="M282.7,647.1L269.7,661.6L304.0,961.6L334.0,929.1L290.3,650.2L288.7,648.4Z" fill="#707070"/>
<path d="M292.5,616.5L300.5,614.4L409.0,411.1L317.2,315.6L282.8,608.7L285.8,615.4L286.9,616.2Z" fill="#838383"/>
<path d="M272.1,616.2L253.9,601.9L143.4,417.3L278.6,271.6L317.2,315.6L282.8,608.7Z" fill="#838383"/>
<path d="M249.5,642.3L102.0,632.3L254.7,624.6L257.9,630.0Z" fill="#797979"/>
<path d="M258.2,621.6L258.9,616.3L253.9,601.9L143.4,417.3L-67.7,626.9L102.0,632.3L254.7,624.6Z" fill="#797979"/>
<path d="M262.5,630.5L264.9,630.4L263.2,624.5L258.2,621.6L254.7,624.6L257.9,630.0Z" fill="#676767"/>
<path d="M301.4,623.5L300.5,614.4L409.0,411.1L421.8,423.8L302.8,624.5L301.7,624.6Z" fill="#676767"/>
<path d="M286.9,616.2L285.8,615.4L282.7,621.9L282.3,629.6L294.9,629.7Z" fill="#707070"/>
<path d="M263.2,624.5L268.9,619.2L258.9,616.3L258.2,621.6Z" fill="#707070"/>
<path d="M307.8,664.3L301.8,638.9L298.1,637.3L295.5,645.9Z" fill="#838383"/>
<path d="M307.8,664.3L295.5,645.9L290.3,650.2L334.0,929.1L383.2,877.6Z" fill="#838383"/>
<path d="M292.5,616.5L301.4,623.5L301.7,624.6L296.1,630.4L294.9,629.7L286.9,616.2Z" fill="#676767"/>
<path d="M252.5,643.3L262.5,630.5L257.9,630.0L249.5,642.3Z" fill="#838383"/>
<path d="M282.4,643.6L289.7,641.5L288.7,648.4L282.7,647.1Z" fill="#797979"/>
<path d="M307.8,664.3L301.8,638.9L305.8,638.3L308.5,640.2L478.9,782.9L383.2,877.6Z" fill="#797979"/>
<path d="M308.5,640.2L478.9,782.9L638.5,630.4L564.3,563.2L441.0,595.4Z" fill="#5e5e5e"/>
<path d="M289.7,641.5L291.9,638.3L296.9,636.1L298.1,637.3L295.5,645.9L290.3,650.2L288.7,648.4Z" fill="#707070"/>
<path d="M282.4,643.6L277.4,635.6L276.7,635.1L272.3,635.1L271.8,635.4L264.5,647.9L269.7,661.6L282.7,647.1Z" fill="#707070"/>
<path d="M301.7,624.6L302.8,624.5L316.8,627.3L305.8,638.3L301.8,638.9L298.1,637.3L296.9,636.1L296.1,630.4Z" fill="#707070"/>
<path d="M264.9,630.4L263.2,624.5L268.9,619.2L270.8,618.8L272.7,624.2L272.3,635.1L271.8,635.4Z" fill="#5e5e5e"/>
<path d="M294.9,629.7L282.3,629.6L276.7,635.1L277.4,635.6L291.9,638.3L296.9,636.1L296.1,630.4Z" fill="#707070"/>
<path d="M282.7,621.9L272.7,624.2L272.3,635.1L276.7,635.1L282.3,629.6Z" fill="#838383"/>
<rect x="241.2" y="604.9" width="74.8" height="51.1" filter="url(#tx1)" opacity="0.48"/>
<rect x="241.2" y="604.9" width="74.8" height="51.1" filter="url(#tx2)" opacity="0.75"/>
<path d="M270.4,643.3Q273.8,641.5 279.7,641.8M248.6,618.7Q249.9,615.6 251.8,613.7M305.0,610.5Q308.1,616.5 311.1,622.3M264.0,628.0Q266.8,628.2 271.9,625.5M300.0,644.8Q303.3,645.4 305.3,648.6M279.2,618.9Q287.0,616.4 292.3,614.4M300.9,639.4Q305.4,643.7 311.3,647.1M261.0,611.0Q264.7,611.9 270.7,610.9M287.3,619.9Q292.0,621.1 296.2,620.3M304.9,635.0Q310.6,636.6 314.0,637.8M294.9,623.0Q298.2,624.6 303.1,627.0M283.1,649.8Q286.5,648.9 289.4,649.7M299.0,636.0Q298.9,642.2 300.2,647.1M274.3,624.3Q276.9,621.0 277.1,618.0M250.8,623.5Q254.9,618.7 259.3,615.0M263.6,625.1Q267.5,620.2 270.9,618.0M270.8,651.3Q272.6,646.3 275.5,643.4M265.4,618.0Q264.6,616.3 266.0,611.7M304.2,611.5Q308.9,610.9 313.0,611.9M271.2,620.6Q274.0,616.8 278.9,614.1M273.9,626.2Q274.0,620.6 272.0,616.9M285.8,643.5Q293.0,644.7 299.0,646.9M288.1,637.8Q289.6,635.8 294.1,635.7M302.7,608.4Q306.8,611.8 309.3,613.0M270.2,633.3Q272.4,632.2 276.0,629.7M265.9,637.4Q268.3,635.8 268.8,631.4" fill="none" stroke="#8c8c8c" stroke-width="1.5" stroke-linecap="round" opacity="0.38"/>
<path d="M253.8,623.8L258.0,621.7L263.3,623.8L264.3,629.1L261.2,632.2L255.9,631.2L252.8,628.0Z" fill="#e2292b" stroke="#1c1c3a" stroke-width="0.6" stroke-opacity="0.7"/>
<path d="M260.1,641.7L264.3,640.7L268.6,643.9L270.7,649.1L266.4,650.1L262.2,647.0Z" fill="#e2292b" stroke="#1c1c3a" stroke-width="0.6" stroke-opacity="0.7"/>
<path d="M278.6,992.4Q104.4,810.6 -71.7,630.4M253.9,601.9Q257.5,610.0 258.9,616.3M258.9,616.3Q257.9,618.7 258.2,621.6M102.0,632.3Q177.5,628.1 254.7,624.6M254.7,624.6Q257.1,622.1 258.2,621.6M258.9,616.3Q264.3,618.4 268.9,619.2M268.9,619.2Q265.0,621.0 263.2,624.5M258.2,621.6Q261.4,623.8 263.2,624.5M317.2,315.6Q299.5,463.1 282.8,608.7M253.9,601.9Q263.3,607.9 272.1,616.2M282.8,608.7Q278.0,611.7 272.1,616.2M268.9,619.2Q269.5,619.8 270.8,618.8M272.1,616.2Q270.3,618.3 270.8,618.8M441.0,595.4Q378.6,611.6 316.8,627.3M441.0,595.4Q374.2,618.0 308.5,640.2M316.8,627.3Q310.6,633.0 305.8,638.3M308.5,640.2Q307.0,639.5 305.8,638.3M421.8,423.8Q361.1,524.7 302.8,624.5M302.8,624.5Q309.2,626.7 316.8,627.3M478.9,782.9Q393.6,711.9 308.5,640.2M272.7,624.2Q271.6,620.6 270.8,618.8M272.3,635.1Q273.2,635.8 271.8,635.4M272.3,635.1Q273.7,630.1 272.7,624.2M263.2,624.5Q263.8,627.2 264.9,630.4M271.8,635.4Q269.0,633.7 264.9,630.4M272.3,635.1Q275.2,634.4 276.7,635.1M272.7,624.2Q277.2,622.8 282.7,621.9M276.7,635.1Q278.4,631.6 282.3,629.6M282.3,629.6Q282.2,624.9 282.7,621.9M282.8,608.7Q283.6,612.2 285.8,615.4M282.7,621.9Q284.7,618.2 285.8,615.4M257.9,630.0Q261.0,629.1 262.5,630.5M257.9,630.0Q252.6,635.4 249.5,642.3M262.5,630.5Q258.2,636.2 252.5,643.3M249.5,642.3Q251.6,642.3 252.5,643.3M254.7,624.6Q257.0,627.3 257.9,630.0M264.9,630.4Q263.0,631.4 262.5,630.5M102.0,632.3Q176.9,638.3 249.5,642.3M264.5,647.9Q258.4,645.8 252.5,643.3M264.5,647.9Q267.6,642.4 271.8,635.4M269.7,661.6Q266.8,654.9 264.5,647.9M296.1,630.4Q295.7,631.1 294.9,629.7M296.1,630.4Q298.8,627.3 301.7,624.6M294.9,629.7Q292.0,622.0 286.9,616.2M301.7,624.6Q300.5,623.6 301.4,623.5M301.4,623.5Q295.8,621.0 292.5,616.5M286.9,616.2Q289.7,617.1 292.5,616.5M277.4,635.6Q283.6,636.8 291.9,638.3M296.9,636.1Q295.1,636.0 291.9,638.3M296.9,636.1Q297.1,634.3 296.1,630.4M276.7,635.1Q277.9,634.5 277.4,635.6M282.3,629.6Q288.6,629.6 294.9,629.7M305.8,638.3Q303.7,639.4 301.8,638.9M302.8,624.5Q301.8,623.8 301.7,624.6M296.9,636.1Q298.5,636.8 298.1,637.3M301.8,638.9Q300.3,638.2 298.1,637.3M285.8,615.4Q286.6,614.9 286.9,616.2M409.0,411.1Q353.8,511.9 300.5,614.4M300.5,614.4Q300.8,617.9 301.4,623.5M300.5,614.4Q297.4,614.6 292.5,616.5M290.3,650.2Q293.7,648.5 295.5,645.9M290.3,650.2Q311.4,789.1 334.0,929.1M295.5,645.9Q302.0,656.2 307.8,664.3M301.8,638.9Q304.5,651.0 307.8,664.3M298.1,637.3Q296.1,642.3 295.5,645.9M288.7,648.4Q288.3,643.9 289.7,641.5M288.7,648.4Q286.1,648.4 282.7,647.1M289.7,641.5Q285.3,642.6 282.4,643.6M282.7,647.1Q281.3,645.1 282.4,643.6M291.9,638.3Q289.6,640.1 289.7,641.5M290.3,650.2Q289.3,649.4 288.7,648.4M269.7,661.6Q277.1,654.1 282.7,647.1M277.4,635.6Q279.2,638.5 282.4,643.6" fill="none" stroke="#1e1e1e" stroke-width="0.8"/>
</g>
<use href="#bo7" fill="none" stroke="#1b1b1b" stroke-width="1.3"/>
<clipPath id="bc8"><path id="bo8" d="M353.3,570.3L353.5,568.3L354.0,566.0L354.7,563.6L355.6,561.4L356.6,559.4L357.8,557.6L359.2,555.9L360.7,554.3L362.4,552.8L364.4,551.5L366.4,550.3L368.5,549.1L370.6,548.1L372.7,547.2L375.0,546.4L377.5,545.7L380.5,544.9L383.8,544.2L387.1,543.6L390.3,543.3L393.4,543.2L396.4,543.3L399.3,543.6L402.0,544.0L404.4,544.5L406.7,545.2L408.9,546.1L411.0,547.3L413.1,548.9L415.1,550.8L417.0,552.8L418.7,555.0L420.1,557.1L421.3,559.4L422.4,561.7L423.2,563.9L424.0,566.0L424.6,567.9L425.0,569.8L425.1,571.7L425.0,573.6L424.6,575.4L424.1,577.2L423.2,578.8L422.1,580.1L420.8,581.3L419.2,582.3L417.4,583.3L415.2,584.4L412.6,585.3L409.9,586.3L407.1,587.2L404.3,588.0L401.2,588.9L398.2,589.6L395.5,590.3L393.0,591.0L390.8,591.7L388.6,592.2L386.5,592.3L384.2,591.9L382.0,591.1L379.8,590.0L377.5,589.0L375.3,588.0L373.0,586.9L370.8,585.7L368.5,584.6L366.1,583.5L363.7,582.3L361.4,581.2L359.4,580.0L357.9,578.9L356.7,577.9L355.8,576.8L354.9,575.6L354.2,574.4L353.7,573.3L353.4,571.9Z"/></clipPath>
<g clip-path="url(#bc8)">
<rect x="352.0" y="542.3" width="74.1" height="51.0" fill="#585858"/>
<path d="M365.7,582.2L353.4,616.2L359.1,579.8Z" fill="#555555"/>
<path d="M418.1,575.0L409.2,559.8L415.0,555.8L420.5,558.6L419.9,575.0L418.6,575.1Z" fill="#838383"/>
<path d="M369.6,558.4L372.5,495.7L385.4,546.0L376.9,560.2Z" fill="#676767"/>
<path d="M331.8,564.5L73.4,529.0L321.7,284.6L362.5,551.2L360.1,556.3Z" fill="#5e5e5e"/>
<path d="M365.7,582.2L374.2,576.9L378.2,576.7L308.0,803.8L353.4,616.2Z" fill="#707070"/>
<path d="M368.3,558.7L362.5,551.2L321.7,284.6L328.7,277.5L372.5,495.7L369.6,558.4Z" fill="#838383"/>
<path d="M418.6,575.1L419.9,575.0L429.9,576.7L415.1,600.9L413.1,592.4Z" fill="#555555"/>
<path d="M366.0,560.5L360.1,556.3L331.8,564.5L354.5,569.9L363.9,564.0Z" fill="#707070"/>
<path d="M429.9,576.7L419.9,575.0L420.5,558.6L651.9,475.6L749.7,567.8L738.6,577.9Z" fill="#838383"/>
<path d="M399.9,582.3L406.0,575.2L402.7,572.0L387.6,576.8L392.3,581.5Z" fill="#707070"/>
<path d="M392.0,552.7L385.4,546.0L372.5,495.7L328.7,277.5L389.1,208.3L451.9,275.9L409.1,542.0L401.9,553.6Z" fill="#676767"/>
<path d="M410.7,575.9L406.0,575.2L399.9,582.3L402.4,587.5L406.2,587.5Z" fill="#676767"/>
<path d="M392.0,552.7L385.4,546.0L376.9,560.2L381.1,574.4L382.3,574.3L391.7,564.2Z" fill="#838383"/>
<path d="M406.2,587.5L402.4,587.5L393.4,602.1L392.2,606.8L365.3,901.7L389.1,929.5L428.9,887.1L415.1,600.9L413.1,592.4Z" fill="#797979"/>
<path d="M415.0,555.8L420.5,558.6L651.9,475.6L576.6,401.7L415.1,554.5Z" fill="#707070"/>
<path d="M406.2,559.5L409.2,559.8L418.1,575.0L410.7,575.9L406.0,575.2L402.7,572.0L401.3,566.4Z" fill="#555555"/>
<path d="M428.9,887.1L738.6,577.9L429.9,576.7L415.1,600.9Z" fill="#676767"/>
<path d="M392.3,581.5L387.6,576.8L382.3,574.3L381.1,574.4L380.1,575.2L379.9,575.4L392.2,606.8L393.4,602.1Z" fill="#797979"/>
<path d="M409.1,542.0L451.9,275.9L576.6,401.7L415.1,554.5Z" fill="#707070"/>
<path d="M365.3,901.7L300.4,831.0L308.0,803.8L378.2,576.7L379.9,575.4L392.2,606.8Z" fill="#555555"/>
<path d="M366.0,560.5L368.3,558.7L369.6,558.4L376.9,560.2L381.1,574.4L380.1,575.2L363.9,564.0Z" fill="#707070"/>
<path d="M392.0,552.7L401.9,553.6L406.2,559.5L401.3,566.4L391.7,564.2Z" fill="#707070"/>
<path d="M401.9,553.6L409.1,542.0L415.1,554.5L415.0,555.8L409.2,559.8L406.2,559.5Z" fill="#5e5e5e"/>
<path d="M391.7,564.2L382.3,574.3L387.6,576.8L402.7,572.0L401.3,566.4Z" fill="#5e5e5e"/>
<path d="M359.1,579.8L356.6,571.7L354.5,569.9L331.8,564.5L73.4,529.0L29.9,567.8L300.4,831.0L308.0,803.8L353.4,616.2Z" fill="#5e5e5e"/>
<path d="M418.1,575.0L410.7,575.9L406.2,587.5L413.1,592.4L418.6,575.1Z" fill="#5e5e5e"/>
<path d="M363.9,564.0L380.1,575.2L379.9,575.4L378.2,576.7L374.2,576.9L356.6,571.7L354.5,569.9Z" fill="#797979"/>
<path d="M365.7,582.2L374.2,576.9L356.6,571.7L359.1,579.8Z" fill="#838383"/>
<path d="M399.9,582.3L402.4,587.5L393.4,602.1L392.3,581.5Z" fill="#797979"/>
<path d="M366.0,560.5L368.3,558.7L362.5,551.2L360.1,556.3Z" fill="#5e5e5e"/>
<rect x="352.0" y="542.3" width="74.1" height="51.0" filter="url(#tx1)" opacity="0.54"/>
<rect x="352.0" y="542.3" width="74.1" height="51.0" filter="url(#tx2)" opacity="0.75"/>
<path d="M379.2,550.6Q383.5,549.7 386.5,546.4M362.1,553.7Q365.3,550.3 365.5,546.8M361.9,577.9Q362.9,576.4 364.6,572.0M381.5,593.0Q383.8,588.3 387.1,585.9M392.9,554.8Q396.2,554.0 398.9,553.4M395.9,573.1Q399.3,573.4 402.8,572.9M360.3,587.3Q361.8,585.0 364.0,581.8M392.1,552.9Q397.6,551.3 402.7,551.6M387.3,576.7Q389.9,575.5 391.2,571.4M391.0,589.3Q391.9,585.7 394.8,581.1M372.0,587.2Q375.5,582.5 377.2,580.5M368.3,553.8Q372.5,549.4 373.9,543.7M410.0,551.3Q413.7,555.0 419.0,560.0M416.2,581.2Q416.9,575.4 419.1,572.3M400.5,570.2Q408.2,571.2 413.5,575.2M363.9,587.8Q368.6,584.6 371.2,581.6M379.9,593.9Q380.1,589.3 382.6,582.0M417.1,547.4Q418.4,551.6 419.8,557.3M401.4,583.1Q404.8,587.7 407.4,590.1M377.4,584.1Q378.8,578.9 377.8,574.7M387.0,569.5Q392.4,567.8 397.1,563.4M404.1,549.4Q407.9,551.0 412.0,555.5M412.2,575.1Q418.7,575.7 423.5,574.0M388.7,570.7Q393.0,567.9 398.9,567.9M401.4,575.8Q403.5,578.6 407.9,580.3M377.9,564.4Q383.5,560.1 387.3,557.1" fill="none" stroke="#8c8c8c" stroke-width="1.5" stroke-linecap="round" opacity="0.42"/>
<path d="M359.3,563.3L366.6,557.0L371.8,551.7L378.1,547.5L383.3,546.4L384.4,551.7L381.2,560.1L379.1,568.5L376.0,573.8L371.8,578.0L368.6,581.2L364.5,579.1L360.3,574.9L357.2,570.6Z" fill="#2e46b4" stroke="#1c1c3a" stroke-width="0.6" stroke-opacity="0.7"/>
<path d="M400.0,564.3L404.2,562.2L409.5,564.3L411.5,569.6L407.4,571.7L402.1,569.6Z" fill="#2e46b4" stroke="#1c1c3a" stroke-width="0.6" stroke-opacity="0.7"/>
<path d="M368.9,553.1L375.4,551.6L376.1,558.0L370.3,560.0Z" fill="#6e6e6e" stroke="#1c1c3a" stroke-width="0.6" stroke-opacity="0.7"/>
<path d="M359.5,562.9L364.5,562.4L363.8,566.3L360.2,566.3Z" fill="#666666" stroke="#1c1c3a" stroke-width="0.6" stroke-opacity="0.7"/>
<path d="M363.8,573.7L368.9,572.7L370.3,577.6L365.3,578.1Z" fill="#5e5e5e" stroke="#1c1c3a" stroke-width="0.6" stroke-opacity="0.7"/>
<path d="M420.5,558.6Q420.4,566.2 419.9,575.0M419.9,575.0Q424.4,575.3 429.9,576.7M651.9,475.6Q535.7,516.3 420.5,558.6M372.5,495.7Q369.9,528.0 369.6,558.4M385.4,546.0Q378.9,520.3 372.5,495.7M385.4,546.0Q381.2,554.2 376.9,560.2M376.9,560.2Q372.3,560.2 369.6,558.4M362.5,551.2Q364.9,553.8 368.3,558.7M362.5,551.2Q343.2,417.3 321.7,284.6M369.6,558.4Q370.0,557.6 368.3,558.7M360.1,556.3Q362.2,558.9 366.0,560.5M360.1,556.3Q345.2,561.1 331.8,564.5M331.8,564.5Q343.0,568.3 354.5,569.9M354.5,569.9Q359.1,567.3 363.9,564.0M363.9,564.0Q364.5,561.9 366.0,560.5M368.3,558.7Q367.3,559.1 366.0,560.5M362.5,551.2Q361.5,553.3 360.1,556.3M379.9,575.4Q380.1,574.5 380.1,575.2M379.9,575.4Q378.6,575.6 378.2,576.7M380.1,575.2Q371.9,570.8 363.9,564.0M378.2,576.7Q377.4,576.7 374.2,576.9M356.6,571.7Q365.8,575.0 374.2,576.9M356.6,571.7Q356.4,571.1 354.5,569.9M376.9,560.2Q378.2,567.7 381.1,574.4M380.1,575.2Q380.3,573.9 381.1,574.4M576.6,401.7Q495.0,478.7 415.1,554.5M420.5,558.6Q417.2,556.7 415.0,555.8M415.1,554.5Q414.9,554.7 415.0,555.8M451.9,275.9Q430.6,408.3 409.1,542.0M415.1,554.5Q411.3,548.7 409.1,542.0M429.9,576.7Q421.5,589.6 415.1,600.9M379.9,575.4Q387.2,590.2 392.2,606.8M308.0,803.8Q343.4,691.1 378.2,576.7M353.4,616.2Q358.8,600.3 365.7,582.2M353.4,616.2Q355.9,596.9 359.1,579.8M359.1,579.8Q361.3,580.5 365.7,582.2M374.2,576.9Q369.4,579.9 365.7,582.2M356.6,571.7Q358.0,576.5 359.1,579.8M393.4,602.1Q398.1,594.4 402.4,587.5M393.4,602.1Q391.8,592.7 392.3,581.5M402.4,587.5Q400.7,585.8 399.9,582.3M392.3,581.5Q395.0,581.3 399.9,582.3M387.6,576.8Q390.9,579.8 392.3,581.5M382.3,574.3Q383.9,576.0 387.6,576.8M382.3,574.3Q382.5,574.8 381.1,574.4M387.6,576.8Q395.7,573.8 402.7,572.0M406.0,575.2Q404.3,574.3 402.7,572.0M406.0,575.2Q403.3,577.6 399.9,582.3M413.1,592.4Q408.9,589.5 406.2,587.5M413.1,592.4Q415.0,583.4 418.6,575.1M406.2,587.5Q407.6,582.7 410.7,575.9M410.7,575.9Q413.9,576.6 418.1,575.0M418.6,575.1Q419.2,574.6 418.1,575.0M402.4,587.5Q403.6,588.4 406.2,587.5M415.1,600.9Q413.8,597.1 413.1,592.4M419.9,575.0Q419.8,575.1 418.6,575.1M406.0,575.2Q408.9,575.9 410.7,575.9M415.0,555.8Q412.3,557.0 409.2,559.8M409.2,559.8Q414.5,568.0 418.1,575.0M401.3,566.4Q402.8,562.8 406.2,559.5M401.3,566.4Q395.8,565.3 391.7,564.2M406.2,559.5Q403.6,555.9 401.9,553.6M401.9,553.6Q396.1,553.7 392.0,552.7M391.7,564.2Q391.6,557.3 392.0,552.7M409.2,559.8Q407.9,560.8 406.2,559.5M402.7,572.0Q401.8,570.2 401.3,566.4M382.3,574.3Q387.3,569.8 391.7,564.2M409.1,542.0Q404.8,546.8 401.9,553.6M385.4,546.0Q389.2,548.7 392.0,552.7" fill="none" stroke="#1e1e1e" stroke-width="0.8"/>
</g>
<use href="#bo8" fill="none" stroke="#1b1b1b" stroke-width="1.3"/>
<clipPath id="bc9"><path id="bo9" d="M433.3,572.6L433.6,570.4L434.2,567.8L435.0,565.1L436.2,562.6L437.7,560.3L439.6,558.0L441.7,555.8L443.9,553.8L446.2,552.1L448.6,550.5L451.2,549.0L453.9,547.7L456.9,546.5L460.1,545.5L463.3,544.6L466.5,544.0L469.8,543.7L473.0,543.6L476.2,543.7L479.2,544.0L482.0,544.3L484.5,544.8L486.9,545.5L489.3,546.4L491.7,547.7L494.0,549.2L496.2,550.9L498.1,552.7L499.7,554.4L501.0,556.2L502.2,558.1L503.2,560.2L504.2,562.5L505.1,565.2L505.8,567.8L506.2,570.2L506.2,572.3L505.9,574.2L505.3,575.9L504.4,577.6L503.0,579.3L501.3,580.9L499.2,582.5L496.9,583.9L494.0,585.3L490.7,586.6L487.4,587.9L484.3,589.0L481.6,590.0L479.1,591.0L476.7,591.8L474.2,592.2L471.7,592.1L469.1,591.7L466.5,591.0L464.0,590.2L461.5,589.5L459.0,588.5L456.5,587.5L453.8,586.5L450.6,585.3L447.2,584.0L443.9,582.7L441.1,581.5L439.0,580.5L437.4,579.6L436.0,578.7L435.0,577.7L434.1,576.6L433.6,575.5L433.3,574.2Z"/></clipPath>
<g clip-path="url(#bc9)">
<rect x="432.3" y="542.3" width="74.9" height="51.0" fill="#585858"/>
<path d="M459.5,567.8L454.3,555.1L271.2,426.7L269.0,428.9L450.3,573.7L453.0,575.1L453.1,575.1Z" fill="#666666"/>
<path d="M474.0,558.5L471.9,558.6L471.1,557.9L469.1,551.1L476.1,542.3L480.0,555.4Z" fill="#535353"/>
<path d="M474.2,584.8L475.8,587.0L477.0,598.6L465.1,586.6Z" fill="#666666"/>
<path d="M468.4,565.3L471.9,558.6L474.0,558.5L480.3,571.5L478.9,574.9L476.9,575.8L471.6,572.3Z" fill="#666666"/>
<path d="M494.3,567.7L493.0,563.8L486.3,566.0L486.3,566.7Z" fill="#666666"/>
<path d="M453.1,575.1L453.0,575.1L449.0,584.3L454.5,601.9L461.5,586.8L460.4,580.9Z" fill="#4d4d4d"/>
<path d="M441.3,583.7L439.0,584.3L451.9,615.1L454.5,601.9L449.0,584.3Z" fill="#5a5a5a"/>
<path d="M493.2,575.4L534.1,562.3L582.9,538.6L494.4,567.7Z" fill="#4d4d4d"/>
<path d="M469.1,551.1L341.7,350.8L452.3,227.7L476.1,542.3Z" fill="#4d4d4d"/>
<path d="M441.3,583.7L450.3,573.7L453.0,575.1L449.0,584.3Z" fill="#666666"/>
<path d="M493.2,575.5L491.3,583.3L491.0,583.2L478.9,574.9L480.3,571.5L485.4,568.8Z" fill="#535353"/>
<path d="M441.3,583.7L439.0,584.3L232.4,462.7L269.0,428.9L450.3,573.7Z" fill="#4d4d4d"/>
<path d="M534.1,562.3L493.8,587.0L528.7,864.0L830.3,567.8L725.4,475.8L582.9,538.6Z" fill="#5a5a5a"/>
<path d="M485.4,568.8L480.3,571.5L474.0,558.5L480.0,555.4L480.4,555.4L486.1,564.6L486.3,566.0L486.3,566.7Z" fill="#5a5a5a"/>
<path d="M471.1,557.9L469.1,551.1L341.7,350.8L271.2,426.7L454.3,555.1Z" fill="#666666"/>
<path d="M451.9,615.1L445.2,902.6L111.9,567.8L232.4,462.7L439.0,584.3Z" fill="#535353"/>
<path d="M463.5,567.8L459.5,567.8L454.3,555.1L471.1,557.9L471.9,558.6L468.4,565.3Z" fill="#5a5a5a"/>
<path d="M454.5,601.9L461.5,586.8L465.1,586.6L477.0,598.6L526.5,866.4L469.8,930.0L445.2,902.6L451.9,615.1Z" fill="#535353"/>
<path d="M493.2,575.5L491.3,583.3L493.8,587.0L534.1,562.3L493.2,575.4Z" fill="#5a5a5a"/>
<path d="M493.2,575.5L485.4,568.8L486.3,566.7L494.3,567.7L494.4,567.7L493.2,575.4Z" fill="#666666"/>
<path d="M491.0,583.2L475.8,587.0L474.2,584.8L474.5,580.0L476.9,575.8L478.9,574.9Z" fill="#535353"/>
<path d="M480.4,555.4L497.7,547.8L666.3,418.5L469.8,207.6L452.3,227.7L476.1,542.3L480.0,555.4Z" fill="#5a5a5a"/>
<path d="M463.5,567.8L465.4,575.5L471.6,572.3L468.4,565.3Z" fill="#606060"/>
<path d="M491.3,583.3L493.8,587.0L528.7,864.0L526.5,866.4L477.0,598.6L475.8,587.0L491.0,583.2Z" fill="#606060"/>
<path d="M493.0,563.8L486.3,566.0L486.1,564.6L493.0,560.0Z" fill="#666666"/>
<path d="M464.5,577.9L474.5,580.0L474.2,584.8L465.1,586.6L461.5,586.8L460.4,580.9Z" fill="#606060"/>
<path d="M493.0,560.0L497.7,547.8L480.4,555.4L486.1,564.6Z" fill="#606060"/>
<path d="M463.5,567.8L459.5,567.8L453.1,575.1L460.4,580.9L464.5,577.9L465.4,575.5Z" fill="#535353"/>
<path d="M465.4,575.5L464.5,577.9L474.5,580.0L476.9,575.8L471.6,572.3Z" fill="#4d4d4d"/>
<path d="M494.4,567.7L582.9,538.6L725.4,475.8L666.3,418.5L497.7,547.8L493.0,560.0L493.0,563.8L494.3,567.7Z" fill="#5a5a5a"/>
<rect x="432.3" y="542.3" width="74.9" height="51.0" filter="url(#tx1)" opacity="0.21"/>
<rect x="432.3" y="542.3" width="74.9" height="51.0" filter="url(#tx2)" opacity="0.75"/>
<path d="M488.0,574.3Q488.0,575.9 490.6,580.3M479.9,569.1Q484.5,567.5 491.5,567.8M488.9,571.7Q495.8,572.6 500.6,575.8M497.0,550.6Q501.6,553.3 505.4,554.2M491.2,547.4Q495.0,547.0 497.7,548.7M459.5,579.8Q464.6,576.8 469.4,572.6M476.0,555.4Q480.9,555.7 483.4,558.6M453.8,574.6Q459.0,576.3 461.2,577.3M490.5,574.2Q493.9,575.4 498.8,577.4M442.6,557.6Q446.2,553.5 447.1,548.6M474.3,588.0Q479.4,585.0 484.3,584.1M441.5,588.1Q444.1,582.2 444.9,579.0M465.8,584.5Q469.8,586.7 473.8,588.1M471.0,565.6Q475.1,559.4 480.4,556.0M434.6,592.8Q438.1,588.3 441.5,584.7M481.5,569.7Q484.9,572.4 487.0,573.9M479.7,574.9Q485.0,578.7 491.8,579.6M496.9,582.5Q501.2,584.9 508.2,585.1M459.7,586.4Q462.3,582.4 466.3,580.3M493.9,575.7Q500.0,576.6 504.4,577.1M436.5,576.8Q437.9,571.2 440.6,565.0M480.2,568.9Q485.7,565.6 492.2,562.3M459.2,588.3Q464.8,586.5 469.7,583.5M457.6,555.3Q459.0,549.3 457.7,545.9M469.6,553.7Q474.5,553.3 480.9,552.3M469.9,572.0Q475.0,568.8 478.3,563.9" fill="none" stroke="#8c8c8c" stroke-width="1.5" stroke-linecap="round" opacity="0.22"/>
<path d="M480.8,547.5L487.2,549.6L490.4,554.9L488.3,559.1L482.9,558.0Z" fill="#3d4592" stroke="#1c1c3a" stroke-width="0.6" stroke-opacity="0.7"/>
<path d="M474.5,559.1L479.8,560.1L478.7,563.3L474.5,562.2Z" fill="#2c2f80" stroke="#1c1c3a" stroke-width="0.6" stroke-opacity="0.7"/>
<path d="M111.9,567.8Q278.7,736.3 445.2,902.6M452.3,227.7Q465.3,385.6 476.1,542.3M341.7,350.8Q404.9,450.2 469.1,551.1M476.1,542.3Q473.1,547.4 469.1,551.1M271.2,426.7Q363.9,492.0 454.3,555.1M469.1,551.1Q469.8,553.5 471.1,557.9M454.3,555.1Q463.0,556.6 471.1,557.9M471.9,558.6Q471.9,557.5 471.1,557.9M476.1,542.3Q478.3,549.2 480.0,555.4M471.9,558.6Q471.8,557.6 474.0,558.5M480.0,555.4Q476.9,557.3 474.0,558.5M666.3,418.5Q582.7,482.4 497.7,547.8M497.7,547.8Q490.1,550.9 480.4,555.4M480.0,555.4Q481.3,554.8 480.4,555.4M477.0,598.6Q476.8,593.7 475.8,587.0M477.0,598.6Q470.3,592.3 465.1,586.6M475.8,587.0Q476.0,586.6 474.2,584.8M465.1,586.6Q470.4,584.7 474.2,584.8M232.4,462.7Q336.7,523.3 439.0,584.3M439.0,584.3Q444.7,600.5 451.9,615.1M461.5,586.8Q463.2,587.4 465.1,586.6M461.5,586.8Q458.8,593.2 454.5,601.9M453.0,575.1Q450.4,580.0 449.0,584.3M453.0,575.1Q450.7,573.6 450.3,573.7M450.3,573.7Q446.1,579.5 441.3,583.7M449.0,584.3Q444.4,583.1 441.3,583.7M269.0,428.9Q360.3,501.0 450.3,573.7M439.0,584.3Q439.8,584.1 441.3,583.7M454.5,601.9Q452.9,593.4 449.0,584.3M461.5,586.8Q460.7,583.7 460.4,580.9M474.5,580.0Q475.4,582.9 474.2,584.8M474.5,580.0Q469.7,578.4 464.5,577.9M460.4,580.9Q463.2,578.5 464.5,577.9M453.0,575.1Q452.9,574.4 453.1,575.1M460.4,580.9Q456.0,577.1 453.1,575.1M454.3,555.1Q456.2,562.1 459.5,567.8M453.1,575.1Q455.1,571.2 459.5,567.8M486.1,564.6Q485.1,564.2 486.3,566.0M486.1,564.6Q489.1,561.9 493.0,560.0M486.3,566.0Q490.6,564.6 493.0,563.8M493.0,560.0Q493.9,563.1 493.0,563.8M497.7,547.8Q495.3,553.8 493.0,560.0M480.4,555.4Q484.1,561.0 486.1,564.6M528.7,864.0Q512.4,724.8 493.8,587.0M493.8,587.0Q513.5,574.8 534.1,562.3M475.8,587.0Q483.5,584.7 491.0,583.2M476.9,575.8Q474.8,577.6 474.5,580.0M476.9,575.8Q478.8,575.0 478.9,574.9M478.9,574.9Q484.6,580.0 491.0,583.2M493.8,587.0Q491.5,584.6 491.3,583.3M491.0,583.2Q490.3,582.7 491.3,583.3M471.6,572.3Q469.6,573.5 465.4,575.5M471.6,572.3Q469.7,568.2 468.4,565.3M465.4,575.5Q464.4,570.6 463.5,567.8M468.4,565.3Q465.8,567.5 463.5,567.8M476.9,575.8Q475.3,573.6 471.6,572.3M464.5,577.9Q464.0,575.6 465.4,575.5M471.9,558.6Q470.0,561.4 468.4,565.3M478.9,574.9Q480.2,572.5 480.3,571.5M474.0,558.5Q477.0,564.6 480.3,571.5M459.5,567.8Q461.3,568.2 463.5,567.8M486.3,566.7Q491.1,568.2 494.3,567.7M486.3,566.7Q486.0,568.9 485.4,568.8M485.4,568.8Q488.9,572.7 493.2,575.5M494.3,567.7Q494.5,568.7 494.4,567.7M494.4,567.7Q494.0,572.4 493.2,575.4M493.2,575.4Q494.2,574.7 493.2,575.5M486.3,566.0Q486.8,567.3 486.3,566.7M493.0,563.8Q494.0,565.9 494.3,567.7M480.3,571.5Q481.9,570.7 485.4,568.8M491.3,583.3Q491.6,579.9 493.2,575.5M582.9,538.6Q537.5,553.5 494.4,567.7M534.1,562.3Q513.8,569.7 493.2,575.4" fill="none" stroke="#1e1e1e" stroke-width="0.8"/>
<path d="M456.6,567.8L458.7,565.8L461.5,563.7L464.6,562.2L468.1,561.5L471.8,561.3L475.6,561.4L479.4,561.8L483.2,562.5L486.5,563.4L489.2,564.6L491.3,566.0L493.1,567.8L494.5,570.1L495.4,572.6L495.6,575.1L495.0,577.5L493.7,579.7L491.6,582.0L488.8,584.6L485.3,587.1L481.4,589.4L477.1,591.2L472.4,592.8L468.3,593.3L464.9,592.5L461.9,590.7L459.5,588.4L457.8,585.3L456.7,581.7L455.9,578.6L455.4,576.3L455.1,574.4L455.2,572.7L455.3,571.0L455.6,569.5Z" fill="#383838" fill-opacity="0.72" stroke="#1f1f1f" stroke-width="0.9"/>
<path d="M463.5,580.2A9.6,5.5 0 0 1 482.8,580.2M463.1,580.3A10.1,9.3 0 0 1 483.2,580.3M462.0,581.3A10.6,4.8 0 0 1 483.1,581.3M467.0,579.1A8.8,4.8 0 0 1 484.6,579.1M466.0,580.3A8.1,8.5 0 0 1 482.3,580.3" fill="none" stroke="#575757" stroke-width="1.1" stroke-opacity="0.5"/>
</g>
<use href="#bo9" fill="none" stroke="#1b1b1b" stroke-width="1.3"/>
<clipPath id="bc10"><path id="bo10" d="M514.4,571.4L514.8,568.7L515.8,565.7L517.1,562.8L518.6,560.1L520.4,557.7L522.5,555.5L524.8,553.4L527.4,551.5L530.3,549.7L533.5,548.1L536.9,546.8L540.2,545.7L543.3,544.9L546.5,544.4L549.7,544.2L552.8,544.0L556.1,543.9L559.3,544.0L562.5,544.2L565.5,544.7L568.3,545.4L570.9,546.3L573.4,547.5L575.6,548.9L577.8,550.7L579.9,552.9L581.7,555.2L583.3,557.7L584.6,560.4L585.8,563.3L586.7,566.2L587.1,568.9L587.1,571.3L586.6,573.6L585.8,575.7L584.6,577.6L582.9,579.4L580.7,581.0L578.3,582.5L575.6,583.8L572.8,585.1L569.6,586.1L566.3,587.1L563.0,588.1L559.9,589.1L556.7,590.2L553.5,591.2L550.3,591.8L547.0,592.1L543.8,592.1L540.6,591.8L537.6,591.3L534.9,590.4L532.3,589.2L529.9,587.8L527.4,586.4L524.7,585.0L521.9,583.5L519.3,581.9L517.3,580.1L515.9,578.2L514.9,576.0L514.4,573.8Z"/></clipPath>
<g clip-path="url(#bc10)">
<rect x="513.0" y="542.8" width="75.3" height="51.2" fill="#585858"/>
<path d="M577.2,565.6L621.1,551.6L584.3,556.7L582.9,557.3Z" fill="#535353"/>
<path d="M577.5,556.4L572.9,548.4L567.0,546.0L568.7,559.9L572.5,561.1Z" fill="#666666"/>
<path d="M546.7,556.3L546.4,557.0L547.4,559.4L555.9,556.5L555.9,555.7L550.5,554.8Z" fill="#4d4d4d"/>
<path d="M556.8,553.6L551.1,549.1L563.5,524.6L566.4,545.2Z" fill="#4d4d4d"/>
<path d="M547.4,559.4L547.1,562.7L544.4,564.8L534.6,560.7L536.8,557.9L546.4,557.0Z" fill="#4d4d4d"/>
<path d="M532.2,582.5L532.2,581.7L523.3,567.8L270.6,498.3L192.0,568.4L305.4,679.6Z" fill="#535353"/>
<path d="M584.3,556.7L576.0,548.6L825.6,488.7L851.2,514.2L621.1,551.6Z" fill="#535353"/>
<path d="M569.2,579.0L561.4,584.2L554.1,578.1L553.1,573.2L554.3,570.0L565.9,569.0Z" fill="#535353"/>
<path d="M554.1,578.1L533.6,581.2L545.3,568.0L553.1,573.2Z" fill="#4d4d4d"/>
<path d="M564.6,563.9L557.2,562.5L555.9,556.5L555.9,555.7L556.8,553.6L566.4,545.2L567.0,546.0L568.7,559.9Z" fill="#666666"/>
<path d="M544.4,564.8L545.3,568.0L533.6,581.2L532.2,581.7L523.3,567.8L529.8,562.6L534.6,560.7Z" fill="#666666"/>
<path d="M579.8,580.4L579.6,578.0L872.0,534.0L911.6,568.4L667.3,810.4Z" fill="#5a5a5a"/>
<path d="M577.1,565.8L578.5,577.7L569.2,579.0L565.9,569.0L564.6,563.9L568.7,559.9L572.5,561.1Z" fill="#4d4d4d"/>
<path d="M579.8,580.4L551.8,712.9L554.0,925.8L667.3,810.4Z" fill="#666666"/>
<path d="M582.9,557.3L584.3,556.7L576.0,548.6L572.9,548.4L577.5,556.4Z" fill="#4d4d4d"/>
<path d="M543.9,547.8L541.6,546.1L536.8,557.9L546.4,557.0L546.7,556.3Z" fill="#535353"/>
<path d="M554.1,578.1L533.6,581.2L532.2,581.7L532.2,582.5L549.6,651.1L561.4,584.2Z" fill="#666666"/>
<path d="M556.2,563.6L547.1,562.7L547.4,559.4L555.9,556.5L557.2,562.5Z" fill="#666666"/>
<path d="M530.0,503.8L529.8,562.6L523.3,567.8L270.6,498.3L487.2,278.1Z" fill="#4d4d4d"/>
<path d="M569.2,579.0L561.4,584.2L549.6,651.1L551.8,712.9L579.8,580.4L579.6,578.0L578.5,577.7Z" fill="#4d4d4d"/>
<path d="M572.9,548.4L567.0,546.0L566.4,545.2L563.5,524.6L541.7,217.4L550.6,206.5L825.6,488.7L576.0,548.6Z" fill="#4d4d4d"/>
<path d="M541.6,546.1L530.0,503.8L529.8,562.6L534.6,560.7L536.8,557.9Z" fill="#535353"/>
<path d="M543.9,547.8L546.7,556.3L550.5,554.8L545.8,548.5Z" fill="#4d4d4d"/>
<path d="M554.3,570.0L553.1,573.2L545.3,568.0L544.4,564.8L547.1,562.7L556.2,563.6Z" fill="#4d4d4d"/>
<path d="M565.9,569.0L554.3,570.0L556.2,563.6L557.2,562.5L564.6,563.9Z" fill="#5a5a5a"/>
<path d="M543.9,547.8L541.6,546.1L530.0,503.8L487.2,278.1L541.7,217.4L563.5,524.6L551.1,549.1L545.8,548.5Z" fill="#535353"/>
<path d="M577.1,565.8L578.5,577.7L579.6,578.0L872.0,534.0L851.2,514.2L621.1,551.6L577.2,565.6Z" fill="#666666"/>
<path d="M577.1,565.8L572.5,561.1L577.5,556.4L582.9,557.3L577.2,565.6Z" fill="#4d4d4d"/>
<path d="M551.8,712.9L549.6,651.1L532.2,582.5L305.4,679.6L550.6,929.9L554.0,925.8Z" fill="#4d4d4d"/>
<path d="M545.8,548.5L551.1,549.1L556.8,553.6L555.9,555.7L550.5,554.8Z" fill="#5a5a5a"/>
<rect x="513.0" y="542.8" width="75.3" height="51.2" filter="url(#tx1)" opacity="0.27"/>
<rect x="513.0" y="542.8" width="75.3" height="51.2" filter="url(#tx2)" opacity="0.75"/>
<path d="M575.9,544.0Q580.0,549.4 585.9,551.8M540.3,586.6Q543.7,585.9 547.3,582.4M566.1,553.6Q571.3,555.2 576.6,556.5M546.6,589.4Q550.5,588.4 554.4,587.8M564.9,546.8Q569.2,548.8 573.8,552.1M531.0,560.6Q534.1,559.1 538.9,556.0M529.7,566.2Q531.8,562.8 534.5,561.8M522.2,580.5Q525.4,576.5 527.0,573.2M554.8,563.4Q556.7,558.9 557.6,552.8M572.3,574.1Q576.2,573.2 577.6,569.3M540.2,582.1Q544.7,578.7 550.2,572.8M551.7,587.6Q554.6,585.9 558.1,582.8M562.3,577.0Q567.1,578.6 572.6,579.0M530.8,560.3Q535.8,560.3 539.2,557.3M526.6,562.2Q528.2,558.1 529.5,554.7M517.0,564.0Q518.4,560.7 522.7,559.8M537.2,550.0Q543.1,549.5 547.6,547.8M524.6,560.1Q528.8,557.3 532.1,553.6M525.1,583.4Q530.0,579.9 535.3,574.2M521.4,553.0Q525.4,550.9 528.9,546.8M555.3,575.6Q556.0,568.5 556.5,564.2M519.8,555.7Q518.9,548.1 519.1,542.8M573.0,559.1Q577.4,557.6 581.7,555.6M564.6,575.2Q567.3,578.0 572.0,579.5M527.2,551.5Q532.1,546.5 536.6,544.2M559.5,578.7Q563.5,582.7 569.2,587.0" fill="none" stroke="#8c8c8c" stroke-width="1.5" stroke-linecap="round" opacity="0.26"/>
<path d="M546.9,552.3L554.4,548.0L562.9,546.9L565.0,550.1L561.8,555.4L556.5,557.5L549.0,557.5Z" fill="#2e46b4" stroke="#1c1c3a" stroke-width="0.6" stroke-opacity="0.7"/>
<path d="M523.5,556.5L529.9,554.4L534.2,556.5L532.0,560.7L525.7,560.7Z" fill="#2e46b4" stroke="#1c1c3a" stroke-width="0.6" stroke-opacity="0.7"/>
<path d="M579.9,575.5L585.2,574.4L586.2,578.6L582.0,579.7Z" fill="#2e46b4" stroke="#1c1c3a" stroke-width="0.6" stroke-opacity="0.7"/>
<path d="M270.6,498.3Q396.1,534.0 523.3,567.8M523.3,567.8Q526.3,564.5 529.8,562.6M529.8,562.6Q528.7,533.1 530.0,503.8M523.3,567.8Q526.7,575.6 532.2,581.7M532.2,581.7Q531.3,582.3 532.2,582.5M305.4,679.6Q418.5,632.0 532.2,582.5M545.3,568.0Q539.9,575.4 533.6,581.2M532.2,581.7Q533.1,582.2 533.6,581.2M529.8,562.6Q531.0,561.2 534.6,560.7M545.3,568.0Q543.8,566.4 544.4,564.8M534.6,560.7Q538.3,563.9 544.4,564.8M534.6,560.7Q536.7,558.1 536.8,557.9M530.0,503.8Q536.8,524.2 541.6,546.1M536.8,557.9Q540.2,551.3 541.6,546.1M563.5,524.6Q558.3,535.7 551.1,549.1M563.5,524.6Q564.6,535.7 566.4,545.2M551.1,549.1Q554.6,551.2 556.8,553.6M566.4,545.2Q561.1,549.2 556.8,553.6M551.8,712.9Q565.4,646.8 579.8,580.4M667.3,810.4Q623.1,695.4 579.8,580.4M532.2,582.5Q541.9,617.2 549.6,651.1M872.0,534.0Q726.8,555.2 579.6,578.0M579.6,578.0Q579.2,580.1 579.8,580.4M536.8,557.9Q541.9,558.1 546.4,557.0M544.4,564.8Q546.6,564.7 547.1,562.7M547.1,562.7Q546.5,560.1 547.4,559.4M546.4,557.0Q546.9,558.2 547.4,559.4M533.6,581.2Q543.0,578.5 554.1,578.1M549.6,651.1Q556.0,618.8 561.4,584.2M561.4,584.2Q556.9,580.6 554.1,578.1M545.3,568.0Q549.4,571.3 553.1,573.2M553.1,573.2Q553.3,576.7 554.1,578.1M550.5,554.8Q547.8,556.4 546.7,556.3M550.5,554.8Q547.9,551.0 545.8,548.5M546.7,556.3Q544.3,551.9 543.9,547.8M545.8,548.5Q543.9,549.4 543.9,547.8M546.4,557.0Q546.9,556.0 546.7,556.3M547.4,559.4Q550.5,558.3 555.9,556.5M555.9,555.7Q556.9,555.2 555.9,556.5M555.9,555.7Q554.3,554.6 550.5,554.8M556.8,553.6Q556.2,553.6 555.9,555.7M551.1,549.1Q548.2,547.7 545.8,548.5M541.6,546.1Q543.1,547.6 543.9,547.8M825.6,488.7Q700.8,519.3 576.0,548.6M566.4,545.2Q566.6,545.2 567.0,546.0M567.0,546.0Q569.1,547.9 572.9,548.4M576.0,548.6Q573.8,549.1 572.9,548.4M547.1,562.7Q550.6,564.3 556.2,563.6M555.9,556.5Q557.4,559.6 557.2,562.5M557.2,562.5Q556.7,563.5 556.2,563.6M553.1,573.2Q553.0,572.5 554.3,570.0M556.2,563.6Q555.4,565.7 554.3,570.0M576.0,548.6Q580.5,553.4 584.3,556.7M621.1,551.6Q602.7,554.3 584.3,556.7M567.0,546.0Q567.1,553.7 568.7,559.9M557.2,562.5Q560.3,563.1 564.6,563.9M568.7,559.9Q567.7,563.0 564.6,563.9M554.3,570.0Q559.7,568.7 565.9,569.0M564.6,563.9Q565.0,567.2 565.9,569.0M561.4,584.2Q564.7,581.1 569.2,579.0M565.9,569.0Q566.6,574.1 569.2,579.0M579.6,578.0Q579.3,577.2 578.5,577.7M578.5,577.7Q573.5,578.7 569.2,579.0M572.5,561.1Q575.9,562.9 577.1,565.8M572.5,561.1Q576.2,557.8 577.5,556.4M577.5,556.4Q580.6,557.9 582.9,557.3M582.9,557.3Q579.8,562.6 577.2,565.6M577.2,565.6Q576.4,565.2 577.1,565.8M568.7,559.9Q570.5,559.6 572.5,561.1M578.5,577.7Q576.8,572.6 577.1,565.8M572.9,548.4Q575.9,551.9 577.5,556.4M584.3,556.7Q583.7,556.5 582.9,557.3M621.1,551.6Q599.4,558.8 577.2,565.6" fill="none" stroke="#1e1e1e" stroke-width="0.8"/>
<path d="M520.6,576.3L521.2,573.5L522.9,570.8L525.0,568.4L527.5,566.4L530.5,564.8L533.8,563.5L537.6,562.6L541.8,562.1L545.9,562.0L549.7,562.3L553.4,562.9L556.5,564.0L559.1,565.4L561.2,567.2L562.7,569.4L563.7,572.1L564.0,575.2L563.8,578.2L563.2,580.9L562.1,583.5L560.2,586.1L557.1,589.2L553.3,592.2L549.2,594.0L544.8,593.8L540.3,592.3L536.0,590.5L532.2,588.8L528.7,586.9L525.7,584.6L523.3,582.0L521.4,579.1Z" fill="#383838" fill-opacity="0.72" stroke="#1f1f1f" stroke-width="0.9"/>
<path d="M531.1,583.5A11.8,8.6 0 0 1 554.7,583.5M531.0,582.2A12.0,4.6 0 0 1 555.1,582.2M524.6,580.6A16.8,5.4 0 0 1 558.2,580.6M531.0,581.6A11.3,6.6 0 0 1 553.6,581.6M521.8,577.6A16.6,6.6 0 0 1 555.0,577.6" fill="none" stroke="#575757" stroke-width="1.1" stroke-opacity="0.5"/>
</g>
<use href="#bo10" fill="none" stroke="#1b1b1b" stroke-width="1.3"/>
<clipPath id="bc11"><path id="bo11" d="M593.7,571.0L593.9,568.9L594.4,566.6L595.2,564.2L596.0,562.0L597.1,560.0L598.3,558.1L599.7,556.4L601.3,554.8L603.0,553.4L605.0,552.0L607.1,550.8L609.2,549.7L611.3,548.6L613.5,547.7L615.8,546.9L618.4,546.2L621.4,545.4L624.8,544.7L628.2,544.1L631.5,543.8L634.6,543.7L637.6,543.8L640.6,544.1L643.3,544.5L645.8,545.0L648.1,545.7L650.4,546.6L652.5,547.8L654.6,549.4L656.7,551.3L658.7,553.4L660.4,555.5L661.8,557.7L663.0,560.0L664.1,562.3L665.0,564.5L665.7,566.6L666.4,568.5L666.8,570.4L666.9,572.3L666.8,574.2L666.4,576.1L665.8,577.8L665.0,579.4L663.9,580.8L662.5,581.9L660.9,583.0L659.0,584.0L656.8,585.0L654.2,586.0L651.4,586.9L648.6,587.8L645.7,588.7L642.6,589.5L639.5,590.3L636.7,591.0L634.2,591.7L631.9,592.4L629.7,592.9L627.5,593.0L625.2,592.6L622.9,591.8L620.7,590.7L618.4,589.7L616.1,588.7L613.8,587.6L611.5,586.4L609.2,585.3L606.8,584.1L604.3,583.0L601.9,581.8L599.9,580.7L598.4,579.6L597.2,578.5L596.2,577.4L595.4,576.2L594.7,575.0L594.1,573.9L593.8,572.6Z"/></clipPath>
<g clip-path="url(#bc11)">
<rect x="592.4" y="542.8" width="75.5" height="51.2" fill="#585858"/>
<path d="M652.1,556.3L650.4,549.6L661.2,554.2L656.7,557.9Z" fill="#707070"/>
<path d="M655.3,572.8L667.6,577.7L984.5,571.6L988.0,568.4L973.2,554.6L681.2,556.3L656.2,566.7Z" fill="#797979"/>
<path d="M612.3,566.4L620.6,565.9L632.8,578.0L632.1,580.9L623.8,587.4L618.9,583.9Z" fill="#838383"/>
<path d="M611.0,565.7L613.0,558.3L613.6,541.2L593.8,560.6L605.4,566.5Z" fill="#797979"/>
<path d="M622.1,555.3L624.2,548.5L627.4,561.2L627.2,561.3Z" fill="#707070"/>
<path d="M647.3,561.2L644.3,571.7L638.5,572.0L639.5,555.0L647.1,560.7Z" fill="#555555"/>
<path d="M612.3,566.4L620.6,565.9L627.2,561.3L622.1,555.3L613.0,558.3L611.0,565.7Z" fill="#797979"/>
<path d="M608.0,581.7L603.6,572.8L605.4,566.5L611.0,565.7L612.3,566.4L618.9,583.9L609.7,584.9Z" fill="#797979"/>
<path d="M655.0,564.4L656.2,566.7L681.2,556.3L664.1,553.4L661.2,554.2L656.7,557.9Z" fill="#838383"/>
<path d="M647.3,561.2L655.0,564.4L656.7,557.9L652.1,556.3L647.1,560.7Z" fill="#5e5e5e"/>
<path d="M647.1,560.7L639.5,555.0L638.4,553.1L639.2,537.3L650.4,549.6L652.1,556.3Z" fill="#5e5e5e"/>
<path d="M639.5,555.0L638.5,572.0L636.6,573.0L628.9,561.0L638.4,553.1Z" fill="#5e5e5e"/>
<path d="M651.4,574.9L655.3,572.8L667.6,577.7L653.7,590.3L650.6,584.4Z" fill="#797979"/>
<path d="M613.6,541.2L593.8,560.6L344.4,500.2L611.2,230.8L628.1,487.7Z" fill="#797979"/>
<path d="M639.2,537.3L638.4,553.1L628.9,561.0L627.4,561.2L624.2,548.5L628.8,491.3L634.6,512.4Z" fill="#838383"/>
<path d="M609.7,584.9L618.9,583.9L623.8,587.4L620.4,664.6L607.6,586.3Z" fill="#676767"/>
<path d="M664.1,553.4L681.2,556.3L973.2,554.6L630.1,207.5L611.2,230.8L628.1,487.7L628.8,491.3L634.6,512.4Z" fill="#676767"/>
<path d="M593.1,587.8L412.3,703.6L269.6,568.4L344.4,500.2L593.8,560.6L605.4,566.5L603.6,572.8L597.8,581.1Z" fill="#555555"/>
<path d="M667.6,577.7L984.5,571.6L692.5,862.0L654.9,622.7L653.7,590.3Z" fill="#707070"/>
<path d="M651.4,574.9L650.6,584.4L638.5,584.0L650.5,574.5Z" fill="#555555"/>
<path d="M636.6,573.0L632.8,578.0L620.6,565.9L627.2,561.3L627.4,561.2L628.9,561.0Z" fill="#676767"/>
<path d="M650.4,549.6L639.2,537.3L634.6,512.4L664.1,553.4L661.2,554.2Z" fill="#838383"/>
<path d="M650.5,574.5L644.3,571.7L638.5,572.0L636.6,573.0L632.8,578.0L632.1,580.9L637.6,584.1L638.5,584.0Z" fill="#555555"/>
<path d="M593.1,587.8L607.6,586.3L609.7,584.9L608.0,581.7L597.8,581.1Z" fill="#797979"/>
<path d="M593.1,587.8L412.3,703.6L618.0,916.6L620.4,664.6L607.6,586.3Z" fill="#555555"/>
<path d="M647.3,561.2L644.3,571.7L650.5,574.5L651.4,574.9L655.3,572.8L656.2,566.7L655.0,564.4Z" fill="#707070"/>
<path d="M637.6,584.1L632.1,580.9L623.8,587.4L620.4,664.6L618.0,916.6L630.1,930.5L692.5,862.0L654.9,622.7Z" fill="#676767"/>
<path d="M613.0,558.3L613.6,541.2L628.1,487.7L628.8,491.3L624.2,548.5L622.1,555.3Z" fill="#5e5e5e"/>
<path d="M650.6,584.4L653.7,590.3L654.9,622.7L637.6,584.1L638.5,584.0Z" fill="#838383"/>
<path d="M597.8,581.1L603.6,572.8L608.0,581.7Z" fill="#5e5e5e"/>
<rect x="592.4" y="542.8" width="75.5" height="51.2" filter="url(#tx1)" opacity="0.54"/>
<rect x="592.4" y="542.8" width="75.5" height="51.2" filter="url(#tx2)" opacity="0.75"/>
<path d="M639.4,583.7Q635.5,579.2 633.3,576.9M609.1,557.3Q613.0,553.8 619.1,548.2M642.2,564.5Q647.8,568.7 653.9,571.2M602.2,552.9Q604.9,548.9 608.4,546.6M634.9,573.4Q638.8,572.6 644.0,571.5M619.4,581.6Q622.2,575.9 626.1,569.6M603.3,588.5Q602.2,584.4 603.5,578.0M595.3,560.2Q599.1,556.6 600.4,551.8M653.2,564.0Q655.5,561.8 660.3,560.6M601.2,551.4Q603.9,548.4 604.5,544.7M643.8,575.6Q646.0,571.7 649.6,569.1M599.1,551.4Q602.4,547.6 604.9,545.6M625.6,563.9Q629.4,560.8 631.6,556.4M651.6,549.2Q655.5,549.6 661.2,547.6M614.7,588.3Q614.6,583.3 612.4,576.1M620.2,582.2Q624.7,576.4 627.5,571.0M647.4,582.6Q653.2,580.4 656.4,579.8M656.6,552.1Q661.0,554.2 664.0,555.1M617.8,565.1Q617.2,560.3 616.8,556.0M646.5,587.2Q651.2,586.2 657.4,585.7M622.7,579.2Q624.8,575.9 626.6,569.8M621.7,559.4Q623.1,559.1 627.5,557.8M651.4,575.1Q654.8,574.9 660.8,577.3M634.2,552.8Q640.0,554.3 643.6,555.9M617.7,572.9Q621.7,569.9 627.2,566.1M597.6,553.1Q600.1,549.0 601.3,546.5" fill="none" stroke="#8c8c8c" stroke-width="1.5" stroke-linecap="round" opacity="0.42"/>
<path d="M613.6,548.0L621.1,545.9L628.5,546.9L636.0,546.5L643.5,549.1L651.0,553.3L657.3,558.6L662.6,564.9L665.9,572.3L665.9,578.6L659.5,580.7L651.0,579.7L643.5,582.9L638.2,583.9L632.8,582.9L627.5,578.6L622.1,574.4L619.0,569.1L622.1,564.9L619.0,557.5L614.7,552.3Z" fill="#2e46b4" stroke="#1c1c3a" stroke-width="0.6" stroke-opacity="0.7"/>
<path d="M625.7,551.2L632.4,550.2L634.6,556.1L633.1,564.5L627.9,563.5Z" fill="#666666" stroke="#1c1c3a" stroke-width="0.6" stroke-opacity="0.7"/>
<path d="M642.6,560.0L650.7,559.5L653.7,565.9L646.3,568.4Z" fill="#6a6a6a" stroke="#1c1c3a" stroke-width="0.6" stroke-opacity="0.7"/>
<path d="M656.6,566.4L661.8,568.4L661.0,572.3L655.9,571.4Z" fill="#606060" stroke="#1c1c3a" stroke-width="0.6" stroke-opacity="0.7"/>
<path d="M630.1,570.9L636.0,572.3L634.6,577.3Z" fill="#626262" stroke="#1c1c3a" stroke-width="0.6" stroke-opacity="0.7"/>
<path d="M594.4,572.3L597.7,570.2L600.8,575.5L598.7,579.7L595.5,577.6Z" fill="#2e46b4" stroke="#1c1c3a" stroke-width="0.6" stroke-opacity="0.7"/>
<path d="M973.2,554.6Q802.2,380.6 630.1,207.5M593.8,560.6Q604.5,551.9 613.6,541.2M344.4,500.2Q469.7,529.7 593.8,560.6M623.8,587.4Q626.9,584.0 632.1,580.9M632.1,580.9Q634.3,581.4 637.6,584.1M623.8,587.4Q622.6,626.8 620.4,664.6M654.9,622.7Q647.1,604.4 637.6,584.1M627.4,561.2Q626.0,554.9 624.2,548.5M627.4,561.2Q628.5,561.0 627.2,561.3M624.2,548.5Q623.8,551.4 622.1,555.3M627.2,561.3Q625.7,558.6 622.1,555.3M628.8,491.3Q627.7,520.8 624.2,548.5M613.6,541.2Q613.5,549.8 613.0,558.3M622.1,555.3Q616.7,556.1 613.0,558.3M627.4,561.2Q627.2,561.4 628.9,561.0M627.2,561.3Q623.2,562.4 620.6,565.9M632.8,578.0Q626.9,572.4 620.6,565.9M632.8,578.0Q633.7,574.9 636.6,573.0M628.9,561.0Q633.7,567.5 636.6,573.0M628.9,561.0Q634.3,556.5 638.4,553.1M638.5,572.0Q637.9,563.9 639.5,555.0M636.6,573.0Q637.7,572.7 638.5,572.0M638.4,553.1Q637.9,554.3 639.5,555.0M623.8,587.4Q622.1,585.6 618.9,583.9M632.8,578.0Q632.5,578.7 632.1,580.9M620.6,565.9Q616.2,565.5 612.3,566.4M618.9,583.9Q614.6,576.3 612.3,566.4M593.8,560.6Q599.1,562.7 605.4,566.5M613.0,558.3Q612.2,561.3 611.0,565.7M605.4,566.5Q609.0,565.4 611.0,565.7M611.0,565.7Q611.3,565.6 612.3,566.4M607.6,586.3Q599.2,587.8 593.1,587.8M607.6,586.3Q608.9,585.9 609.7,584.9M609.7,584.9Q610.0,582.4 608.0,581.7M608.0,581.7Q603.6,581.0 597.8,581.1M597.8,581.1Q596.4,585.6 593.1,587.8M412.3,703.6Q502.4,646.5 593.1,587.8M620.4,664.6Q613.7,624.5 607.6,586.3M618.9,583.9Q614.1,584.7 609.7,584.9M605.4,566.5Q604.5,569.6 603.6,572.8M603.6,572.8Q604.8,577.5 608.0,581.7M603.6,572.8Q601.2,577.2 597.8,581.1M984.5,571.6Q825.4,575.2 667.6,577.7M654.9,622.7Q655.0,606.1 653.7,590.3M653.7,590.3Q660.2,583.8 667.6,577.7M667.6,577.7Q661.7,576.3 655.3,572.8M681.2,556.3Q669.3,560.3 656.2,566.7M656.2,566.7Q655.2,569.9 655.3,572.8M638.4,553.1Q639.8,545.6 639.2,537.3M681.2,556.3Q673.5,554.0 664.1,553.4M634.6,512.4Q648.8,532.4 664.1,553.4M638.5,584.0Q643.6,584.7 650.6,584.4M638.5,584.0Q644.8,579.7 650.5,574.5M650.6,584.4Q651.4,580.1 651.4,574.9M650.5,574.5Q649.8,574.8 651.4,574.9M637.6,584.1Q638.1,583.4 638.5,584.0M653.7,590.3Q651.5,588.2 650.6,584.4M644.3,571.7Q646.4,571.9 650.5,574.5M638.5,572.0Q642.3,572.8 644.3,571.7M655.3,572.8Q653.1,573.5 651.4,574.9M639.2,537.3Q645.5,543.8 650.4,549.6M664.1,553.4Q662.5,553.4 661.2,554.2M661.2,554.2Q656.1,551.8 650.4,549.6M656.7,557.9Q653.8,558.3 652.1,556.3M656.7,557.9Q656.0,560.8 655.0,564.4M652.1,556.3Q650.1,557.8 647.1,560.7M655.0,564.4Q650.5,562.7 647.3,561.2M647.1,560.7Q646.1,560.7 647.3,561.2M650.4,549.6Q650.2,553.5 652.1,556.3M661.2,554.2Q659.1,556.9 656.7,557.9M656.2,566.7Q654.8,564.7 655.0,564.4M639.5,555.0Q643.5,558.1 647.1,560.7M644.3,571.7Q645.3,565.3 647.3,561.2" fill="none" stroke="#1e1e1e" stroke-width="0.8"/>
</g>
<use href="#bo11" fill="none" stroke="#1b1b1b" stroke-width="1.3"/>
<clipPath id="bc12"><path id="bo12" d="M353.3,632.6L353.5,630.6L354.0,628.2L354.7,625.8L355.6,623.6L356.6,621.6L357.8,619.8L359.2,618.0L360.7,616.4L362.4,615.0L364.4,613.6L366.4,612.4L368.5,611.3L370.6,610.2L372.7,609.3L375.0,608.5L377.5,607.8L380.5,607.0L383.8,606.3L387.1,605.8L390.3,605.4L393.4,605.3L396.4,605.4L399.3,605.7L402.0,606.1L404.4,606.6L406.7,607.3L408.9,608.2L411.0,609.4L413.1,611.0L415.1,612.9L417.0,615.0L418.7,617.1L420.1,619.3L421.3,621.6L422.4,624.0L423.2,626.2L424.0,628.2L424.6,630.2L425.0,632.1L425.1,633.9L425.0,635.8L424.6,637.7L424.1,639.5L423.2,641.1L422.1,642.4L420.8,643.6L419.2,644.6L417.4,645.7L415.2,646.7L412.6,647.7L409.9,648.6L407.1,649.5L404.3,650.4L401.2,651.2L398.2,652.0L395.5,652.7L393.0,653.4L390.8,654.1L388.6,654.6L386.5,654.7L384.2,654.3L382.0,653.4L379.8,652.4L377.5,651.4L375.3,650.4L373.0,649.3L370.8,648.1L368.5,647.0L366.1,645.8L363.7,644.7L361.4,643.5L359.4,642.4L357.9,641.3L356.7,640.2L355.8,639.1L354.9,637.9L354.2,636.7L353.7,635.5L353.4,634.2Z"/></clipPath>
<g clip-path="url(#bc12)">
<rect x="352.0" y="604.4" width="74.1" height="51.3" fill="#585858"/>
<path d="M393.1,636.8L392.1,642.8L380.5,650.4L381.7,633.9L391.8,633.8Z" fill="#797979"/>
<path d="M393.1,636.8L392.1,642.8L400.0,645.7L407.6,643.7L408.3,637.8L408.1,637.3Z" fill="#797979"/>
<path d="M408.3,637.8L419.3,638.3L420.6,643.1L409.1,646.4L407.6,643.7Z" fill="#5e5e5e"/>
<path d="M364.9,620.5L361.8,620.7L316.7,352.7L322.4,347.0L375.9,601.0Z" fill="#676767"/>
<path d="M390.2,625.7L379.2,629.9L375.8,627.0L375.5,626.6L375.5,626.3L376.2,624.3L385.9,623.5Z" fill="#555555"/>
<path d="M419.3,638.3L442.9,625.3L711.9,597.9L747.7,630.0L574.4,797.4L420.6,643.1Z" fill="#555555"/>
<path d="M393.2,625.3L393.6,624.0L391.4,619.5L387.6,617.8L385.9,623.5L390.2,625.7Z" fill="#797979"/>
<path d="M368.4,646.3L375.8,627.0L375.5,626.6L362.0,632.0L364.5,640.0Z" fill="#838383"/>
<path d="M408.9,619.0L408.1,614.9L408.2,592.6L439.2,327.5L711.9,597.9L442.9,625.3L411.9,623.5L411.7,623.2Z" fill="#838383"/>
<path d="M385.9,623.5L376.2,624.3L378.9,612.7L387.6,617.8Z" fill="#555555"/>
<path d="M393.7,616.1L391.4,619.5L393.6,624.0L408.9,619.0L408.1,614.9L393.8,615.9Z" fill="#838383"/>
<path d="M364.5,640.0L362.0,632.0L354.7,628.1L332.5,628.3L353.2,640.9Z" fill="#676767"/>
<path d="M380.5,650.4L373.2,662.8L368.4,646.3L375.8,627.0L379.2,629.9L381.7,633.9Z" fill="#676767"/>
<path d="M408.1,637.3L408.3,637.8L419.3,638.3L442.9,625.3L411.9,623.5L408.1,636.6Z" fill="#676767"/>
<path d="M420.6,643.1L574.4,797.4L496.5,874.5L409.1,646.4Z" fill="#707070"/>
<path d="M354.7,628.1L361.8,620.7L316.7,352.7L73.7,589.8L332.5,628.3Z" fill="#707070"/>
<path d="M396.1,629.7L411.7,623.2L411.9,623.5L408.1,636.6Z" fill="#676767"/>
<path d="M353.2,640.9L332.5,628.3L73.7,589.8L28.1,630.1L341.4,934.8L370.2,704.2L372.7,665.9Z" fill="#797979"/>
<path d="M396.1,629.7L411.7,623.2L408.9,619.0L393.6,624.0L393.2,625.3L393.9,629.1Z" fill="#5e5e5e"/>
<path d="M390.7,611.7L377.2,604.7L378.9,612.7L387.6,617.8L391.4,619.5L393.7,616.1Z" fill="#838383"/>
<path d="M390.7,611.7L393.7,616.1L393.8,615.9L395.2,611.0Z" fill="#676767"/>
<path d="M407.6,643.7L409.1,646.4L496.5,874.5L389.1,989.5L341.4,934.8L370.2,704.2L400.0,645.7Z" fill="#555555"/>
<path d="M378.9,612.7L376.2,624.3L375.5,626.3L364.9,620.5L375.9,601.0L377.2,604.7Z" fill="#555555"/>
<path d="M392.1,642.8L400.0,645.7L370.2,704.2L372.7,665.9L373.2,662.8L380.5,650.4Z" fill="#797979"/>
<path d="M375.5,626.3L364.9,620.5L361.8,620.7L354.7,628.1L362.0,632.0L375.5,626.6Z" fill="#5e5e5e"/>
<path d="M395.2,611.0L408.2,592.6L408.1,614.9L393.8,615.9Z" fill="#838383"/>
<path d="M368.4,646.3L373.2,662.8L372.7,665.9L353.2,640.9L364.5,640.0Z" fill="#707070"/>
<path d="M393.1,636.8L408.1,637.3L408.1,636.6L396.1,629.7L393.9,629.1L391.8,633.8Z" fill="#707070"/>
<path d="M390.7,611.7L377.2,604.7L375.9,601.0L322.4,347.0L389.1,272.9L439.2,327.5L408.2,592.6L395.2,611.0Z" fill="#555555"/>
<path d="M391.8,633.8L381.7,633.9L379.2,629.9L390.2,625.7L393.2,625.3L393.9,629.1Z" fill="#5e5e5e"/>
<rect x="352.0" y="604.4" width="74.1" height="51.3" filter="url(#tx1)" opacity="0.54"/>
<rect x="352.0" y="604.4" width="74.1" height="51.3" filter="url(#tx2)" opacity="0.75"/>
<path d="M374.7,638.1Q377.1,633.6 380.4,631.7M415.0,625.1Q421.1,625.3 424.4,623.8M370.5,652.4Q375.5,651.0 378.4,647.0M394.1,625.5Q400.6,624.4 406.2,620.7M405.2,635.8Q410.3,638.8 413.9,642.2M363.3,649.7Q364.9,645.0 366.7,640.0M372.4,650.1Q375.5,645.0 378.5,640.9M357.9,630.7Q362.1,628.8 366.0,626.0M368.0,614.3Q375.1,613.5 380.8,610.1M361.9,621.8Q366.2,618.0 371.1,614.6M405.9,610.3Q411.1,613.0 415.3,615.4M398.5,622.1Q402.9,623.8 406.4,622.8M358.1,616.2Q360.7,613.3 363.3,611.5M396.2,628.2Q401.1,628.5 408.4,630.5M365.5,645.3Q367.8,642.8 372.7,642.2M413.9,648.8Q419.5,648.9 427.0,651.5M417.5,634.9Q419.6,641.4 424.6,645.7M393.7,655.3Q393.2,650.4 393.3,647.7M401.1,631.0Q405.7,633.3 411.1,638.2M360.5,615.5Q361.8,613.1 361.7,609.4M416.5,641.7Q420.2,641.9 425.0,644.3M402.6,638.2Q406.9,640.8 410.8,642.7M394.6,639.4Q392.0,634.4 392.0,631.5M398.2,636.4Q395.8,631.3 393.2,623.9M406.6,623.3Q410.1,623.1 415.6,625.7M407.0,646.5Q409.3,649.8 413.9,656.1" fill="none" stroke="#8c8c8c" stroke-width="1.5" stroke-linecap="round" opacity="0.42"/>
<path d="M386.5,609.6L392.7,607.5L397.9,608.6L396.9,613.9L393.7,617.0L388.5,616.0Z" fill="#e2292b" stroke="#1c1c3a" stroke-width="0.6" stroke-opacity="0.7"/>
<path d="M363.5,626.5L368.6,624.4L372.8,622.3L376.0,626.5L373.9,631.8L371.8,636.1L368.6,640.3L363.5,639.3L360.3,635.0Z" fill="#e2292b" stroke="#1c1c3a" stroke-width="0.6" stroke-opacity="0.7"/>
<path d="M363.5,617.0L368.6,613.9L370.7,617.0L367.6,621.3L364.5,621.3Z" fill="#e2292b" stroke="#1c1c3a" stroke-width="0.6" stroke-opacity="0.7"/>
<path d="M377.0,648.8L385.4,644.5L394.8,639.3L400.0,637.1L402.1,641.4L395.8,645.6L387.5,649.8L380.2,651.9Z" fill="#e2292b" stroke="#1c1c3a" stroke-width="0.6" stroke-opacity="0.7"/>
<path d="M316.7,352.7Q339.5,486.5 361.8,620.7M361.8,620.7Q359.3,624.3 354.7,628.1M332.5,628.3Q344.1,627.1 354.7,628.1M361.8,620.7Q362.2,621.2 364.9,620.5M375.9,601.0Q370.7,611.7 364.9,620.5M362.0,632.0Q358.1,630.2 354.7,628.1M362.0,632.0Q368.7,630.0 375.5,626.6M364.9,620.5Q370.5,624.2 375.5,626.3M375.5,626.6Q374.7,626.8 375.5,626.3M496.5,874.5Q452.5,761.1 409.1,646.4M574.4,797.4Q497.3,719.4 420.6,643.1M409.1,646.4Q413.6,644.8 420.6,643.1M442.9,625.3Q430.2,632.4 419.3,638.3M420.6,643.1Q420.8,640.3 419.3,638.3M442.9,625.3Q428.0,624.8 411.9,623.5M411.9,623.5Q411.9,622.3 411.7,623.2M408.2,592.6Q409.3,603.3 408.1,614.9M408.1,614.9Q407.5,617.6 408.9,619.0M411.7,623.2Q411.4,621.8 408.9,619.0M375.9,601.0Q376.9,602.4 377.2,604.7M375.5,626.3Q377.0,625.2 376.2,624.3M376.2,624.3Q378.1,619.2 378.9,612.7M377.2,604.7Q377.8,609.9 378.9,612.7M409.1,646.4Q408.1,645.5 407.6,643.7M370.2,704.2Q384.4,674.3 400.0,645.7M400.0,645.7Q403.8,643.8 407.6,643.7M419.3,638.3Q414.3,637.3 408.3,637.8M407.6,643.7Q407.5,641.7 408.3,637.8M387.6,617.8Q390.4,619.7 391.4,619.5M387.6,617.8Q387.4,620.2 385.9,623.5M391.4,619.5Q392.1,622.4 393.6,624.0M385.9,623.5Q388.2,625.6 390.2,625.7M393.6,624.0Q394.4,624.5 393.2,625.3M390.2,625.7Q390.8,626.4 393.2,625.3M378.9,612.7Q384.0,615.3 387.6,617.8M376.2,624.3Q381.4,624.3 385.9,623.5M375.5,626.6Q375.6,626.3 375.8,627.0M379.2,629.9Q377.2,629.4 375.8,627.0M379.2,629.9Q385.6,628.8 390.2,625.7M393.8,615.9Q395.5,613.5 395.2,611.0M393.8,615.9Q393.4,616.9 393.7,616.1M393.7,616.1Q391.0,614.8 390.7,611.7M395.2,611.0Q391.8,611.8 390.7,611.7M408.2,592.6Q400.7,601.4 395.2,611.0M408.1,614.9Q400.0,615.4 393.8,615.9M408.9,619.0Q401.1,622.4 393.6,624.0M391.4,619.5Q392.3,618.5 393.7,616.1M377.2,604.7Q384.9,609.3 390.7,611.7M372.7,665.9Q362.5,654.4 353.2,640.9M373.2,662.8Q370.2,654.4 368.4,646.3M353.2,640.9Q359.8,640.6 364.5,640.0M364.5,640.0Q365.8,642.9 368.4,646.3M332.5,628.3Q342.4,635.6 353.2,640.9M362.0,632.0Q363.7,637.1 364.5,640.0M375.8,627.0Q372.5,637.8 368.4,646.3M379.2,629.9Q379.7,631.7 381.7,633.9M373.2,662.8Q376.1,656.5 380.5,650.4M381.7,633.9Q381.1,643.0 380.5,650.4M400.0,645.7Q396.3,644.5 392.1,642.8M380.5,650.4Q386.5,647.5 392.1,642.8M408.1,636.6Q409.0,636.5 408.1,637.3M408.1,636.6Q402.1,632.7 396.1,629.7M408.1,637.3Q399.5,636.4 393.1,636.8M393.9,629.1Q394.5,630.3 396.1,629.7M393.9,629.1Q394.1,630.5 391.8,633.8M391.8,633.8Q392.1,635.7 393.1,636.8M411.9,623.5Q409.1,629.9 408.1,636.6M408.3,637.8Q408.0,637.9 408.1,637.3M411.7,623.2Q405.0,627.2 396.1,629.7M392.1,642.8Q391.9,639.0 393.1,636.8M393.2,625.3Q393.5,627.2 393.9,629.1M381.7,633.9Q387.2,634.4 391.8,633.8" fill="none" stroke="#1e1e1e" stroke-width="0.8"/>
</g>
<use href="#bo12" fill="none" stroke="#1b1b1b" stroke-width="1.3"/>
<clipPath id="bc13"><path id="bo13" d="M433.4,635.0L433.7,632.8L434.3,630.2L435.2,627.5L436.3,624.9L437.9,622.6L439.7,620.3L441.8,618.1L444.0,616.1L446.3,614.3L448.8,612.6L451.4,611.2L454.1,609.9L457.1,608.7L460.3,607.6L463.5,606.7L466.8,606.1L470.0,605.8L473.3,605.7L476.5,605.8L479.5,606.1L482.3,606.5L484.8,606.9L487.2,607.6L489.6,608.6L492.0,609.9L494.4,611.4L496.6,613.1L498.5,614.9L500.1,616.6L501.4,618.4L502.6,620.4L503.6,622.5L504.6,624.9L505.5,627.5L506.2,630.2L506.6,632.6L506.6,634.7L506.3,636.6L505.7,638.4L504.8,640.2L503.4,641.9L501.7,643.5L499.6,645.0L497.2,646.5L494.4,647.9L491.1,649.3L487.7,650.5L484.6,651.6L481.9,652.7L479.4,653.7L476.9,654.5L474.5,654.9L471.9,654.8L469.4,654.4L466.8,653.7L464.2,652.9L461.7,652.1L459.2,651.2L456.7,650.2L454.0,649.1L450.8,647.9L447.3,646.6L444.0,645.2L441.2,644.0L439.1,643.0L437.5,642.1L436.2,641.2L435.1,640.2L434.2,639.1L433.7,638.0L433.4,636.7Z"/></clipPath>
<g clip-path="url(#bc13)">
<rect x="432.4" y="604.4" width="75.2" height="51.6" fill="#585858"/>
<path d="M441.1,645.5L427.0,632.4L392.2,624.7L145.2,599.7L110.5,630.2L324.7,841.4Z" fill="#5a5a5a"/>
<path d="M485.4,607.6L456.3,528.2L438.1,305.4L470.0,268.0L624.8,432.8L506.3,594.4Z" fill="#666666"/>
<path d="M486.1,620.0L484.9,618.4L465.7,599.0L464.9,605.5L475.7,626.1L484.2,623.9L485.8,622.6Z" fill="#5a5a5a"/>
<path d="M495.3,650.4L549.9,637.4L525.3,635.0L503.7,634.3L503.0,634.8Z" fill="#5a5a5a"/>
<path d="M455.2,644.7L462.5,643.2L466.9,640.2L466.8,636.2L455.3,625.2L454.1,626.5L451.0,631.3L452.7,640.6Z" fill="#535353"/>
<path d="M475.7,626.1L464.9,605.5L461.6,617.5L473.7,627.2Z" fill="#4d4d4d"/>
<path d="M473.7,627.2L461.6,617.5L455.2,624.7L455.3,625.2L466.8,636.2Z" fill="#535353"/>
<path d="M472.8,644.6L483.9,673.5L493.6,964.7L492.7,965.7L462.5,643.2L466.9,640.2L470.4,642.3Z" fill="#535353"/>
<path d="M492.6,614.1L506.3,594.4L485.4,607.6L484.9,618.4L486.1,620.0Z" fill="#535353"/>
<path d="M448.3,672.2L452.8,647.0L455.2,644.7L462.5,643.2L492.7,965.7L470.0,991.9L422.6,940.7Z" fill="#606060"/>
<path d="M488.1,642.8L488.8,643.3L503.0,634.8L503.7,634.3L485.8,622.6L484.2,623.9L483.8,632.2Z" fill="#535353"/>
<path d="M472.8,644.6L484.3,642.7L480.0,636.8L470.4,642.3Z" fill="#666666"/>
<path d="M454.1,626.5L439.3,627.7L448.1,619.1L455.2,624.7L455.3,625.2Z" fill="#535353"/>
<path d="M464.9,605.5L465.7,599.0L459.4,574.7L445.8,614.9L448.1,619.1L455.2,624.7L461.6,617.5Z" fill="#5a5a5a"/>
<path d="M485.4,607.6L456.3,528.2L459.4,574.7L465.7,599.0L484.9,618.4Z" fill="#5a5a5a"/>
<path d="M452.8,647.0L455.2,644.7L452.7,640.6L445.7,637.9L443.7,645.3Z" fill="#5a5a5a"/>
<path d="M503.7,634.3L485.8,622.6L486.1,620.0L492.6,614.1L525.3,635.0Z" fill="#535353"/>
<path d="M489.1,654.3L488.8,643.3L503.0,634.8L495.3,650.4Z" fill="#4d4d4d"/>
<path d="M441.4,645.6L443.7,645.3L452.8,647.0L448.3,672.2Z" fill="#4d4d4d"/>
<path d="M454.1,626.5L439.3,627.7L431.9,631.9L442.7,633.9L451.0,631.3Z" fill="#606060"/>
<path d="M392.2,624.7L445.8,614.9L459.4,574.7L456.3,528.2L438.1,305.4L145.2,599.7Z" fill="#535353"/>
<path d="M472.8,644.6L483.9,673.5L489.1,654.3L488.8,643.3L488.1,642.8L484.3,642.7Z" fill="#666666"/>
<path d="M392.2,624.7L445.8,614.9L448.1,619.1L439.3,627.7L431.9,631.9L427.0,632.4Z" fill="#606060"/>
<path d="M470.4,642.3L466.9,640.2L466.8,636.2L473.7,627.2L475.7,626.1L484.2,623.9L483.8,632.2L480.0,636.8Z" fill="#606060"/>
<path d="M441.4,645.6L443.7,645.3L445.7,637.9L442.7,633.9L431.9,631.9L427.0,632.4L441.1,645.5Z" fill="#666666"/>
<path d="M441.4,645.6L448.3,672.2L422.6,940.7L324.7,841.4L441.1,645.5Z" fill="#535353"/>
<path d="M484.3,642.7L488.1,642.8L483.8,632.2L480.0,636.8Z" fill="#5a5a5a"/>
<path d="M525.3,635.0L549.9,637.4L801.1,652.8L826.1,630.2L624.8,432.8L506.3,594.4L492.6,614.1Z" fill="#535353"/>
<path d="M452.7,640.6L451.0,631.3L442.7,633.9L445.7,637.9Z" fill="#5a5a5a"/>
<path d="M489.1,654.3L483.9,673.5L493.6,964.7L801.1,652.8L549.9,637.4L495.3,650.4Z" fill="#4d4d4d"/>
<rect x="432.4" y="604.4" width="75.2" height="51.6" filter="url(#tx1)" opacity="0.27"/>
<rect x="432.4" y="604.4" width="75.2" height="51.6" filter="url(#tx2)" opacity="0.75"/>
<path d="M496.7,629.4Q499.4,625.0 502.0,622.6M489.8,642.6Q493.4,644.1 496.3,647.1M487.3,631.2Q492.4,632.1 497.2,630.3M450.2,626.4Q455.8,630.0 462.4,631.5M474.1,653.7Q477.1,650.0 481.6,647.3M468.7,640.7Q469.0,635.2 470.1,631.1M468.3,642.5Q471.1,639.1 472.8,635.8M454.6,637.4Q456.3,636.0 458.0,632.0M458.7,620.0Q459.6,614.6 462.1,612.1M443.3,648.3Q444.6,645.1 443.7,639.0M483.7,621.6Q484.6,624.5 487.5,627.9M451.3,622.0Q453.6,620.0 458.6,620.7M493.4,615.8Q499.3,614.9 502.9,611.3M472.3,631.0Q476.5,626.9 481.6,624.9M465.9,634.7Q467.5,632.6 471.7,627.8M468.9,635.0Q471.5,632.5 475.2,632.7M490.9,639.7Q495.0,638.7 498.9,634.6M441.4,642.1Q443.4,637.4 447.2,634.7M472.0,615.7Q475.0,612.7 478.4,610.3M465.4,627.1Q465.6,623.3 467.2,618.0M472.8,630.9Q476.2,626.0 478.6,618.5M491.2,637.6Q495.2,640.9 500.3,643.7M442.1,634.2Q444.9,630.0 446.8,625.3M473.6,638.3Q474.2,632.3 474.6,629.2M474.5,623.4Q476.7,618.9 480.1,614.7M486.4,640.5Q492.9,641.9 499.1,641.0" fill="none" stroke="#8c8c8c" stroke-width="1.5" stroke-linecap="round" opacity="0.26"/>
<path d="M457.8,608.6L465.2,607.0L472.6,608.6L473.7,613.9L468.4,616.1L461.0,613.9Z" fill="#e2292b" stroke="#1c1c3a" stroke-width="0.6" stroke-opacity="0.7"/>
<path d="M458.9,620.3L465.2,619.2L472.6,621.4L474.8,624.5L468.4,625.6L461.0,624.5Z" fill="#e2292b" stroke="#1c1c3a" stroke-width="0.6" stroke-opacity="0.7"/>
<path d="M495.0,625.6L499.2,624.5L502.4,629.9L504.5,636.3L501.3,640.5L496.0,638.4L493.9,632.0Z" fill="#e2292b" stroke="#1c1c3a" stroke-width="0.6" stroke-opacity="0.7"/>
<path d="M445.8,614.9Q448.1,617.9 448.1,619.1M455.2,624.7Q451.0,621.0 448.1,619.1M465.7,599.0Q464.9,602.4 464.9,605.5M455.2,624.7Q457.8,622.3 461.6,617.5M445.8,614.9Q452.7,595.9 459.4,574.7M461.6,617.5Q462.4,610.4 464.9,605.5M445.8,614.9Q419.0,620.6 392.2,624.7M431.9,631.9Q435.1,630.9 439.3,627.7M448.1,619.1Q442.8,624.4 439.3,627.7M431.9,631.9Q430.6,632.7 427.0,632.4M801.1,652.8Q647.7,809.2 493.6,964.7M442.7,633.9Q446.3,631.5 451.0,631.3M442.7,633.9Q437.7,633.5 431.9,631.9M439.3,627.7Q446.4,626.8 454.1,626.5M451.0,631.3Q451.5,627.9 454.1,626.5M455.2,624.7Q455.9,624.7 455.3,625.2M455.3,625.2Q455.2,626.8 454.1,626.5M456.3,528.2Q469.7,566.7 485.4,607.6M465.7,599.0Q476.3,608.0 484.9,618.4M484.9,618.4Q484.4,613.0 485.4,607.6M506.3,594.4Q496.4,601.2 485.4,607.6M455.3,625.2Q461.9,631.9 466.8,636.2M461.6,617.5Q466.6,622.8 473.7,627.2M466.8,636.2Q469.7,632.4 473.7,627.2M464.9,605.5Q470.9,616.9 475.7,626.1M473.7,627.2Q474.7,626.1 475.7,626.1M451.0,631.3Q452.6,637.2 452.7,640.6M442.7,633.9Q444.7,636.3 445.7,637.9M445.7,637.9Q449.3,639.7 452.7,640.6M466.8,636.2Q467.4,638.6 466.9,640.2M462.5,643.2Q464.1,641.7 466.9,640.2M462.5,643.2Q458.8,643.3 455.2,644.7M452.7,640.6Q454.3,643.0 455.2,644.7M485.8,622.6Q495.7,628.4 503.7,634.3M485.8,622.6Q486.4,622.3 486.1,620.0M486.1,620.0Q490.0,617.6 492.6,614.1M492.6,614.1Q509.1,623.5 525.3,635.0M525.3,635.0Q513.5,634.5 503.7,634.3M484.2,623.9Q480.0,623.9 475.7,626.1M484.9,618.4Q485.6,618.2 486.1,620.0M484.2,623.9Q484.5,622.8 485.8,622.6M506.3,594.4Q499.0,603.2 492.6,614.1M445.7,637.9Q443.8,642.4 443.7,645.3M455.2,644.7Q453.6,646.0 452.8,647.0M443.7,645.3Q447.6,645.3 452.8,647.0M503.0,634.8Q498.6,641.5 495.3,650.4M503.0,634.8Q495.1,638.3 488.8,643.3M488.8,643.3Q488.0,649.3 489.1,654.3M495.3,650.4Q493.1,651.9 489.1,654.3M549.9,637.4Q521.9,643.2 495.3,650.4M503.7,634.3Q503.3,634.0 503.0,634.8M483.9,673.5Q487.3,663.2 489.1,654.3M484.2,623.9Q483.8,627.0 483.8,632.2M488.8,643.3Q487.4,643.5 488.1,642.8M483.8,632.2Q484.9,637.2 488.1,642.8M448.3,672.2Q443.7,658.2 441.4,645.6M324.7,841.4Q383.9,744.5 441.1,645.5M441.1,645.5Q440.5,646.4 441.4,645.6M492.7,965.7Q478.7,804.5 462.5,643.2M452.8,647.0Q450.4,660.5 448.3,672.2M443.7,645.3Q441.7,644.7 441.4,645.6M427.0,632.4Q434.1,638.9 441.1,645.5M480.0,636.8Q482.1,640.8 484.3,642.7M480.0,636.8Q475.9,638.4 470.4,642.3M484.3,642.7Q479.1,643.0 472.8,644.6M470.4,642.3Q470.7,643.1 472.8,644.6M483.8,632.2Q482.0,634.1 480.0,636.8M488.1,642.8Q486.1,643.7 484.3,642.7M466.9,640.2Q468.3,642.3 470.4,642.3M483.9,673.5Q478.3,659.9 472.8,644.6" fill="none" stroke="#1e1e1e" stroke-width="0.8"/>
<path d="M456.8,630.2L458.9,628.2L461.7,626.1L464.9,624.5L468.3,623.8L472.1,623.6L475.9,623.8L479.7,624.1L483.5,624.8L486.8,625.7L489.5,626.9L491.7,628.4L493.4,630.2L494.8,632.5L495.8,635.1L496.0,637.6L495.4,640.0L494.0,642.3L492.0,644.6L489.1,647.2L485.6,649.8L481.7,652.0L477.4,653.9L472.7,655.5L468.5,656.0L465.1,655.2L462.1,653.4L459.8,651.0L458.0,647.9L456.9,644.3L456.1,641.1L455.5,638.8L455.3,636.9L455.4,635.2L455.4,633.5L455.8,631.9Z" fill="#383838" fill-opacity="0.72" stroke="#1f1f1f" stroke-width="0.9"/>
<path d="M462.8,641.4A11.0,6.4 0 0 1 484.7,641.4M462.7,643.9A15.4,5.9 0 0 1 493.4,643.9M467.5,639.0A6.5,7.5 0 0 1 480.5,639.0M457.6,641.0A14.3,6.2 0 0 1 486.2,641.0M463.7,642.3A9.3,5.5 0 0 1 482.3,642.3" fill="none" stroke="#575757" stroke-width="1.1" stroke-opacity="0.5"/>
</g>
<use href="#bo13" fill="none" stroke="#1b1b1b" stroke-width="1.3"/>
<clipPath id="bc14"><path id="bo14" d="M514.8,633.4L515.2,630.7L516.1,627.8L517.5,624.9L519.0,622.2L520.8,619.8L522.8,617.5L525.2,615.5L527.7,613.6L530.6,611.8L533.8,610.2L537.2,608.9L540.4,607.8L543.6,607.0L546.7,606.5L549.9,606.3L553.0,606.1L556.2,606.0L559.5,606.1L562.7,606.3L565.6,606.8L568.4,607.5L571.0,608.4L573.4,609.6L575.7,611.0L577.9,612.8L579.9,614.9L581.7,617.3L583.3,619.7L584.7,622.4L585.8,625.3L586.7,628.3L587.1,630.9L587.1,633.4L586.6,635.6L585.8,637.7L584.6,639.7L582.9,641.5L580.8,643.1L578.3,644.5L575.7,645.9L572.8,647.1L569.7,648.1L566.4,649.1L563.2,650.1L560.0,651.1L556.8,652.2L553.7,653.2L550.5,653.8L547.3,654.1L544.0,654.1L540.9,653.9L537.9,653.3L535.2,652.4L532.6,651.2L530.2,649.8L527.7,648.4L525.1,647.0L522.3,645.5L519.7,643.9L517.7,642.1L516.3,640.2L515.3,638.1L514.8,635.8Z"/></clipPath>
<g clip-path="url(#bc14)">
<rect x="513.4" y="604.9" width="74.9" height="51.1" fill="#585858"/>
<path d="M534.8,611.9L528.0,596.3L526.6,612.0L529.8,613.0Z" fill="#5a5a5a"/>
<path d="M552.7,634.0L552.6,633.5L551.4,623.9L552.3,621.9L581.0,602.2L554.8,634.7Z" fill="#666666"/>
<path d="M552.3,621.9L553.6,615.0L635.9,366.3L724.2,460.3L581.0,602.2Z" fill="#666666"/>
<path d="M581.8,640.9L583.4,644.4L889.8,650.9L911.2,630.5L733.9,470.1L600.1,608.1Z" fill="#4d4d4d"/>
<path d="M534.8,611.9L528.0,596.3L512.6,311.6L550.9,271.1L564.5,286.9L543.1,601.4L535.8,612.5Z" fill="#666666"/>
<path d="M576.7,646.4L580.5,647.6L580.6,649.8L578.8,663.0L572.3,651.8Z" fill="#606060"/>
<path d="M543.5,613.9L543.7,606.1L543.1,601.4L535.8,612.5L536.3,613.5Z" fill="#4d4d4d"/>
<path d="M580.5,647.6L580.6,649.8L848.5,691.7L889.8,650.9L583.4,644.4Z" fill="#4d4d4d"/>
<path d="M543.5,613.9L543.7,606.1L553.6,615.0L552.3,621.9L551.4,623.9L545.8,618.4Z" fill="#5a5a5a"/>
<path d="M561.0,642.5L553.2,989.0L614.8,924.0L578.8,663.0L572.3,651.8Z" fill="#5a5a5a"/>
<path d="M529.4,625.8L530.5,622.2L533.9,619.7L552.6,633.5L552.7,634.0L542.1,639.8L539.8,639.4L530.5,631.4Z" fill="#5a5a5a"/>
<path d="M564.2,636.9L570.2,634.4L581.8,640.9L583.4,644.4L580.5,647.6L576.7,646.4Z" fill="#4d4d4d"/>
<path d="M570.2,634.4L600.1,608.1L581.8,640.9Z" fill="#606060"/>
<path d="M475.4,671.6L539.8,639.4L542.1,639.8L532.7,971.3L326.8,755.6Z" fill="#535353"/>
<path d="M564.2,636.9L576.7,646.4L572.3,651.8L561.0,642.5L559.9,637.6Z" fill="#5a5a5a"/>
<path d="M545.8,618.4L551.4,623.9L552.6,633.5L533.9,619.7L534.4,618.7L534.5,618.6Z" fill="#5a5a5a"/>
<path d="M578.8,663.0L614.8,924.0L848.5,691.7L580.6,649.8Z" fill="#666666"/>
<path d="M526.6,612.0L525.2,614.0L334.8,491.4L512.6,311.6L528.0,596.3Z" fill="#666666"/>
<path d="M475.4,671.6L539.8,639.4L530.5,631.4L527.9,631.8Z" fill="#606060"/>
<path d="M536.3,613.5L535.8,612.5L534.8,611.9L529.8,613.0L534.4,618.7L534.5,618.6Z" fill="#606060"/>
<path d="M559.9,637.6L554.8,634.7L552.7,634.0L542.1,639.8L532.7,971.3L550.8,991.6L553.2,989.0L561.0,642.5Z" fill="#5a5a5a"/>
<path d="M543.7,606.1L543.1,601.4L564.5,286.9L635.9,366.3L553.6,615.0Z" fill="#5a5a5a"/>
<path d="M523.5,623.6L520.5,617.5L524.8,615.0L530.5,622.2L529.4,625.8Z" fill="#4d4d4d"/>
<path d="M543.5,613.9L536.3,613.5L534.5,618.6L545.8,618.4Z" fill="#4d4d4d"/>
<path d="M200.3,633.8L520.5,617.5L523.5,623.6L513.8,628.3Z" fill="#535353"/>
<path d="M534.4,618.7L533.9,619.7L530.5,622.2L524.8,615.0L525.2,614.0L526.6,612.0L529.8,613.0Z" fill="#666666"/>
<path d="M475.4,671.6L527.9,631.8L513.8,628.3L200.3,633.8L199.0,633.8L326.8,755.6Z" fill="#5a5a5a"/>
<path d="M564.2,636.9L570.2,634.4L600.1,608.1L733.9,470.1L724.2,460.3L581.0,602.2L554.8,634.7L559.9,637.6Z" fill="#606060"/>
<path d="M527.9,631.8L530.5,631.4L529.4,625.8L523.5,623.6L513.8,628.3Z" fill="#4d4d4d"/>
<path d="M200.3,633.8L520.5,617.5L524.8,615.0L525.2,614.0L334.8,491.4L195.3,630.5L199.0,633.8Z" fill="#606060"/>
<rect x="513.4" y="604.9" width="74.9" height="51.1" filter="url(#tx1)" opacity="0.27"/>
<rect x="513.4" y="604.9" width="74.9" height="51.1" filter="url(#tx2)" opacity="0.75"/>
<path d="M552.3,657.2Q551.5,652.4 551.1,647.8M552.9,655.2Q558.5,650.7 562.4,648.2M564.9,626.8Q567.6,627.5 571.4,627.5M556.9,633.4Q562.0,628.2 566.1,624.1M537.9,617.7Q540.5,615.8 544.0,611.1M522.9,627.7Q527.9,623.6 531.7,617.7M546.8,626.9Q549.5,624.3 550.6,620.9M545.8,640.6Q549.8,635.7 555.9,631.1M519.9,635.4Q522.9,632.1 527.2,629.2M557.0,629.7Q557.9,623.9 556.5,618.4M551.4,609.5Q557.0,609.4 564.5,611.2M530.8,653.1Q535.7,648.3 539.3,642.1M558.1,632.6Q562.3,635.0 566.8,636.5M539.8,647.9Q542.3,642.7 545.6,640.3M541.0,641.8Q546.6,641.2 550.3,640.5M577.5,647.6Q581.8,650.3 585.1,656.1M521.9,655.4Q524.7,650.7 527.9,645.5M579.2,614.2Q583.7,618.7 585.5,621.0M566.5,623.8Q570.7,623.8 573.1,624.5M524.1,649.6Q527.1,647.3 531.5,644.5M559.1,649.2Q562.0,650.0 567.2,653.4M535.1,641.0Q537.8,637.6 540.2,631.7M563.1,628.1Q569.8,629.3 575.0,630.9M555.8,652.8Q559.3,651.8 562.4,651.1M534.9,624.6Q536.7,618.5 538.8,611.9M540.4,632.1Q544.6,631.1 551.5,633.0" fill="none" stroke="#8c8c8c" stroke-width="1.5" stroke-linecap="round" opacity="0.26"/>
<path d="M547.1,614.3L552.5,611.2L559.8,610.1L561.9,614.3L558.8,617.5L551.4,618.6Z" fill="#e2292b" stroke="#1c1c3a" stroke-width="0.6" stroke-opacity="0.7"/>
<path d="M559.8,621.7L566.2,617.5L571.5,617.5L573.6,623.8L573.6,630.2L569.4,634.4L564.0,637.5L561.9,632.2L559.8,627.0Z" fill="#e2292b" stroke="#1c1c3a" stroke-width="0.6" stroke-opacity="0.7"/>
<path d="M635.9,366.3Q595.3,490.6 553.6,615.0M543.1,601.4Q543.3,604.1 543.7,606.1M553.6,615.0Q549.6,609.6 543.7,606.1M553.6,615.0Q554.1,619.6 552.3,621.9M581.0,602.2Q567.6,612.5 552.3,621.9M334.8,491.4Q429.4,552.8 525.2,614.0M525.2,614.0Q526.0,612.9 526.6,612.0M528.0,596.3Q528.1,604.8 526.6,612.0M551.4,623.9Q551.9,623.5 552.3,621.9M581.0,602.2Q567.5,618.2 554.8,634.7M551.4,623.9Q550.9,629.1 552.6,633.5M552.6,633.5Q551.7,634.7 552.7,634.0M554.8,634.7Q553.0,635.3 552.7,634.0M848.5,691.7Q715.0,671.2 580.6,649.8M580.6,649.8Q580.0,656.6 578.8,663.0M528.0,596.3Q532.0,605.3 534.8,611.9M526.6,612.0Q528.6,611.8 529.8,613.0M529.8,613.0Q532.5,613.3 534.8,611.9M524.8,615.0Q528.6,618.3 530.5,622.2M533.9,619.7Q531.1,620.9 530.5,622.2M525.2,614.0Q525.7,615.6 524.8,615.0M533.9,619.7Q533.8,618.7 534.4,618.7M529.8,613.0Q532.0,615.1 534.4,618.7M543.1,601.4Q539.2,606.6 535.8,612.5M535.8,612.5Q536.0,612.3 534.8,611.9M542.1,639.8Q547.1,635.8 552.7,634.0M539.8,639.4Q534.8,636.2 530.5,631.4M539.8,639.4Q541.0,640.3 542.1,639.8M552.6,633.5Q542.4,626.1 533.9,619.7M530.5,622.2Q530.7,624.9 529.4,625.8M530.5,631.4Q531.0,628.3 529.4,625.8M520.5,617.5Q522.6,616.0 524.8,615.0M520.5,617.5Q521.6,620.3 523.5,623.6M529.4,625.8Q527.3,624.4 523.5,623.6M889.8,650.9Q736.3,647.7 583.4,644.4M580.6,649.8Q580.2,649.3 580.5,647.6M583.4,644.4Q581.2,647.1 580.5,647.6M534.5,618.6Q536.6,616.0 536.3,613.5M534.5,618.6Q540.1,618.8 545.8,618.4M536.3,613.5Q540.0,612.6 543.5,613.9M545.8,618.4Q545.6,617.1 543.5,613.9M534.4,618.7Q535.0,619.7 534.5,618.6M535.8,612.5Q537.0,613.7 536.3,613.5M551.4,623.9Q548.0,620.3 545.8,618.4M543.7,606.1Q542.8,609.3 543.5,613.9M513.8,628.3Q520.6,628.9 527.9,631.8M513.8,628.3Q357.0,632.0 200.3,633.8M527.9,631.8Q501.8,652.3 475.4,671.6M530.5,631.4Q528.9,631.2 527.9,631.8M523.5,623.6Q517.9,627.0 513.8,628.3M520.5,617.5Q359.9,625.0 200.3,633.8M539.8,639.4Q506.8,656.1 475.4,671.6M532.7,971.3Q538.0,804.4 542.1,639.8M600.1,608.1Q584.8,620.7 570.2,634.4M600.1,608.1Q591.6,625.1 581.8,640.9M581.8,640.9Q576.4,637.6 570.2,634.4M583.4,644.4Q581.7,643.4 581.8,640.9M572.3,651.8Q573.9,648.5 576.7,646.4M572.3,651.8Q565.6,647.5 561.0,642.5M576.7,646.4Q569.4,642.4 564.2,636.9M561.0,642.5Q559.5,640.9 559.9,637.6M559.9,637.6Q561.0,637.7 564.2,636.9M578.8,663.0Q575.0,658.2 572.3,651.8M580.5,647.6Q578.2,648.0 576.7,646.4M553.2,989.0Q557.9,814.6 561.0,642.5M570.2,634.4Q567.6,635.6 564.2,636.9M554.8,634.7Q557.3,635.4 559.9,637.6" fill="none" stroke="#1e1e1e" stroke-width="0.8"/>
<path d="M521.0,638.3L521.6,635.5L523.2,632.8L525.3,630.5L527.8,628.5L530.8,626.8L534.1,625.5L537.9,624.7L542.1,624.2L546.1,624.1L549.9,624.3L553.5,625.0L556.7,626.0L559.3,627.4L561.4,629.2L562.9,631.4L563.8,634.2L564.1,637.3L564.0,640.3L563.4,643.0L562.3,645.5L560.3,648.1L557.3,651.2L553.5,654.2L549.4,656.0L545.1,655.8L540.5,654.3L536.3,652.5L532.5,650.9L529.0,648.9L526.1,646.7L523.6,644.0L521.8,641.1Z" fill="#383838" fill-opacity="0.72" stroke="#1f1f1f" stroke-width="0.9"/>
<path d="M525.0,642.1A13.6,4.7 0 0 1 552.2,642.1M526.7,642.1A15.3,5.2 0 0 1 557.4,642.1M525.8,644.4A13.0,5.4 0 0 1 551.7,644.4M529.2,641.7A10.4,8.6 0 0 1 550.0,641.7M534.1,639.7A7.3,4.8 0 0 1 548.7,639.7" fill="none" stroke="#575757" stroke-width="1.1" stroke-opacity="0.5"/>
</g>
<use href="#bo14" fill="none" stroke="#1b1b1b" stroke-width="1.3"/>
<clipPath id="bc15"><path id="bo15" d="M593.7,633.0L593.9,631.0L594.4,628.6L595.1,626.2L596.0,624.0L597.1,622.1L598.3,620.2L599.7,618.5L601.2,616.9L603.0,615.4L604.9,614.1L607.0,612.9L609.1,611.7L611.2,610.7L613.3,609.8L615.6,609.0L618.2,608.3L621.2,607.5L624.6,606.8L628.0,606.2L631.2,605.9L634.3,605.8L637.3,605.9L640.2,606.2L643.0,606.6L645.5,607.1L647.8,607.8L650.0,608.7L652.1,609.9L654.2,611.5L656.3,613.4L658.2,615.5L659.9,617.6L661.3,619.8L662.6,622.1L663.6,624.4L664.5,626.6L665.3,628.6L665.9,630.6L666.3,632.5L666.4,634.3L666.3,636.2L665.9,638.1L665.3,639.9L664.5,641.4L663.4,642.8L662.1,643.9L660.5,645.0L658.6,646.0L656.3,647.0L653.8,648.0L651.0,648.9L648.2,649.8L645.3,650.7L642.2,651.6L639.2,652.3L636.4,653.0L633.9,653.7L631.7,654.4L629.5,654.9L627.3,655.0L625.0,654.6L622.7,653.8L620.5,652.7L618.2,651.7L615.9,650.7L613.7,649.6L611.4,648.4L609.1,647.3L606.7,646.2L604.2,645.0L601.9,643.9L599.9,642.7L598.4,641.6L597.2,640.5L596.2,639.4L595.4,638.3L594.7,637.1L594.1,635.9L593.8,634.6Z"/></clipPath>
<g clip-path="url(#bc15)">
<rect x="592.4" y="604.9" width="75.0" height="51.1" fill="#585858"/>
<path d="M650.8,618.5L648.0,616.7L647.7,612.8L664.1,375.3L671.7,320.8L907.5,555.0L682.9,621.3L666.5,624.6Z" fill="#797979"/>
<path d="M604.2,627.2L592.6,629.1L600.6,608.3L610.0,614.3Z" fill="#676767"/>
<path d="M642.8,645.3L646.3,641.8L651.1,642.8L652.1,645.0L671.6,703.7L653.6,670.2Z" fill="#555555"/>
<path d="M682.9,621.3L907.5,555.0L991.1,630.4L853.4,761.6L662.5,639.3Z" fill="#555555"/>
<path d="M634.4,645.9L634.2,640.8L639.1,633.2L645.2,637.3L646.3,641.8L642.8,645.3Z" fill="#5e5e5e"/>
<path d="M616.9,635.8L615.0,631.9L627.7,622.2L634.9,626.1L629.3,636.5Z" fill="#555555"/>
<path d="M610.0,614.3L600.6,608.3L529.0,374.3L629.9,270.6L671.7,320.8L664.1,375.3L622.5,597.9Z" fill="#797979"/>
<path d="M660.7,644.6L752.7,859.0L744.6,867.1L671.6,703.7L652.1,645.0Z" fill="#676767"/>
<path d="M660.5,644.1L661.6,639.4L662.5,639.3L853.4,761.6L752.7,859.0L660.7,644.6Z" fill="#707070"/>
<path d="M627.4,618.1L622.5,597.9L664.1,375.3L647.7,612.8Z" fill="#838383"/>
<path d="M665.7,625.3L654.1,629.6L653.1,630.7L659.0,635.3Z" fill="#707070"/>
<path d="M660.5,644.1L653.6,640.7L651.1,642.8L652.1,645.0L660.7,644.6Z" fill="#676767"/>
<path d="M651.1,642.8L646.3,641.8L645.2,637.3L650.6,631.9L650.6,631.9L654.9,638.3L653.6,640.7Z" fill="#676767"/>
<path d="M654.1,629.6L650.8,618.5L648.0,616.7L647.4,617.5L649.2,630.1L650.6,631.9L650.6,631.9L653.1,630.7Z" fill="#676767"/>
<path d="M645.2,637.3L650.6,631.9L649.2,630.1L638.0,628.9L639.1,633.2Z" fill="#707070"/>
<path d="M634.2,646.1L629.6,649.4L626.3,659.9L599.0,956.9L629.9,992.2L744.6,867.1L671.6,703.7L653.6,670.2Z" fill="#5e5e5e"/>
<path d="M660.5,644.1L661.6,639.4L658.7,636.7L654.9,638.3L653.6,640.7Z" fill="#838383"/>
<path d="M647.4,617.5L636.7,626.6L634.9,626.1L627.7,622.2L627.4,618.1L647.7,612.8L648.0,616.7Z" fill="#555555"/>
<path d="M665.7,625.3L666.5,624.6L650.8,618.5L654.1,629.6Z" fill="#797979"/>
<path d="M617.0,637.0L614.0,644.7L626.3,659.9L629.6,649.4Z" fill="#5e5e5e"/>
<path d="M634.4,645.9L634.2,640.8L629.3,636.5L616.9,635.8L617.0,637.0L629.6,649.4L634.2,646.1Z" fill="#555555"/>
<path d="M617.0,637.0L614.0,644.7L458.1,807.0L349.1,697.4L592.6,629.1L604.2,627.2L615.0,631.9L616.9,635.8Z" fill="#797979"/>
<path d="M665.7,625.3L666.5,624.6L682.9,621.3L662.5,639.3L661.6,639.4L658.7,636.7L659.0,635.3Z" fill="#555555"/>
<path d="M659.0,635.3L658.7,636.7L654.9,638.3L650.6,631.9L653.1,630.7Z" fill="#676767"/>
<path d="M649.2,630.1L638.0,628.9L636.7,626.6L647.4,617.5Z" fill="#838383"/>
<path d="M626.3,659.9L614.0,644.7L458.1,807.0L599.0,956.9Z" fill="#555555"/>
<path d="M634.4,645.9L642.8,645.3L653.6,670.2L634.2,646.1Z" fill="#676767"/>
<path d="M627.4,618.1L622.5,597.9L610.0,614.3L604.2,627.2L615.0,631.9L627.7,622.2Z" fill="#797979"/>
<path d="M634.2,640.8L629.3,636.5L634.9,626.1L636.7,626.6L638.0,628.9L639.1,633.2Z" fill="#838383"/>
<path d="M592.6,629.1L600.6,608.3L529.0,374.3L273.1,630.5L349.1,697.4Z" fill="#676767"/>
<rect x="592.4" y="604.9" width="75.0" height="51.1" filter="url(#tx1)" opacity="0.48"/>
<rect x="592.4" y="604.9" width="75.0" height="51.1" filter="url(#tx2)" opacity="0.75"/>
<path d="M627.4,636.9Q630.4,633.6 633.5,628.0M644.2,618.1Q648.2,623.0 653.2,627.8M598.7,642.7Q605.2,639.0 609.2,635.1M646.5,629.9Q648.4,631.1 652.5,631.8M648.3,627.7Q648.1,631.2 650.3,633.6M653.1,636.1Q659.3,635.1 664.9,633.3M596.1,648.8Q603.0,644.5 608.4,642.6M636.2,616.2Q636.3,609.5 633.7,604.5M599.5,648.4Q605.4,643.7 610.0,641.4M634.9,655.4Q635.4,650.0 638.9,647.5M634.3,648.7Q638.7,651.4 643.4,653.3M619.3,625.2Q624.8,624.5 628.7,623.2M611.2,624.9Q614.8,625.9 620.7,624.3M633.9,642.1Q636.8,644.2 641.2,647.9M634.1,650.4Q639.4,651.6 644.0,650.8M634.3,606.2Q638.3,611.4 642.6,614.1M649.6,639.2Q652.5,643.2 652.6,646.6M629.1,629.1Q633.1,624.2 636.4,618.8M632.7,653.4Q631.2,650.0 632.7,647.4M643.8,643.6Q648.3,643.6 653.8,643.0M653.8,622.7Q658.0,624.8 663.8,624.0M630.0,648.2Q633.2,642.5 636.3,636.5M630.2,644.4Q633.9,643.0 639.1,639.9M655.3,642.7Q660.6,641.8 662.8,640.6M649.7,616.1Q653.8,616.8 660.1,615.6M627.3,649.6Q629.7,645.0 631.8,642.4" fill="none" stroke="#8c8c8c" stroke-width="1.5" stroke-linecap="round" opacity="0.38"/>
<path d="M604.0,625.9L608.2,622.7L613.5,623.8L615.6,628.0L613.5,632.2L608.2,633.3L604.0,630.2Z" fill="#e2292b" stroke="#1c1c3a" stroke-width="0.6" stroke-opacity="0.7"/>
<path d="M611.4,640.7L615.6,640.7L619.8,644.9L623.0,650.1L618.8,652.3L613.5,648.0Z" fill="#e2292b" stroke="#1c1c3a" stroke-width="0.6" stroke-opacity="0.7"/>
<path d="M636.8,630.2L641.0,628.0L644.2,631.2L643.1,636.4L638.9,637.5L636.8,634.4Z" fill="#8f2f38" stroke="#1c1c3a" stroke-width="0.6" stroke-opacity="0.7"/>
<path d="M529.0,374.3Q564.1,490.7 600.6,608.3M600.6,608.3Q596.7,617.6 592.6,629.1M349.1,697.4Q471.8,663.5 592.6,629.1M600.6,608.3Q605.5,611.1 610.0,614.3M622.5,597.9Q617.3,606.5 610.0,614.3M592.6,629.1Q597.8,627.9 604.2,627.2M610.0,614.3Q606.2,620.8 604.2,627.2M458.1,807.0Q534.9,725.3 614.0,644.7M614.0,644.7Q620.5,652.1 626.3,659.9M622.5,597.9Q624.5,608.5 627.4,618.1M664.1,375.3Q655.4,493.0 647.7,612.8M647.7,612.8Q638.1,616.0 627.4,618.1M615.0,631.9Q608.8,628.7 604.2,627.2M615.0,631.9Q622.3,627.2 627.7,622.2M627.7,622.2Q626.4,619.3 627.4,618.1M853.4,761.6Q758.7,699.4 662.5,639.3M662.5,639.3Q671.9,630.9 682.9,621.3M647.7,612.8Q647.7,614.0 648.0,616.7M634.9,626.1Q635.0,625.2 636.7,626.6M636.7,626.6Q641.1,622.1 647.4,617.5M627.7,622.2Q630.9,623.0 634.9,626.1M648.0,616.7Q648.0,617.9 647.4,617.5M638.0,628.9Q636.6,628.4 636.7,626.6M638.0,628.9Q644.3,628.6 649.2,630.1M647.4,617.5Q648.9,623.5 649.2,630.1M626.3,659.9Q629.2,654.5 629.6,649.4M614.0,644.7Q615.9,641.5 617.0,637.0M629.6,649.4Q622.2,643.6 617.0,637.0M615.0,631.9Q614.8,633.4 616.9,635.8M634.9,626.1Q632.2,630.3 629.3,636.5M629.3,636.5Q623.8,635.1 616.9,635.8M616.9,635.8Q616.7,635.4 617.0,637.0M629.3,636.5Q632.3,639.5 634.2,640.8M638.0,628.9Q638.5,630.2 639.1,633.2M639.1,633.2Q637.6,638.1 634.2,640.8M649.2,630.1Q650.2,631.9 650.6,631.9M650.6,631.9Q648.3,635.6 645.2,637.3M639.1,633.2Q643.2,634.8 645.2,637.3M682.9,621.3Q674.7,623.2 666.5,624.6M648.0,616.7Q650.3,616.6 650.8,618.5M666.5,624.6Q658.7,621.8 650.8,618.5M653.1,630.7Q653.2,629.7 654.1,629.6M653.1,630.7Q656.5,634.1 659.0,635.3M654.1,629.6Q660.7,628.5 665.7,625.3M659.0,635.3Q663.3,630.3 665.7,625.3M650.6,631.9Q651.2,631.1 650.6,631.9M650.6,631.9Q651.0,630.7 653.1,630.7M650.8,618.5Q651.8,622.9 654.1,629.6M650.6,631.9Q652.2,634.8 654.9,638.3M654.9,638.3Q657.0,637.5 658.7,636.7M658.7,636.7Q658.8,636.3 659.0,635.3M666.5,624.6Q665.7,624.9 665.7,625.3M662.5,639.3Q662.5,639.5 661.6,639.4M658.7,636.7Q660.2,638.5 661.6,639.4M653.6,640.7Q656.6,643.4 660.5,644.1M653.6,640.7Q652.2,641.4 651.1,642.8M651.1,642.8Q651.8,644.0 652.1,645.0M652.1,645.0Q657.5,643.9 660.7,644.6M660.7,644.6Q661.2,643.7 660.5,644.1M654.9,638.3Q653.1,639.5 653.6,640.7M661.6,639.4Q661.2,641.0 660.5,644.1M646.3,641.8Q649.7,643.1 651.1,642.8M645.2,637.3Q644.6,640.7 646.3,641.8M671.6,703.7Q661.7,675.5 652.1,645.0M752.7,859.0Q706.5,752.8 660.7,644.6M653.6,670.2Q647.8,657.0 642.8,645.3M653.6,670.2Q643.3,658.5 634.2,646.1M642.8,645.3Q638.6,645.6 634.4,645.9M634.2,646.1Q635.2,645.2 634.4,645.9M646.3,641.8Q644.7,643.1 642.8,645.3M629.6,649.4Q630.9,647.4 634.2,646.1M634.2,640.8Q633.6,643.9 634.4,645.9" fill="none" stroke="#1e1e1e" stroke-width="0.8"/>
</g>
<use href="#bo15" fill="none" stroke="#1b1b1b" stroke-width="1.3"/>
</svg></body></html>
